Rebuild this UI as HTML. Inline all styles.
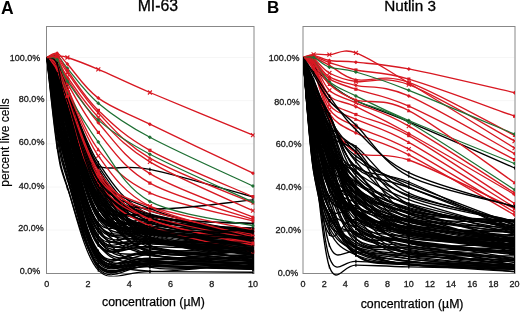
<!DOCTYPE html><html><head><meta charset="utf-8"><style>
html,body{margin:0;padding:0;background:#fff;width:520px;height:312px;overflow:hidden}
svg{display:block}

svg{will-change:transform}
</style></head><body><div class="wrap">
<svg width="520" height="312" viewBox="0 0 520 312" font-family="'Liberation Sans', sans-serif">
<defs><clipPath id="ca"><rect x="46.5" y="26.4" width="208" height="250"/></clipPath>
<clipPath id="cb"><rect x="303" y="26.4" width="212" height="250"/></clipPath></defs>
<rect width="520" height="312" fill="#fff"/>
<path d="M47 230.1H253.5M303.5 230.1H514.5" stroke="#f6f6f6" stroke-width="1"/><path d="M47 187.0H253.5M303.5 187.0H514.5" stroke="#f6f6f6" stroke-width="1"/><path d="M47 143.8H253.5M303.5 143.8H514.5" stroke="#f6f6f6" stroke-width="1"/><path d="M47 100.7H253.5M303.5 100.7H514.5" stroke="#f6f6f6" stroke-width="1"/><path d="M47 57.5H253.5M303.5 57.5H514.5" stroke="#f6f6f6" stroke-width="1"/>
<rect x="46.5" y="26.5" width="207.5" height="247" fill="none" stroke="#888" stroke-width="1"/>
<rect x="303" y="26.5" width="212" height="247" fill="none" stroke="#888" stroke-width="1"/>
<g clip-path="url(#ca)"><path d="M46.8 57.5C48.5 72.5 53.7 125.5 57.1 147.3C60.5 169.0 60.5 168.2 67.4 187.8C74.3 207.3 84.6 251.6 98.3 264.7C112.1 277.8 124.1 265.6 149.9 266.4C175.7 267.2 235.8 268.9 253.0 269.4" stroke="#000" stroke-width="1.35" fill="none"/><path d="M57.1 145.7L57.1 148.9" stroke="#000" stroke-width="1.2"/><path d="M67.4 186.2L67.4 189.4" stroke="#000" stroke-width="1.2"/><path d="M98.3 263.1L98.3 266.3" stroke="#000" stroke-width="1.2"/><path d="M149.9 264.8L149.9 268.0" stroke="#000" stroke-width="1.2"/><path d="M253.0 267.8L253.0 271.0" stroke="#000" stroke-width="1.2"/><path d="M46.8 57.5C48.5 58.7 53.7 59.8 57.1 64.8C60.5 69.9 60.5 70.2 67.4 87.6C74.3 105.0 84.6 145.7 98.3 169.1C112.1 192.5 124.1 215.5 149.9 227.9C175.7 240.4 235.8 241.0 253.0 243.7" stroke="#000" stroke-width="1.35" fill="none"/><path d="M57.1 63.2L57.1 66.4" stroke="#000" stroke-width="1.2"/><path d="M67.4 86.0L67.4 89.2" stroke="#000" stroke-width="1.2"/><path d="M98.3 167.5L98.3 170.7" stroke="#000" stroke-width="1.2"/><path d="M149.9 226.3L149.9 229.5" stroke="#000" stroke-width="1.2"/><path d="M253.0 242.1L253.0 245.3" stroke="#000" stroke-width="1.2"/><path d="M46.8 57.5C48.5 61.5 53.7 70.2 57.1 81.5C60.5 92.8 60.5 103.0 67.4 125.2C74.3 147.3 84.6 196.2 98.3 214.3C112.1 232.5 124.1 230.5 149.9 233.9C175.7 237.4 235.8 234.7 253.0 234.9" stroke="#000" stroke-width="1.35" fill="none"/><path d="M57.1 79.9L57.1 83.1" stroke="#000" stroke-width="1.2"/><path d="M67.4 123.6L67.4 126.8" stroke="#000" stroke-width="1.2"/><path d="M98.3 212.7L98.3 215.9" stroke="#000" stroke-width="1.2"/><path d="M149.9 232.3L149.9 235.5" stroke="#000" stroke-width="1.2"/><path d="M253.0 233.3L253.0 236.5" stroke="#000" stroke-width="1.2"/><path d="M46.8 57.5C48.5 59.1 53.7 60.5 57.1 67.2C60.5 73.9 60.5 78.2 67.4 97.5C74.3 116.7 84.6 160.5 98.3 182.7C112.1 204.9 124.1 220.4 149.9 230.6C175.7 240.9 235.8 242.0 253.0 244.3" stroke="#000" stroke-width="1.35" fill="none"/><path d="M57.1 65.6L57.1 68.8" stroke="#000" stroke-width="1.2"/><path d="M67.4 95.9L67.4 99.1" stroke="#000" stroke-width="1.2"/><path d="M98.3 181.1L98.3 184.3" stroke="#000" stroke-width="1.2"/><path d="M149.9 229.0L149.9 232.2" stroke="#000" stroke-width="1.2"/><path d="M253.0 242.7L253.0 245.9" stroke="#000" stroke-width="1.2"/><path d="M46.8 57.5C48.5 66.0 53.7 91.8 57.1 108.6C60.5 125.4 60.5 134.1 67.4 158.5C74.3 182.9 84.6 239.4 98.3 255.0C112.1 270.7 124.1 252.2 149.9 252.3C175.7 252.5 235.8 255.3 253.0 255.9" stroke="#000" stroke-width="1.35" fill="none"/><path d="M57.1 107.0L57.1 110.2" stroke="#000" stroke-width="1.2"/><path d="M67.4 156.9L67.4 160.1" stroke="#000" stroke-width="1.2"/><path d="M98.3 253.4L98.3 256.6" stroke="#000" stroke-width="1.2"/><path d="M149.9 250.7L149.9 253.9" stroke="#000" stroke-width="1.2"/><path d="M253.0 254.3L253.0 257.5" stroke="#000" stroke-width="1.2"/><path d="M46.8 57.5C48.5 61.7 53.7 74.1 57.1 82.6C60.5 91.2 60.5 88.6 67.4 108.9C74.3 129.2 84.6 184.3 98.3 204.3C112.1 224.4 124.1 221.7 149.9 229.2C175.7 236.8 235.8 246.3 253.0 249.7" stroke="#000" stroke-width="1.35" fill="none"/><path d="M57.1 81.0L57.1 84.2" stroke="#000" stroke-width="1.2"/><path d="M67.4 107.3L67.4 110.5" stroke="#000" stroke-width="1.2"/><path d="M98.3 202.7L98.3 205.9" stroke="#000" stroke-width="1.2"/><path d="M149.9 227.6L149.9 230.8" stroke="#000" stroke-width="1.2"/><path d="M253.0 248.1L253.0 251.3" stroke="#000" stroke-width="1.2"/><path d="M46.8 57.5C48.5 62.7 53.7 77.1 57.1 88.8C60.5 100.4 60.5 104.8 67.4 127.5C74.3 150.1 84.6 206.5 98.3 224.8C112.1 243.1 124.1 232.4 149.9 237.4C175.7 242.4 235.8 252.0 253.0 254.9" stroke="#000" stroke-width="1.35" fill="none"/><path d="M57.1 87.2L57.1 90.4" stroke="#000" stroke-width="1.2"/><path d="M67.4 125.9L67.4 129.1" stroke="#000" stroke-width="1.2"/><path d="M98.3 223.2L98.3 226.4" stroke="#000" stroke-width="1.2"/><path d="M149.9 235.8L149.9 239.0" stroke="#000" stroke-width="1.2"/><path d="M253.0 253.3L253.0 256.5" stroke="#000" stroke-width="1.2"/><path d="M46.8 57.5C48.5 63.0 53.7 76.7 57.1 90.4C60.5 104.0 60.5 114.5 67.4 139.4C74.3 164.3 84.6 220.5 98.3 239.9C112.1 259.2 124.1 252.0 149.9 255.6C175.7 259.2 235.8 260.4 253.0 261.3" stroke="#000" stroke-width="1.35" fill="none"/><path d="M57.1 88.8L57.1 92.0" stroke="#000" stroke-width="1.2"/><path d="M67.4 137.8L67.4 141.0" stroke="#000" stroke-width="1.2"/><path d="M98.3 238.3L98.3 241.5" stroke="#000" stroke-width="1.2"/><path d="M149.9 254.0L149.9 257.2" stroke="#000" stroke-width="1.2"/><path d="M253.0 259.7L253.0 262.9" stroke="#000" stroke-width="1.2"/><path d="M46.8 57.5C48.5 60.8 53.7 68.3 57.1 77.4C60.5 86.5 60.5 88.6 67.4 112.0C74.3 135.5 84.6 199.3 98.3 217.9C112.1 236.4 124.1 218.9 149.9 223.5C175.7 228.0 235.8 241.5 253.0 245.1" stroke="#000" stroke-width="1.35" fill="none"/><path d="M57.1 75.8L57.1 79.0" stroke="#000" stroke-width="1.2"/><path d="M67.4 110.4L67.4 113.6" stroke="#000" stroke-width="1.2"/><path d="M98.3 216.3L98.3 219.5" stroke="#000" stroke-width="1.2"/><path d="M149.9 221.9L149.9 225.1" stroke="#000" stroke-width="1.2"/><path d="M253.0 243.5L253.0 246.7" stroke="#000" stroke-width="1.2"/><path d="M46.8 57.5C48.5 60.3 53.7 67.5 57.1 74.6C60.5 81.7 60.5 80.7 67.4 100.2C74.3 119.7 84.6 166.8 98.3 191.4C112.1 216.0 124.1 237.8 149.9 247.6C175.7 257.4 235.8 249.6 253.0 250.0" stroke="#000" stroke-width="1.35" fill="none"/><path d="M57.1 73.0L57.1 76.2" stroke="#000" stroke-width="1.2"/><path d="M67.4 98.6L67.4 101.8" stroke="#000" stroke-width="1.2"/><path d="M98.3 189.8L98.3 193.0" stroke="#000" stroke-width="1.2"/><path d="M149.9 246.0L149.9 249.2" stroke="#000" stroke-width="1.2"/><path d="M253.0 248.4L253.0 251.6" stroke="#000" stroke-width="1.2"/><path d="M46.8 57.5C48.5 59.0 53.7 58.3 57.1 66.6C60.5 75.0 60.5 87.3 67.4 107.7C74.3 128.1 84.6 167.3 98.3 189.0C112.1 210.7 124.1 226.1 149.9 237.9C175.7 249.7 235.8 256.3 253.0 259.9" stroke="#000" stroke-width="1.35" fill="none"/><path d="M57.1 65.0L57.1 68.2" stroke="#000" stroke-width="1.2"/><path d="M67.4 106.1L67.4 109.3" stroke="#000" stroke-width="1.2"/><path d="M98.3 187.4L98.3 190.6" stroke="#000" stroke-width="1.2"/><path d="M149.9 236.3L149.9 239.5" stroke="#000" stroke-width="1.2"/><path d="M253.0 258.3L253.0 261.5" stroke="#000" stroke-width="1.2"/><path d="M46.8 57.5C48.5 59.9 53.7 64.1 57.1 71.6C60.5 79.2 60.5 83.8 67.4 102.8C74.3 121.8 84.6 161.9 98.3 185.7C112.1 209.5 124.1 235.2 149.9 245.7C175.7 256.2 235.8 248.3 253.0 248.8" stroke="#000" stroke-width="1.35" fill="none"/><path d="M57.1 70.0L57.1 73.2" stroke="#000" stroke-width="1.2"/><path d="M67.4 101.2L67.4 104.4" stroke="#000" stroke-width="1.2"/><path d="M98.3 184.1L98.3 187.3" stroke="#000" stroke-width="1.2"/><path d="M149.9 244.1L149.9 247.3" stroke="#000" stroke-width="1.2"/><path d="M253.0 247.2L253.0 250.4" stroke="#000" stroke-width="1.2"/><path d="M46.8 57.5C48.5 58.4 53.7 56.9 57.1 62.9C60.5 68.8 60.5 75.6 67.4 93.4C74.3 111.3 84.6 145.7 98.3 169.7C112.1 193.7 124.1 223.6 149.9 237.6C175.7 251.6 235.8 251.0 253.0 253.7" stroke="#000" stroke-width="1.35" fill="none"/><path d="M57.1 61.3L57.1 64.5" stroke="#000" stroke-width="1.2"/><path d="M67.4 91.8L67.4 95.0" stroke="#000" stroke-width="1.2"/><path d="M98.3 168.1L98.3 171.3" stroke="#000" stroke-width="1.2"/><path d="M149.9 236.0L149.9 239.2" stroke="#000" stroke-width="1.2"/><path d="M253.0 252.1L253.0 255.3" stroke="#000" stroke-width="1.2"/><path d="M46.8 57.5C48.5 61.2 53.7 70.1 57.1 79.8C60.5 89.5 60.5 93.3 67.4 115.7C74.3 138.0 84.6 194.6 98.3 213.8C112.1 233.1 124.1 225.2 149.9 231.4C175.7 237.5 235.8 247.4 253.0 250.6" stroke="#000" stroke-width="1.35" fill="none"/><path d="M57.1 78.2L57.1 81.4" stroke="#000" stroke-width="1.2"/><path d="M67.4 114.1L67.4 117.3" stroke="#000" stroke-width="1.2"/><path d="M98.3 212.2L98.3 215.4" stroke="#000" stroke-width="1.2"/><path d="M149.9 229.8L149.9 233.0" stroke="#000" stroke-width="1.2"/><path d="M253.0 249.0L253.0 252.2" stroke="#000" stroke-width="1.2"/><path d="M46.8 57.5C48.5 60.2 53.7 66.2 57.1 73.5C60.5 80.7 60.5 80.5 67.4 100.7C74.3 121.0 84.6 175.1 98.3 195.2C112.1 215.2 124.1 215.3 149.9 221.0C175.7 226.7 235.8 227.8 253.0 229.2" stroke="#000" stroke-width="1.35" fill="none"/><path d="M57.1 71.9L57.1 75.1" stroke="#000" stroke-width="1.2"/><path d="M67.4 99.1L67.4 102.3" stroke="#000" stroke-width="1.2"/><path d="M98.3 193.6L98.3 196.8" stroke="#000" stroke-width="1.2"/><path d="M149.9 219.4L149.9 222.6" stroke="#000" stroke-width="1.2"/><path d="M253.0 227.6L253.0 230.8" stroke="#000" stroke-width="1.2"/><path d="M46.8 57.5C48.5 59.2 53.7 61.5 57.1 67.9C60.5 74.3 60.5 76.5 67.4 95.8C74.3 115.2 84.6 163.7 98.3 184.1C112.1 204.6 124.1 211.1 149.9 218.6C175.7 226.0 235.8 226.9 253.0 228.6" stroke="#000" stroke-width="1.35" fill="none"/><path d="M57.1 66.3L57.1 69.5" stroke="#000" stroke-width="1.2"/><path d="M67.4 94.2L67.4 97.4" stroke="#000" stroke-width="1.2"/><path d="M98.3 182.5L98.3 185.7" stroke="#000" stroke-width="1.2"/><path d="M149.9 217.0L149.9 220.2" stroke="#000" stroke-width="1.2"/><path d="M253.0 227.0L253.0 230.2" stroke="#000" stroke-width="1.2"/><path d="M46.8 57.5C48.5 58.8 53.7 57.6 57.1 65.3C60.5 73.0 60.5 83.1 67.4 103.5C74.3 124.0 84.6 168.4 98.3 188.2C112.1 208.1 124.1 214.2 149.9 222.8C175.7 231.3 235.8 236.7 253.0 239.5" stroke="#000" stroke-width="1.35" fill="none"/><path d="M57.1 63.7L57.1 66.9" stroke="#000" stroke-width="1.2"/><path d="M67.4 101.9L67.4 105.1" stroke="#000" stroke-width="1.2"/><path d="M98.3 186.6L98.3 189.8" stroke="#000" stroke-width="1.2"/><path d="M149.9 221.2L149.9 224.4" stroke="#000" stroke-width="1.2"/><path d="M253.0 237.9L253.0 241.1" stroke="#000" stroke-width="1.2"/><path d="M46.8 57.5C48.5 58.4 53.7 57.2 57.1 63.0C60.5 68.8 60.5 72.7 67.4 92.4C74.3 112.1 84.6 159.4 98.3 181.2C112.1 203.0 124.1 214.6 149.9 223.1C175.7 231.6 235.8 230.9 253.0 232.4" stroke="#000" stroke-width="1.35" fill="none"/><path d="M57.1 61.4L57.1 64.6" stroke="#000" stroke-width="1.2"/><path d="M67.4 90.8L67.4 94.0" stroke="#000" stroke-width="1.2"/><path d="M98.3 179.6L98.3 182.8" stroke="#000" stroke-width="1.2"/><path d="M149.9 221.5L149.9 224.7" stroke="#000" stroke-width="1.2"/><path d="M253.0 230.8L253.0 234.0" stroke="#000" stroke-width="1.2"/><path d="M46.8 57.5C48.5 64.3 53.7 84.7 57.1 98.1C60.5 111.5 60.5 114.7 67.4 138.0C74.3 161.3 84.6 221.0 98.3 237.9C112.1 254.9 124.1 236.8 149.9 239.6C175.7 242.5 235.8 252.6 253.0 255.2" stroke="#000" stroke-width="1.35" fill="none"/><path d="M57.1 96.5L57.1 99.7" stroke="#000" stroke-width="1.2"/><path d="M67.4 136.4L67.4 139.6" stroke="#000" stroke-width="1.2"/><path d="M98.3 236.3L98.3 239.5" stroke="#000" stroke-width="1.2"/><path d="M149.9 238.0L149.9 241.2" stroke="#000" stroke-width="1.2"/><path d="M253.0 253.6L253.0 256.8" stroke="#000" stroke-width="1.2"/><path d="M46.8 57.5C48.5 66.6 53.7 96.5 57.1 112.0C60.5 127.6 60.5 126.8 67.4 150.9C74.3 175.1 84.6 240.1 98.3 257.2C112.1 274.4 124.1 256.1 149.9 254.0C175.7 251.9 235.8 246.2 253.0 244.6" stroke="#000" stroke-width="1.35" fill="none"/><path d="M57.1 110.4L57.1 113.6" stroke="#000" stroke-width="1.2"/><path d="M67.4 149.3L67.4 152.5" stroke="#000" stroke-width="1.2"/><path d="M98.3 255.6L98.3 258.8" stroke="#000" stroke-width="1.2"/><path d="M149.9 252.4L149.9 255.6" stroke="#000" stroke-width="1.2"/><path d="M253.0 243.0L253.0 246.2" stroke="#000" stroke-width="1.2"/><path d="M46.8 57.5C48.5 60.1 53.7 64.3 57.1 73.4C60.5 82.4 60.5 91.3 67.4 111.9C74.3 132.5 84.6 173.2 98.3 196.7C112.1 220.2 124.1 243.0 149.9 253.2C175.7 263.4 235.8 257.2 253.0 258.0" stroke="#000" stroke-width="1.35" fill="none"/><path d="M57.1 71.8L57.1 75.0" stroke="#000" stroke-width="1.2"/><path d="M67.4 110.3L67.4 113.5" stroke="#000" stroke-width="1.2"/><path d="M98.3 195.1L98.3 198.3" stroke="#000" stroke-width="1.2"/><path d="M149.9 251.6L149.9 254.8" stroke="#000" stroke-width="1.2"/><path d="M253.0 256.4L253.0 259.6" stroke="#000" stroke-width="1.2"/><path d="M46.8 57.5C48.5 62.1 53.7 73.3 57.1 84.9C60.5 96.4 60.5 105.3 67.4 126.8C74.3 148.4 84.6 197.0 98.3 214.1C112.1 231.1 124.1 225.7 149.9 229.1C175.7 232.5 235.8 233.7 253.0 234.7" stroke="#000" stroke-width="1.35" fill="none"/><path d="M57.1 83.3L57.1 86.5" stroke="#000" stroke-width="1.2"/><path d="M67.4 125.2L67.4 128.4" stroke="#000" stroke-width="1.2"/><path d="M98.3 212.5L98.3 215.7" stroke="#000" stroke-width="1.2"/><path d="M149.9 227.5L149.9 230.7" stroke="#000" stroke-width="1.2"/><path d="M253.0 233.1L253.0 236.3" stroke="#000" stroke-width="1.2"/><path d="M46.8 57.5C48.5 60.1 53.7 64.2 57.1 73.2C60.5 82.2 60.5 89.7 67.4 111.4C74.3 133.1 84.6 180.0 98.3 203.4C112.1 226.7 124.1 243.5 149.9 251.5C175.7 259.5 235.8 251.4 253.0 251.3" stroke="#000" stroke-width="1.35" fill="none"/><path d="M57.1 71.6L57.1 74.8" stroke="#000" stroke-width="1.2"/><path d="M67.4 109.8L67.4 113.0" stroke="#000" stroke-width="1.2"/><path d="M98.3 201.8L98.3 205.0" stroke="#000" stroke-width="1.2"/><path d="M149.9 249.9L149.9 253.1" stroke="#000" stroke-width="1.2"/><path d="M253.0 249.7L253.0 252.9" stroke="#000" stroke-width="1.2"/><path d="M46.8 57.5C48.5 61.2 53.7 71.2 57.1 80.0C60.5 88.8 60.5 90.1 67.4 110.4C74.3 130.7 84.6 178.4 98.3 201.8C112.1 225.2 124.1 242.7 149.9 250.8C175.7 258.9 235.8 250.5 253.0 250.4" stroke="#000" stroke-width="1.35" fill="none"/><path d="M57.1 78.4L57.1 81.6" stroke="#000" stroke-width="1.2"/><path d="M67.4 108.8L67.4 112.0" stroke="#000" stroke-width="1.2"/><path d="M98.3 200.2L98.3 203.4" stroke="#000" stroke-width="1.2"/><path d="M149.9 249.2L149.9 252.4" stroke="#000" stroke-width="1.2"/><path d="M253.0 248.8L253.0 252.0" stroke="#000" stroke-width="1.2"/><path d="M46.8 57.5C48.5 59.1 53.7 60.7 57.1 66.9C60.5 73.1 60.5 74.6 67.4 94.6C74.3 114.6 84.6 166.9 98.3 186.8C112.1 206.7 124.1 206.1 149.9 213.8C175.7 221.5 235.8 229.8 253.0 233.0" stroke="#000" stroke-width="1.35" fill="none"/><path d="M57.1 65.3L57.1 68.5" stroke="#000" stroke-width="1.2"/><path d="M67.4 93.0L67.4 96.2" stroke="#000" stroke-width="1.2"/><path d="M98.3 185.2L98.3 188.4" stroke="#000" stroke-width="1.2"/><path d="M149.9 212.2L149.9 215.4" stroke="#000" stroke-width="1.2"/><path d="M253.0 231.4L253.0 234.6" stroke="#000" stroke-width="1.2"/><path d="M46.8 57.5C48.5 61.9 53.7 72.1 57.1 83.6C60.5 95.2 60.5 102.6 67.4 126.5C74.3 150.5 84.6 209.6 98.3 227.4C112.1 245.1 124.1 230.8 149.9 233.1C175.7 235.5 235.8 240.0 253.0 241.4" stroke="#000" stroke-width="1.35" fill="none"/><path d="M57.1 82.0L57.1 85.2" stroke="#000" stroke-width="1.2"/><path d="M67.4 124.9L67.4 128.1" stroke="#000" stroke-width="1.2"/><path d="M98.3 225.8L98.3 229.0" stroke="#000" stroke-width="1.2"/><path d="M149.9 231.5L149.9 234.7" stroke="#000" stroke-width="1.2"/><path d="M253.0 239.8L253.0 243.0" stroke="#000" stroke-width="1.2"/><path d="M46.8 57.5C48.5 66.1 53.7 90.8 57.1 108.9C60.5 127.1 60.5 141.4 67.4 166.3C74.3 191.2 84.6 242.1 98.3 258.2C112.1 274.3 124.1 262.5 149.9 262.8C175.7 263.1 235.8 260.5 253.0 260.0" stroke="#000" stroke-width="1.35" fill="none"/><path d="M57.1 107.3L57.1 110.5" stroke="#000" stroke-width="1.2"/><path d="M67.4 164.7L67.4 167.9" stroke="#000" stroke-width="1.2"/><path d="M98.3 256.6L98.3 259.8" stroke="#000" stroke-width="1.2"/><path d="M149.9 261.2L149.9 264.4" stroke="#000" stroke-width="1.2"/><path d="M253.0 258.4L253.0 261.6" stroke="#000" stroke-width="1.2"/><path d="M46.8 57.5C48.5 59.2 53.7 62.2 57.1 67.5C60.5 72.7 60.5 71.9 67.4 88.8C74.3 105.6 84.6 146.4 98.3 168.7C112.1 190.9 124.1 210.7 149.9 222.2C175.7 233.6 235.8 234.8 253.0 237.3" stroke="#000" stroke-width="1.35" fill="none"/><path d="M57.1 65.9L57.1 69.1" stroke="#000" stroke-width="1.2"/><path d="M67.4 87.2L67.4 90.4" stroke="#000" stroke-width="1.2"/><path d="M98.3 167.1L98.3 170.3" stroke="#000" stroke-width="1.2"/><path d="M149.9 220.6L149.9 223.8" stroke="#000" stroke-width="1.2"/><path d="M253.0 235.7L253.0 238.9" stroke="#000" stroke-width="1.2"/><path d="M46.8 57.5C48.5 60.0 53.7 62.8 57.1 72.2C60.5 81.6 60.5 93.1 67.4 114.0C74.3 134.9 84.6 178.1 98.3 197.7C112.1 217.4 124.1 226.0 149.9 231.8C175.7 237.7 235.8 232.9 253.0 233.1" stroke="#000" stroke-width="1.35" fill="none"/><path d="M57.1 70.6L57.1 73.8" stroke="#000" stroke-width="1.2"/><path d="M67.4 112.4L67.4 115.6" stroke="#000" stroke-width="1.2"/><path d="M98.3 196.1L98.3 199.3" stroke="#000" stroke-width="1.2"/><path d="M149.9 230.2L149.9 233.4" stroke="#000" stroke-width="1.2"/><path d="M253.0 231.5L253.0 234.7" stroke="#000" stroke-width="1.2"/><path d="M46.8 57.5C48.5 59.3 53.7 61.6 57.1 68.6C60.5 75.5 60.5 79.9 67.4 99.2C74.3 118.6 84.6 165.1 98.3 184.7C112.1 204.2 124.1 210.0 149.9 216.4C175.7 222.9 235.8 222.3 253.0 223.5" stroke="#000" stroke-width="1.35" fill="none"/><path d="M57.1 67.0L57.1 70.2" stroke="#000" stroke-width="1.2"/><path d="M67.4 97.6L67.4 100.8" stroke="#000" stroke-width="1.2"/><path d="M98.3 183.1L98.3 186.3" stroke="#000" stroke-width="1.2"/><path d="M149.9 214.8L149.9 218.0" stroke="#000" stroke-width="1.2"/><path d="M253.0 221.9L253.0 225.1" stroke="#000" stroke-width="1.2"/><path d="M46.8 57.5C48.5 61.3 53.7 69.9 57.1 80.5C60.5 91.1 60.5 98.9 67.4 121.2C74.3 143.6 84.6 192.5 98.3 214.7C112.1 236.9 124.1 247.3 149.9 254.4C175.7 261.5 235.8 256.7 253.0 257.2" stroke="#000" stroke-width="1.35" fill="none"/><path d="M57.1 78.9L57.1 82.1" stroke="#000" stroke-width="1.2"/><path d="M67.4 119.6L67.4 122.8" stroke="#000" stroke-width="1.2"/><path d="M98.3 213.1L98.3 216.3" stroke="#000" stroke-width="1.2"/><path d="M149.9 252.8L149.9 256.0" stroke="#000" stroke-width="1.2"/><path d="M253.0 255.6L253.0 258.8" stroke="#000" stroke-width="1.2"/><path d="M46.8 57.5C48.5 58.9 53.7 59.4 57.1 65.8C60.5 72.2 60.5 76.5 67.4 95.7C74.3 114.9 84.6 159.3 98.3 180.9C112.1 202.5 124.1 215.7 149.9 225.3C175.7 234.8 235.8 236.0 253.0 238.2" stroke="#000" stroke-width="1.35" fill="none"/><path d="M57.1 64.2L57.1 67.4" stroke="#000" stroke-width="1.2"/><path d="M67.4 94.1L67.4 97.3" stroke="#000" stroke-width="1.2"/><path d="M98.3 179.3L98.3 182.5" stroke="#000" stroke-width="1.2"/><path d="M149.9 223.7L149.9 226.9" stroke="#000" stroke-width="1.2"/><path d="M253.0 236.6L253.0 239.8" stroke="#000" stroke-width="1.2"/><path d="M46.8 57.5C48.5 59.8 53.7 65.1 57.1 71.4C60.5 77.8 60.5 77.7 67.4 95.5C74.3 113.3 84.6 155.4 98.3 178.2C112.1 201.1 124.1 221.3 149.9 232.5C175.7 243.7 235.8 243.3 253.0 245.4" stroke="#000" stroke-width="1.35" fill="none"/><path d="M57.1 69.8L57.1 73.0" stroke="#000" stroke-width="1.2"/><path d="M67.4 93.9L67.4 97.1" stroke="#000" stroke-width="1.2"/><path d="M98.3 176.6L98.3 179.8" stroke="#000" stroke-width="1.2"/><path d="M149.9 230.9L149.9 234.1" stroke="#000" stroke-width="1.2"/><path d="M253.0 243.8L253.0 247.0" stroke="#000" stroke-width="1.2"/><path d="M46.8 57.5C48.5 66.0 53.7 92.0 57.1 108.4C60.5 124.8 60.5 131.9 67.4 156.0C74.3 180.0 84.6 235.2 98.3 252.7C112.1 270.1 124.1 261.3 149.9 260.7C175.7 260.1 235.8 251.0 253.0 249.0" stroke="#000" stroke-width="1.35" fill="none"/><path d="M57.1 106.8L57.1 110.0" stroke="#000" stroke-width="1.2"/><path d="M67.4 154.4L67.4 157.6" stroke="#000" stroke-width="1.2"/><path d="M98.3 251.1L98.3 254.3" stroke="#000" stroke-width="1.2"/><path d="M149.9 259.1L149.9 262.3" stroke="#000" stroke-width="1.2"/><path d="M253.0 247.4L253.0 250.6" stroke="#000" stroke-width="1.2"/><path d="M46.8 57.5C48.5 60.0 53.7 64.8 57.1 72.5C60.5 80.2 60.5 83.2 67.4 103.6C74.3 124.0 84.6 174.0 98.3 194.8C112.1 215.6 124.1 222.4 149.9 228.6C175.7 234.9 235.8 231.6 253.0 232.2" stroke="#000" stroke-width="1.35" fill="none"/><path d="M57.1 70.9L57.1 74.1" stroke="#000" stroke-width="1.2"/><path d="M67.4 102.0L67.4 105.2" stroke="#000" stroke-width="1.2"/><path d="M98.3 193.2L98.3 196.4" stroke="#000" stroke-width="1.2"/><path d="M149.9 227.0L149.9 230.2" stroke="#000" stroke-width="1.2"/><path d="M253.0 230.6L253.0 233.8" stroke="#000" stroke-width="1.2"/><path d="M46.8 57.5C48.5 64.0 53.7 82.1 57.1 96.2C60.5 110.3 60.5 117.5 67.4 142.2C74.3 166.9 84.6 223.8 98.3 244.2C112.1 264.7 124.1 260.7 149.9 264.7C175.7 268.8 235.8 267.7 253.0 268.3" stroke="#000" stroke-width="1.35" fill="none"/><path d="M57.1 94.6L57.1 97.8" stroke="#000" stroke-width="1.2"/><path d="M67.4 140.6L67.4 143.8" stroke="#000" stroke-width="1.2"/><path d="M98.3 242.6L98.3 245.8" stroke="#000" stroke-width="1.2"/><path d="M149.9 263.1L149.9 266.3" stroke="#000" stroke-width="1.2"/><path d="M253.0 266.7L253.0 269.9" stroke="#000" stroke-width="1.2"/><path d="M46.8 57.5C48.5 63.0 53.7 76.8 57.1 90.7C60.5 104.5 60.5 118.3 67.4 140.5C74.3 162.7 84.6 204.9 98.3 224.0C112.1 243.0 124.1 249.2 149.9 254.9C175.7 260.6 235.8 257.6 253.0 258.2" stroke="#000" stroke-width="1.35" fill="none"/><path d="M57.1 89.1L57.1 92.3" stroke="#000" stroke-width="1.2"/><path d="M67.4 138.9L67.4 142.1" stroke="#000" stroke-width="1.2"/><path d="M98.3 222.4L98.3 225.6" stroke="#000" stroke-width="1.2"/><path d="M149.9 253.3L149.9 256.5" stroke="#000" stroke-width="1.2"/><path d="M253.0 256.6L253.0 259.8" stroke="#000" stroke-width="1.2"/><path d="M46.8 57.5C48.5 57.5 53.7 52.0 57.1 57.3C60.5 62.7 60.5 71.4 67.4 89.5C74.3 107.6 84.6 144.6 98.3 165.9C112.1 187.3 124.1 207.0 149.9 217.6C175.7 228.3 235.8 227.8 253.0 229.9" stroke="#000" stroke-width="1.35" fill="none"/><path d="M57.1 55.7L57.1 58.9" stroke="#000" stroke-width="1.2"/><path d="M67.4 87.9L67.4 91.1" stroke="#000" stroke-width="1.2"/><path d="M98.3 164.3L98.3 167.5" stroke="#000" stroke-width="1.2"/><path d="M149.9 216.0L149.9 219.2" stroke="#000" stroke-width="1.2"/><path d="M253.0 228.3L253.0 231.5" stroke="#000" stroke-width="1.2"/><path d="M46.8 57.5C48.5 62.5 53.7 75.5 57.1 87.4C60.5 99.3 60.5 106.4 67.4 129.2C74.3 151.9 84.6 205.4 98.3 224.1C112.1 242.8 124.1 236.5 149.9 241.2C175.7 246.0 235.8 250.9 253.0 252.8" stroke="#000" stroke-width="1.35" fill="none"/><path d="M57.1 85.8L57.1 89.0" stroke="#000" stroke-width="1.2"/><path d="M67.4 127.6L67.4 130.8" stroke="#000" stroke-width="1.2"/><path d="M98.3 222.5L98.3 225.7" stroke="#000" stroke-width="1.2"/><path d="M149.9 239.6L149.9 242.8" stroke="#000" stroke-width="1.2"/><path d="M253.0 251.2L253.0 254.4" stroke="#000" stroke-width="1.2"/><path d="M46.8 57.5C48.5 59.7 53.7 63.9 57.1 71.0C60.5 78.0 60.5 79.7 67.4 99.8C74.3 120.0 84.6 170.5 98.3 191.8C112.1 213.0 124.1 218.1 149.9 227.1C175.7 236.1 235.8 242.6 253.0 245.7" stroke="#000" stroke-width="1.35" fill="none"/><path d="M57.1 69.4L57.1 72.6" stroke="#000" stroke-width="1.2"/><path d="M67.4 98.2L67.4 101.4" stroke="#000" stroke-width="1.2"/><path d="M98.3 190.2L98.3 193.4" stroke="#000" stroke-width="1.2"/><path d="M149.9 225.5L149.9 228.7" stroke="#000" stroke-width="1.2"/><path d="M253.0 244.1L253.0 247.3" stroke="#000" stroke-width="1.2"/><path d="M46.8 57.5C48.5 62.1 53.7 74.5 57.1 85.0C60.5 95.5 60.5 98.4 67.4 120.3C74.3 142.2 84.6 197.4 98.3 216.3C112.1 235.2 124.1 229.1 149.9 233.6C175.7 238.1 235.8 241.5 253.0 243.1" stroke="#000" stroke-width="1.35" fill="none"/><path d="M57.1 83.4L57.1 86.6" stroke="#000" stroke-width="1.2"/><path d="M67.4 118.7L67.4 121.9" stroke="#000" stroke-width="1.2"/><path d="M98.3 214.7L98.3 217.9" stroke="#000" stroke-width="1.2"/><path d="M149.9 232.0L149.9 235.2" stroke="#000" stroke-width="1.2"/><path d="M253.0 241.5L253.0 244.7" stroke="#000" stroke-width="1.2"/><path d="M46.8 57.5C48.5 66.7 53.7 94.6 57.1 112.5C60.5 130.4 60.5 140.9 67.4 164.8C74.3 188.8 84.6 239.8 98.3 256.4C112.1 273.1 124.1 262.7 149.9 264.7C175.7 266.7 235.8 268.0 253.0 268.6" stroke="#000" stroke-width="1.35" fill="none"/><path d="M57.1 110.9L57.1 114.1" stroke="#000" stroke-width="1.2"/><path d="M67.4 163.2L67.4 166.4" stroke="#000" stroke-width="1.2"/><path d="M98.3 254.8L98.3 258.0" stroke="#000" stroke-width="1.2"/><path d="M149.9 263.1L149.9 266.3" stroke="#000" stroke-width="1.2"/><path d="M253.0 267.0L253.0 270.2" stroke="#000" stroke-width="1.2"/><path d="M46.8 57.5C48.5 65.2 53.7 89.0 57.1 104.0C60.5 118.9 60.5 123.9 67.4 147.4C74.3 170.8 84.6 228.5 98.3 244.6C112.1 260.6 124.1 241.9 149.9 243.6C175.7 245.3 235.8 253.1 253.0 255.0" stroke="#000" stroke-width="1.35" fill="none"/><path d="M57.1 102.4L57.1 105.6" stroke="#000" stroke-width="1.2"/><path d="M67.4 145.8L67.4 149.0" stroke="#000" stroke-width="1.2"/><path d="M98.3 243.0L98.3 246.2" stroke="#000" stroke-width="1.2"/><path d="M149.9 242.0L149.9 245.2" stroke="#000" stroke-width="1.2"/><path d="M253.0 253.4L253.0 256.6" stroke="#000" stroke-width="1.2"/><path d="M46.8 57.5C48.5 69.3 53.7 109.9 57.1 128.6C60.5 147.3 60.5 146.3 67.4 169.6C74.3 192.9 84.6 252.2 98.3 268.1C112.1 284.0 124.1 266.9 149.9 264.9C175.7 262.9 235.8 257.5 253.0 256.1" stroke="#000" stroke-width="1.35" fill="none"/><path d="M57.1 127.0L57.1 130.2" stroke="#000" stroke-width="1.2"/><path d="M67.4 168.0L67.4 171.2" stroke="#000" stroke-width="1.2"/><path d="M98.3 266.5L98.3 269.7" stroke="#000" stroke-width="1.2"/><path d="M149.9 263.3L149.9 266.5" stroke="#000" stroke-width="1.2"/><path d="M253.0 254.5L253.0 257.7" stroke="#000" stroke-width="1.2"/><path d="M46.8 57.5C48.5 59.3 53.7 57.5 57.1 68.3C60.5 79.1 60.5 97.1 67.4 122.2C74.3 147.4 84.6 200.6 98.3 219.4C112.1 238.1 124.1 231.6 149.9 234.5C175.7 237.3 235.8 236.3 253.0 236.6" stroke="#000" stroke-width="1.35" fill="none"/><path d="M57.1 66.7L57.1 69.9" stroke="#000" stroke-width="1.2"/><path d="M67.4 120.6L67.4 123.8" stroke="#000" stroke-width="1.2"/><path d="M98.3 217.8L98.3 221.0" stroke="#000" stroke-width="1.2"/><path d="M149.9 232.9L149.9 236.1" stroke="#000" stroke-width="1.2"/><path d="M253.0 235.0L253.0 238.2" stroke="#000" stroke-width="1.2"/><path d="M46.8 57.5C48.5 62.8 53.7 75.2 57.1 89.3C60.5 103.4 60.5 117.0 67.4 142.0C74.3 167.0 84.6 222.8 98.3 239.3C112.1 255.9 124.1 241.2 149.9 241.4C175.7 241.6 235.8 240.6 253.0 240.5" stroke="#000" stroke-width="1.35" fill="none"/><path d="M57.1 87.7L57.1 90.9" stroke="#000" stroke-width="1.2"/><path d="M67.4 140.4L67.4 143.6" stroke="#000" stroke-width="1.2"/><path d="M98.3 237.7L98.3 240.9" stroke="#000" stroke-width="1.2"/><path d="M149.9 239.8L149.9 243.0" stroke="#000" stroke-width="1.2"/><path d="M253.0 238.9L253.0 242.1" stroke="#000" stroke-width="1.2"/><path d="M46.8 57.5C48.5 58.6 53.7 59.1 57.1 64.1C60.5 69.0 60.5 68.4 67.4 87.0C74.3 105.6 84.6 153.4 98.3 175.7C112.1 198.1 124.1 211.5 149.9 221.1C175.7 230.8 235.8 231.6 253.0 233.7" stroke="#000" stroke-width="1.35" fill="none"/><path d="M57.1 62.5L57.1 65.7" stroke="#000" stroke-width="1.2"/><path d="M67.4 85.4L67.4 88.6" stroke="#000" stroke-width="1.2"/><path d="M98.3 174.1L98.3 177.3" stroke="#000" stroke-width="1.2"/><path d="M149.9 219.5L149.9 222.7" stroke="#000" stroke-width="1.2"/><path d="M253.0 232.1L253.0 235.3" stroke="#000" stroke-width="1.2"/><path d="M46.8 57.5C48.5 59.1 53.7 60.7 57.1 67.1C60.5 73.6 60.5 78.2 67.4 96.2C74.3 114.3 84.6 154.9 98.3 175.4C112.1 195.9 124.1 209.5 149.9 219.0C175.7 228.6 235.8 230.3 253.0 232.6" stroke="#000" stroke-width="1.35" fill="none"/><path d="M57.1 65.5L57.1 68.7" stroke="#000" stroke-width="1.2"/><path d="M67.4 94.6L67.4 97.8" stroke="#000" stroke-width="1.2"/><path d="M98.3 173.8L98.3 177.0" stroke="#000" stroke-width="1.2"/><path d="M149.9 217.4L149.9 220.6" stroke="#000" stroke-width="1.2"/><path d="M253.0 231.0L253.0 234.2" stroke="#000" stroke-width="1.2"/><path d="M46.8 57.5C48.5 59.7 53.7 64.5 57.1 70.4C60.5 76.4 60.5 75.4 67.4 93.1C74.3 110.8 84.6 152.9 98.3 176.6C112.1 200.2 124.1 224.0 149.9 235.0C175.7 245.9 235.8 241.1 253.0 242.4" stroke="#000" stroke-width="1.35" fill="none"/><path d="M57.1 68.8L57.1 72.0" stroke="#000" stroke-width="1.2"/><path d="M67.4 91.5L67.4 94.7" stroke="#000" stroke-width="1.2"/><path d="M98.3 175.0L98.3 178.2" stroke="#000" stroke-width="1.2"/><path d="M149.9 233.4L149.9 236.6" stroke="#000" stroke-width="1.2"/><path d="M253.0 240.8L253.0 244.0" stroke="#000" stroke-width="1.2"/><path d="M46.8 57.5C48.5 59.0 53.7 60.0 57.1 66.8C60.5 73.5 60.5 79.1 67.4 98.1C74.3 117.1 84.6 162.1 98.3 180.9C112.1 199.7 124.1 202.1 149.9 210.8C175.7 219.4 235.8 229.2 253.0 232.9" stroke="#000" stroke-width="1.35" fill="none"/><path d="M57.1 65.2L57.1 68.4" stroke="#000" stroke-width="1.2"/><path d="M67.4 96.5L67.4 99.7" stroke="#000" stroke-width="1.2"/><path d="M98.3 179.3L98.3 182.5" stroke="#000" stroke-width="1.2"/><path d="M149.9 209.2L149.9 212.4" stroke="#000" stroke-width="1.2"/><path d="M253.0 231.3L253.0 234.5" stroke="#000" stroke-width="1.2"/><path d="M46.8 57.5C48.5 58.6 53.7 56.8 57.1 64.0C60.5 71.2 60.5 78.4 67.4 100.7C74.3 123.0 84.6 178.3 98.3 197.8C112.1 217.2 124.1 212.9 149.9 217.2C175.7 221.5 235.8 222.6 253.0 223.7" stroke="#000" stroke-width="1.35" fill="none"/><path d="M57.1 62.4L57.1 65.6" stroke="#000" stroke-width="1.2"/><path d="M67.4 99.1L67.4 102.3" stroke="#000" stroke-width="1.2"/><path d="M98.3 196.2L98.3 199.4" stroke="#000" stroke-width="1.2"/><path d="M149.9 215.6L149.9 218.8" stroke="#000" stroke-width="1.2"/><path d="M253.0 222.1L253.0 225.3" stroke="#000" stroke-width="1.2"/><path d="M46.8 57.5C48.5 66.2 53.7 94.1 57.1 109.5C60.5 124.8 60.5 125.9 67.4 149.7C74.3 173.5 84.6 234.8 98.3 252.0C112.1 269.3 124.1 251.9 149.9 253.4C175.7 254.9 235.8 259.9 253.0 261.2" stroke="#000" stroke-width="1.35" fill="none"/><path d="M57.1 107.9L57.1 111.1" stroke="#000" stroke-width="1.2"/><path d="M67.4 148.1L67.4 151.3" stroke="#000" stroke-width="1.2"/><path d="M98.3 250.4L98.3 253.6" stroke="#000" stroke-width="1.2"/><path d="M149.9 251.8L149.9 255.0" stroke="#000" stroke-width="1.2"/><path d="M253.0 259.6L253.0 262.8" stroke="#000" stroke-width="1.2"/><path d="M46.8 57.5C48.5 65.2 53.7 89.2 57.1 103.6C60.5 117.9 60.5 120.1 67.4 143.8C74.3 167.4 84.6 229.1 98.3 245.5C112.1 262.0 124.1 242.6 149.9 242.3C175.7 242.0 235.8 243.6 253.0 243.9" stroke="#000" stroke-width="1.35" fill="none"/><path d="M57.1 102.0L57.1 105.2" stroke="#000" stroke-width="1.2"/><path d="M67.4 142.2L67.4 145.4" stroke="#000" stroke-width="1.2"/><path d="M98.3 243.9L98.3 247.1" stroke="#000" stroke-width="1.2"/><path d="M149.9 240.7L149.9 243.9" stroke="#000" stroke-width="1.2"/><path d="M253.0 242.3L253.0 245.5" stroke="#000" stroke-width="1.2"/><path d="M46.8 57.5C48.5 59.0 53.7 60.8 57.1 66.5C60.5 72.2 60.5 73.4 67.4 91.7C74.3 109.9 84.6 156.6 98.3 176.1C112.1 195.6 124.1 198.0 149.9 208.7C175.7 219.4 235.8 235.0 253.0 240.2" stroke="#000" stroke-width="1.35" fill="none"/><path d="M57.1 64.9L57.1 68.1" stroke="#000" stroke-width="1.2"/><path d="M67.4 90.1L67.4 93.3" stroke="#000" stroke-width="1.2"/><path d="M98.3 174.5L98.3 177.7" stroke="#000" stroke-width="1.2"/><path d="M149.9 207.1L149.9 210.3" stroke="#000" stroke-width="1.2"/><path d="M253.0 238.6L253.0 241.8" stroke="#000" stroke-width="1.2"/><path d="M46.8 57.5C48.5 68.7 53.7 106.1 57.1 124.9C60.5 143.7 60.5 146.7 67.4 170.3C74.3 193.9 84.6 251.0 98.3 266.4C112.1 281.9 124.1 264.8 149.9 263.2C175.7 261.6 235.8 257.8 253.0 256.7" stroke="#000" stroke-width="1.35" fill="none"/><path d="M57.1 123.3L57.1 126.5" stroke="#000" stroke-width="1.2"/><path d="M67.4 168.7L67.4 171.9" stroke="#000" stroke-width="1.2"/><path d="M98.3 264.8L98.3 268.0" stroke="#000" stroke-width="1.2"/><path d="M149.9 261.6L149.9 264.8" stroke="#000" stroke-width="1.2"/><path d="M253.0 255.1L253.0 258.3" stroke="#000" stroke-width="1.2"/><path d="M46.8 57.5C48.5 62.9 53.7 78.5 57.1 90.1C60.5 101.7 60.5 105.0 67.4 127.2C74.3 149.3 84.6 207.5 98.3 222.9C112.1 238.3 124.1 217.3 149.9 219.7C175.7 222.1 235.8 234.4 253.0 237.3" stroke="#000" stroke-width="1.35" fill="none"/><path d="M57.1 88.5L57.1 91.7" stroke="#000" stroke-width="1.2"/><path d="M67.4 125.6L67.4 128.8" stroke="#000" stroke-width="1.2"/><path d="M98.3 221.3L98.3 224.5" stroke="#000" stroke-width="1.2"/><path d="M149.9 218.1L149.9 221.3" stroke="#000" stroke-width="1.2"/><path d="M253.0 235.7L253.0 238.9" stroke="#000" stroke-width="1.2"/><path d="M46.8 57.5C48.5 62.1 53.7 73.1 57.1 84.8C60.5 96.6 60.5 104.6 67.4 127.9C74.3 151.1 84.6 206.9 98.3 224.5C112.1 242.0 124.1 229.9 149.9 233.1C175.7 236.4 235.8 242.0 253.0 243.8" stroke="#000" stroke-width="1.35" fill="none"/><path d="M57.1 83.2L57.1 86.4" stroke="#000" stroke-width="1.2"/><path d="M67.4 126.3L67.4 129.5" stroke="#000" stroke-width="1.2"/><path d="M98.3 222.9L98.3 226.1" stroke="#000" stroke-width="1.2"/><path d="M149.9 231.5L149.9 234.7" stroke="#000" stroke-width="1.2"/><path d="M253.0 242.2L253.0 245.4" stroke="#000" stroke-width="1.2"/><path d="M46.8 57.5C48.5 58.5 53.7 58.0 57.1 63.5C60.5 68.9 60.5 73.7 67.4 90.2C74.3 106.7 84.6 141.8 98.3 162.6C112.1 183.3 124.1 202.6 149.9 214.8C175.7 227.1 235.8 232.6 253.0 236.2" stroke="#000" stroke-width="1.35" fill="none"/><path d="M57.1 61.9L57.1 65.1" stroke="#000" stroke-width="1.2"/><path d="M67.4 88.6L67.4 91.8" stroke="#000" stroke-width="1.2"/><path d="M98.3 161.0L98.3 164.2" stroke="#000" stroke-width="1.2"/><path d="M149.9 213.2L149.9 216.4" stroke="#000" stroke-width="1.2"/><path d="M253.0 234.6L253.0 237.8" stroke="#000" stroke-width="1.2"/><path d="M46.8 57.5C48.5 58.9 53.7 58.2 57.1 66.1C60.5 74.0 60.5 81.2 67.4 105.0C74.3 128.7 84.6 188.4 98.3 208.6C112.1 228.7 124.1 222.6 149.9 225.8C175.7 229.1 235.8 227.6 253.0 228.0" stroke="#000" stroke-width="1.35" fill="none"/><path d="M57.1 64.5L57.1 67.7" stroke="#000" stroke-width="1.2"/><path d="M67.4 103.4L67.4 106.6" stroke="#000" stroke-width="1.2"/><path d="M98.3 207.0L98.3 210.2" stroke="#000" stroke-width="1.2"/><path d="M149.9 224.2L149.9 227.4" stroke="#000" stroke-width="1.2"/><path d="M253.0 226.4L253.0 229.6" stroke="#000" stroke-width="1.2"/><path d="M46.8 57.5C48.5 67.1 53.7 97.7 57.1 115.0C60.5 132.4 60.5 137.4 67.4 161.5C74.3 185.6 84.6 243.5 98.3 259.8C112.1 276.1 124.1 260.2 149.9 259.3C175.7 258.4 235.8 255.3 253.0 254.5" stroke="#000" stroke-width="1.35" fill="none"/><path d="M57.1 113.4L57.1 116.6" stroke="#000" stroke-width="1.2"/><path d="M67.4 159.9L67.4 163.1" stroke="#000" stroke-width="1.2"/><path d="M98.3 258.2L98.3 261.4" stroke="#000" stroke-width="1.2"/><path d="M149.9 257.7L149.9 260.9" stroke="#000" stroke-width="1.2"/><path d="M253.0 252.9L253.0 256.1" stroke="#000" stroke-width="1.2"/><path d="M46.8 57.5C48.5 67.4 53.7 98.8 57.1 117.0C60.5 135.3 60.5 143.2 67.4 167.0C74.3 190.7 84.6 243.3 98.3 259.6C112.1 275.9 124.1 263.3 149.9 264.9C175.7 266.5 235.8 268.6 253.0 269.3" stroke="#000" stroke-width="1.35" fill="none"/><path d="M57.1 115.4L57.1 118.6" stroke="#000" stroke-width="1.2"/><path d="M67.4 165.4L67.4 168.6" stroke="#000" stroke-width="1.2"/><path d="M98.3 258.0L98.3 261.2" stroke="#000" stroke-width="1.2"/><path d="M149.9 263.3L149.9 266.5" stroke="#000" stroke-width="1.2"/><path d="M253.0 267.7L253.0 270.9" stroke="#000" stroke-width="1.2"/><path d="M46.8 57.5C48.5 59.5 53.7 60.4 57.1 69.6C60.5 78.8 60.5 90.0 67.4 112.7C74.3 135.4 84.6 186.5 98.3 205.7C112.1 224.9 124.1 220.9 149.9 228.0C175.7 235.0 235.8 244.7 253.0 248.0" stroke="#000" stroke-width="1.35" fill="none"/><path d="M57.1 68.0L57.1 71.2" stroke="#000" stroke-width="1.2"/><path d="M67.4 111.1L67.4 114.3" stroke="#000" stroke-width="1.2"/><path d="M98.3 204.1L98.3 207.3" stroke="#000" stroke-width="1.2"/><path d="M149.9 226.4L149.9 229.6" stroke="#000" stroke-width="1.2"/><path d="M253.0 246.4L253.0 249.6" stroke="#000" stroke-width="1.2"/><path d="M46.8 57.5C48.5 60.2 53.7 65.2 57.1 73.5C60.5 81.8 60.5 84.6 67.4 107.2C74.3 129.7 84.6 186.2 98.3 208.7C112.1 231.1 124.1 235.4 149.9 241.9C175.7 248.4 235.8 246.6 253.0 247.5" stroke="#000" stroke-width="1.35" fill="none"/><path d="M57.1 71.9L57.1 75.1" stroke="#000" stroke-width="1.2"/><path d="M67.4 105.6L67.4 108.8" stroke="#000" stroke-width="1.2"/><path d="M98.3 207.1L98.3 210.3" stroke="#000" stroke-width="1.2"/><path d="M149.9 240.3L149.9 243.5" stroke="#000" stroke-width="1.2"/><path d="M253.0 245.9L253.0 249.1" stroke="#000" stroke-width="1.2"/><path d="M46.8 57.5C48.5 60.5 53.7 67.1 57.1 75.7C60.5 84.3 60.5 87.3 67.4 108.9C74.3 130.5 84.6 183.8 98.3 205.4C112.1 227.1 124.1 232.6 149.9 238.8C175.7 245.1 235.8 242.3 253.0 243.0" stroke="#000" stroke-width="1.35" fill="none"/><path d="M57.1 74.1L57.1 77.3" stroke="#000" stroke-width="1.2"/><path d="M67.4 107.3L67.4 110.5" stroke="#000" stroke-width="1.2"/><path d="M98.3 203.8L98.3 207.0" stroke="#000" stroke-width="1.2"/><path d="M149.9 237.2L149.9 240.4" stroke="#000" stroke-width="1.2"/><path d="M253.0 241.4L253.0 244.6" stroke="#000" stroke-width="1.2"/><path d="M46.8 57.5C48.5 60.5 53.7 67.2 57.1 75.4C60.5 83.5 60.5 86.0 67.4 106.3C74.3 126.7 84.6 175.1 98.3 197.3C112.1 219.4 124.1 230.8 149.9 239.3C175.7 247.7 235.8 246.5 253.0 247.9" stroke="#000" stroke-width="1.35" fill="none"/><path d="M57.1 73.8L57.1 77.0" stroke="#000" stroke-width="1.2"/><path d="M67.4 104.7L67.4 107.9" stroke="#000" stroke-width="1.2"/><path d="M98.3 195.7L98.3 198.9" stroke="#000" stroke-width="1.2"/><path d="M149.9 237.7L149.9 240.9" stroke="#000" stroke-width="1.2"/><path d="M253.0 246.3L253.0 249.5" stroke="#000" stroke-width="1.2"/><path d="M46.8 57.5C48.5 62.3 53.7 73.8 57.1 86.1C60.5 98.3 60.5 106.6 67.4 130.9C74.3 155.2 84.6 213.2 98.3 231.7C112.1 250.2 124.1 238.4 149.9 242.1C175.7 245.7 235.8 251.8 253.0 253.7" stroke="#000" stroke-width="1.35" fill="none"/><path d="M57.1 84.5L57.1 87.7" stroke="#000" stroke-width="1.2"/><path d="M67.4 129.3L67.4 132.5" stroke="#000" stroke-width="1.2"/><path d="M98.3 230.1L98.3 233.3" stroke="#000" stroke-width="1.2"/><path d="M149.9 240.5L149.9 243.7" stroke="#000" stroke-width="1.2"/><path d="M253.0 252.1L253.0 255.3" stroke="#000" stroke-width="1.2"/><path d="M46.8 57.5C48.5 60.5 53.7 67.1 57.1 75.6C60.5 84.2 60.5 87.0 67.4 108.8C74.3 130.5 84.6 185.4 98.3 206.0C112.1 226.6 124.1 226.7 149.9 232.5C175.7 238.2 235.8 239.1 253.0 240.5" stroke="#000" stroke-width="1.35" fill="none"/><path d="M57.1 74.0L57.1 77.2" stroke="#000" stroke-width="1.2"/><path d="M67.4 107.2L67.4 110.4" stroke="#000" stroke-width="1.2"/><path d="M98.3 204.4L98.3 207.6" stroke="#000" stroke-width="1.2"/><path d="M149.9 230.9L149.9 234.1" stroke="#000" stroke-width="1.2"/><path d="M253.0 238.9L253.0 242.1" stroke="#000" stroke-width="1.2"/><path d="M46.8 57.5C48.5 63.7 53.7 81.6 57.1 94.5C60.5 107.4 60.5 111.3 67.4 134.9C74.3 158.5 84.6 219.6 98.3 235.9C112.1 252.3 124.1 232.1 149.9 232.7C175.7 233.4 235.8 238.7 253.0 239.9" stroke="#000" stroke-width="1.35" fill="none"/><path d="M57.1 92.9L57.1 96.1" stroke="#000" stroke-width="1.2"/><path d="M67.4 133.3L67.4 136.5" stroke="#000" stroke-width="1.2"/><path d="M98.3 234.3L98.3 237.5" stroke="#000" stroke-width="1.2"/><path d="M149.9 231.1L149.9 234.3" stroke="#000" stroke-width="1.2"/><path d="M253.0 238.3L253.0 241.5" stroke="#000" stroke-width="1.2"/><path d="M46.8 57.5C48.5 59.5 53.7 62.5 57.1 69.4C60.5 76.2 60.5 80.7 67.4 98.5C74.3 116.3 84.6 158.2 98.3 176.2C112.1 194.2 124.1 197.4 149.9 206.4C175.7 215.4 235.8 226.2 253.0 230.1" stroke="#d81822" stroke-width="1.35" fill="none"/><path d="M55.1 67.4L59.1 71.4M55.1 71.4L59.1 67.4" stroke="#d81822" stroke-width="1.1" fill="none"/><path d="M65.4 96.5L69.4 100.5M65.4 100.5L69.4 96.5" stroke="#d81822" stroke-width="1.1" fill="none"/><path d="M96.3 174.2L100.3 178.2M96.3 178.2L100.3 174.2" stroke="#d81822" stroke-width="1.1" fill="none"/><path d="M147.9 204.4L151.9 208.4M147.9 208.4L151.9 204.4" stroke="#d81822" stroke-width="1.1" fill="none"/><path d="M251.0 228.1L255.0 232.1M251.0 232.1L255.0 228.1" stroke="#d81822" stroke-width="1.1" fill="none"/><path d="M46.8 57.5C48.5 60.5 53.7 65.5 57.1 75.4C60.5 85.3 60.5 95.2 67.4 117.0C74.3 138.9 84.6 189.8 98.3 206.3C112.1 222.9 124.1 211.8 149.9 216.6C175.7 221.3 235.8 231.7 253.0 234.7" stroke="#000" stroke-width="1.35" fill="none"/><path d="M57.1 73.8L57.1 77.0" stroke="#000" stroke-width="1.2"/><path d="M67.4 115.4L67.4 118.6" stroke="#000" stroke-width="1.2"/><path d="M98.3 204.7L98.3 207.9" stroke="#000" stroke-width="1.2"/><path d="M149.9 215.0L149.9 218.2" stroke="#000" stroke-width="1.2"/><path d="M253.0 233.1L253.0 236.3" stroke="#000" stroke-width="1.2"/><path d="M46.8 57.5C48.5 62.9 53.7 76.2 57.1 89.9C60.5 103.5 60.5 126.8 67.4 139.5C74.3 152.2 84.6 161.3 98.3 166.3C112.1 171.2 124.1 164.2 149.9 169.3C175.7 174.4 235.8 192.3 253.0 196.9" stroke="#000" stroke-width="1.35" fill="none"/><path d="M57.1 88.3L57.1 91.5" stroke="#000" stroke-width="1.2"/><path d="M67.4 137.9L67.4 141.1" stroke="#000" stroke-width="1.2"/><path d="M98.3 164.7L98.3 167.9" stroke="#000" stroke-width="1.2"/><path d="M149.9 167.7L149.9 170.9" stroke="#000" stroke-width="1.2"/><path d="M253.0 195.3L253.0 198.5" stroke="#000" stroke-width="1.2"/><path d="M46.8 57.5C48.5 58.1 53.7 55.0 57.1 61.2C60.5 67.3 60.5 75.5 67.4 94.3C74.3 113.1 84.6 153.4 98.3 174.0C112.1 194.7 124.1 208.0 149.9 218.1C175.7 228.3 235.8 232.0 253.0 234.8" stroke="#000" stroke-width="1.35" fill="none"/><path d="M57.1 59.6L57.1 62.8" stroke="#000" stroke-width="1.2"/><path d="M67.4 92.7L67.4 95.9" stroke="#000" stroke-width="1.2"/><path d="M98.3 172.4L98.3 175.6" stroke="#000" stroke-width="1.2"/><path d="M149.9 216.5L149.9 219.7" stroke="#000" stroke-width="1.2"/><path d="M253.0 233.2L253.0 236.4" stroke="#000" stroke-width="1.2"/><path d="M46.8 57.5C48.5 59.9 53.7 63.5 57.1 72.0C60.5 80.6 60.5 88.5 67.4 108.8C74.3 129.1 84.6 176.1 98.3 193.8C112.1 211.5 124.1 208.5 149.9 214.8C175.7 221.1 235.8 228.9 253.0 231.7" stroke="#000" stroke-width="1.35" fill="none"/><path d="M57.1 70.4L57.1 73.6" stroke="#000" stroke-width="1.2"/><path d="M67.4 107.2L67.4 110.4" stroke="#000" stroke-width="1.2"/><path d="M98.3 192.2L98.3 195.4" stroke="#000" stroke-width="1.2"/><path d="M149.9 213.2L149.9 216.4" stroke="#000" stroke-width="1.2"/><path d="M253.0 230.1L253.0 233.3" stroke="#000" stroke-width="1.2"/><path d="M46.8 57.5C48.5 59.3 53.7 61.2 57.1 68.2C60.5 75.1 60.5 78.8 67.4 99.2C74.3 119.6 84.6 168.6 98.3 190.5C112.1 212.4 124.1 222.4 149.9 230.4C175.7 238.4 235.8 237.2 253.0 238.5" stroke="#000" stroke-width="1.35" fill="none"/><path d="M57.1 66.6L57.1 69.8" stroke="#000" stroke-width="1.2"/><path d="M67.4 97.6L67.4 100.8" stroke="#000" stroke-width="1.2"/><path d="M98.3 188.9L98.3 192.1" stroke="#000" stroke-width="1.2"/><path d="M149.9 228.8L149.9 232.0" stroke="#000" stroke-width="1.2"/><path d="M253.0 236.9L253.0 240.1" stroke="#000" stroke-width="1.2"/><path d="M46.8 57.5C48.5 66.9 53.7 97.7 57.1 113.7C60.5 129.6 60.5 129.4 67.4 153.2C74.3 176.9 84.6 238.5 98.3 256.1C112.1 273.7 124.1 257.2 149.9 258.7C175.7 260.1 235.8 263.6 253.0 264.6" stroke="#000" stroke-width="1.35" fill="none"/><path d="M57.1 112.1L57.1 115.3" stroke="#000" stroke-width="1.2"/><path d="M67.4 151.6L67.4 154.8" stroke="#000" stroke-width="1.2"/><path d="M98.3 254.5L98.3 257.7" stroke="#000" stroke-width="1.2"/><path d="M149.9 257.1L149.9 260.3" stroke="#000" stroke-width="1.2"/><path d="M253.0 263.0L253.0 266.2" stroke="#000" stroke-width="1.2"/><path d="M46.8 57.5C48.5 57.1 53.7 53.5 57.1 55.3C60.5 57.1 60.5 60.3 67.4 68.3C74.3 76.3 84.6 91.7 98.3 103.2C112.1 114.8 124.1 123.5 149.9 137.3C175.7 151.2 235.8 178.0 253.0 186.1" stroke="#1f7034" stroke-width="1.25" fill="none"/><path d="M57.1 53.3L59.1 55.3L57.1 57.3L55.1 55.3Z" fill="#1f7034"/><path d="M67.4 66.3L69.4 68.3L67.4 70.3L65.4 68.3Z" fill="#1f7034"/><path d="M98.3 101.2L100.3 103.2L98.3 105.2L96.3 103.2Z" fill="#1f7034"/><path d="M149.9 135.3L151.9 137.3L149.9 139.3L147.9 137.3Z" fill="#1f7034"/><path d="M253.0 184.1L255.0 186.1L253.0 188.1L251.0 186.1Z" fill="#1f7034"/><path d="M46.8 57.5C48.5 65.8 53.7 90.8 57.1 107.5C60.5 124.2 60.5 133.8 67.4 157.8C74.3 181.7 84.6 232.2 98.3 251.1C112.1 270.0 124.1 269.3 149.9 271.2C175.7 273.1 235.8 263.8 253.0 262.4" stroke="#000" stroke-width="1.35" fill="none"/><path d="M57.1 105.9L57.1 109.1" stroke="#000" stroke-width="1.2"/><path d="M67.4 156.2L67.4 159.4" stroke="#000" stroke-width="1.2"/><path d="M98.3 249.5L98.3 252.7" stroke="#000" stroke-width="1.2"/><path d="M149.9 269.6L149.9 272.8" stroke="#000" stroke-width="1.2"/><path d="M253.0 260.8L253.0 264.0" stroke="#000" stroke-width="1.2"/><path d="M46.8 57.5C48.5 62.6 53.7 75.8 57.1 87.9C60.5 100.0 60.5 107.0 67.4 130.3C74.3 153.6 84.6 204.9 98.3 227.7C112.1 250.5 124.1 261.2 149.9 267.1C175.7 272.9 235.8 263.5 253.0 262.8" stroke="#000" stroke-width="1.35" fill="none"/><path d="M57.1 86.3L57.1 89.5" stroke="#000" stroke-width="1.2"/><path d="M67.4 128.7L67.4 131.9" stroke="#000" stroke-width="1.2"/><path d="M98.3 226.1L98.3 229.3" stroke="#000" stroke-width="1.2"/><path d="M149.9 265.5L149.9 268.7" stroke="#000" stroke-width="1.2"/><path d="M253.0 261.2L253.0 264.4" stroke="#000" stroke-width="1.2"/><path d="M46.8 57.5C48.5 62.2 53.7 76.2 57.1 85.9C60.5 95.6 60.5 94.3 67.4 115.6C74.3 136.8 84.6 195.4 98.3 213.4C112.1 231.4 124.1 219.1 149.9 223.7C175.7 228.3 235.8 238.1 253.0 241.0" stroke="#000" stroke-width="1.35" fill="none"/><path d="M57.1 84.3L57.1 87.5" stroke="#000" stroke-width="1.2"/><path d="M67.4 114.0L67.4 117.2" stroke="#000" stroke-width="1.2"/><path d="M98.3 211.8L98.3 215.0" stroke="#000" stroke-width="1.2"/><path d="M149.9 222.1L149.9 225.3" stroke="#000" stroke-width="1.2"/><path d="M253.0 239.4L253.0 242.6" stroke="#000" stroke-width="1.2"/><path d="M46.8 57.5C48.5 60.4 53.7 66.1 57.1 74.8C60.5 83.4 60.5 90.6 67.4 109.3C74.3 128.0 84.6 167.6 98.3 187.0C112.1 206.4 124.1 215.0 149.9 225.8C175.7 236.6 235.8 247.6 253.0 251.9" stroke="#d81822" stroke-width="1.35" fill="none"/><rect x="55.5" y="73.2" width="3.2" height="3.2" fill="#d81822"/><rect x="65.8" y="107.7" width="3.2" height="3.2" fill="#d81822"/><rect x="96.8" y="185.4" width="3.2" height="3.2" fill="#d81822"/><rect x="148.3" y="224.2" width="3.2" height="3.2" fill="#d81822"/><rect x="251.4" y="250.3" width="3.2" height="3.2" fill="#d81822"/><path d="M46.8 57.5C48.5 61.9 53.7 70.7 57.1 83.9C60.5 97.1 60.5 112.1 67.4 136.7C74.3 161.4 84.6 214.1 98.3 231.9C112.1 249.7 124.1 241.6 149.9 243.6C175.7 245.6 235.8 243.8 253.0 243.9" stroke="#000" stroke-width="1.35" fill="none"/><path d="M57.1 82.3L57.1 85.5" stroke="#000" stroke-width="1.2"/><path d="M67.4 135.1L67.4 138.3" stroke="#000" stroke-width="1.2"/><path d="M98.3 230.3L98.3 233.5" stroke="#000" stroke-width="1.2"/><path d="M149.9 242.0L149.9 245.2" stroke="#000" stroke-width="1.2"/><path d="M253.0 242.3L253.0 245.5" stroke="#000" stroke-width="1.2"/><path d="M46.8 57.5C48.5 67.5 53.7 100.4 57.1 117.6C60.5 134.8 60.5 136.9 67.4 160.7C74.3 184.5 84.6 243.6 98.3 260.4C112.1 277.2 124.1 260.6 149.9 261.5C175.7 262.3 235.8 265.0 253.0 265.7" stroke="#000" stroke-width="1.35" fill="none"/><path d="M57.1 116.0L57.1 119.2" stroke="#000" stroke-width="1.2"/><path d="M67.4 159.1L67.4 162.3" stroke="#000" stroke-width="1.2"/><path d="M98.3 258.8L98.3 262.0" stroke="#000" stroke-width="1.2"/><path d="M149.9 259.9L149.9 263.1" stroke="#000" stroke-width="1.2"/><path d="M253.0 264.1L253.0 267.3" stroke="#000" stroke-width="1.2"/><path d="M46.8 57.5C48.5 58.6 53.7 58.9 57.1 64.0C60.5 69.0 60.5 73.4 67.4 87.7C74.3 102.0 84.6 132.1 98.3 149.6C112.1 167.2 124.1 180.9 149.9 192.8C175.7 204.7 235.8 216.2 253.0 220.9" stroke="#d81822" stroke-width="1.35" fill="none"/><path d="M57.1 62.0L59.1 65.6L55.1 65.6Z" fill="#d81822"/><path d="M67.4 85.7L69.4 89.3L65.4 89.3Z" fill="#d81822"/><path d="M98.3 147.6L100.3 151.2L96.3 151.2Z" fill="#d81822"/><path d="M149.9 190.8L151.9 194.4L147.9 194.4Z" fill="#d81822"/><path d="M253.0 218.9L255.0 222.5L251.0 222.5Z" fill="#d81822"/><path d="M46.8 57.5C48.5 58.9 53.7 60.0 57.1 66.1C60.5 72.2 60.5 76.7 67.4 94.2C74.3 111.6 84.6 150.7 98.3 170.8C112.1 190.9 124.1 203.7 149.9 215.0C175.7 226.4 235.8 234.8 253.0 238.8" stroke="#d81822" stroke-width="1.35" fill="none"/><path d="M57.1 64.1L59.1 66.1L57.1 68.1L55.1 66.1Z" fill="#d81822"/><path d="M67.4 92.2L69.4 94.2L67.4 96.2L65.4 94.2Z" fill="#d81822"/><path d="M98.3 168.8L100.3 170.8L98.3 172.8L96.3 170.8Z" fill="#d81822"/><path d="M149.9 213.0L151.9 215.0L149.9 217.0L147.9 215.0Z" fill="#d81822"/><path d="M253.0 236.8L255.0 238.8L253.0 240.8L251.0 238.8Z" fill="#d81822"/><path d="M46.8 57.5C48.5 60.8 53.7 67.8 57.1 77.5C60.5 87.3 60.5 94.1 67.4 116.0C74.3 137.9 84.6 189.1 98.3 208.9C112.1 228.7 124.1 229.9 149.9 234.7C175.7 239.5 235.8 237.2 253.0 237.6" stroke="#000" stroke-width="1.35" fill="none"/><path d="M57.1 75.9L57.1 79.1" stroke="#000" stroke-width="1.2"/><path d="M67.4 114.4L67.4 117.6" stroke="#000" stroke-width="1.2"/><path d="M98.3 207.3L98.3 210.5" stroke="#000" stroke-width="1.2"/><path d="M149.9 233.1L149.9 236.3" stroke="#000" stroke-width="1.2"/><path d="M253.0 236.0L253.0 239.2" stroke="#000" stroke-width="1.2"/><path d="M46.8 57.5C48.5 58.2 53.7 56.4 57.1 61.8C60.5 67.2 60.5 69.0 67.4 89.9C74.3 110.7 84.6 167.2 98.3 187.0C112.1 206.8 124.1 206.4 149.9 208.6C175.7 210.7 235.8 201.4 253.0 199.9" stroke="#000" stroke-width="1.35" fill="none"/><path d="M57.1 60.2L57.1 63.4" stroke="#000" stroke-width="1.2"/><path d="M67.4 88.3L67.4 91.5" stroke="#000" stroke-width="1.2"/><path d="M98.3 185.4L98.3 188.6" stroke="#000" stroke-width="1.2"/><path d="M149.9 207.0L149.9 210.2" stroke="#000" stroke-width="1.2"/><path d="M253.0 198.3L253.0 201.5" stroke="#000" stroke-width="1.2"/><path d="M46.8 57.5C48.5 61.3 53.7 70.1 57.1 80.4C60.5 90.6 60.5 96.7 67.4 119.2C74.3 141.6 84.6 196.1 98.3 215.0C112.1 233.9 124.1 226.6 149.9 232.5C175.7 238.5 235.8 247.8 253.0 250.9" stroke="#000" stroke-width="1.35" fill="none"/><path d="M57.1 78.8L57.1 82.0" stroke="#000" stroke-width="1.2"/><path d="M67.4 117.6L67.4 120.8" stroke="#000" stroke-width="1.2"/><path d="M98.3 213.4L98.3 216.6" stroke="#000" stroke-width="1.2"/><path d="M149.9 230.9L149.9 234.1" stroke="#000" stroke-width="1.2"/><path d="M253.0 249.3L253.0 252.5" stroke="#000" stroke-width="1.2"/><path d="M46.8 57.5C48.5 60.0 53.7 64.7 57.1 72.6C60.5 80.5 60.5 86.6 67.4 105.0C74.3 123.3 84.6 163.6 98.3 182.7C112.1 201.7 124.1 208.9 149.9 219.4C175.7 229.8 235.8 240.9 253.0 245.2" stroke="#d81822" stroke-width="1.35" fill="none"/><path d="M57.1 70.6L59.1 72.6L57.1 74.6L55.1 72.6Z" fill="#d81822"/><path d="M67.4 103.0L69.4 105.0L67.4 107.0L65.4 105.0Z" fill="#d81822"/><path d="M98.3 180.7L100.3 182.7L98.3 184.7L96.3 182.7Z" fill="#d81822"/><path d="M149.9 217.4L151.9 219.4L149.9 221.4L147.9 219.4Z" fill="#d81822"/><path d="M253.0 243.2L255.0 245.2L253.0 247.2L251.0 245.2Z" fill="#d81822"/><path d="M46.8 57.5C48.5 58.2 53.7 57.5 57.1 61.8C60.5 66.1 60.5 71.6 67.4 83.4C74.3 95.2 84.6 115.8 98.3 132.4C112.1 149.0 124.1 168.6 149.9 183.1C175.7 197.6 235.8 213.3 253.0 219.4" stroke="#d81822" stroke-width="1.35" fill="none"/><rect x="55.5" y="60.2" width="3.2" height="3.2" fill="#d81822"/><rect x="65.8" y="81.8" width="3.2" height="3.2" fill="#d81822"/><rect x="96.8" y="130.8" width="3.2" height="3.2" fill="#d81822"/><rect x="148.3" y="181.5" width="3.2" height="3.2" fill="#d81822"/><rect x="251.4" y="217.8" width="3.2" height="3.2" fill="#d81822"/><path d="M46.8 57.5C48.5 65.5 53.7 90.8 57.1 105.5C60.5 120.2 60.5 120.9 67.4 145.7C74.3 170.5 84.6 236.8 98.3 254.3C112.1 271.9 124.1 250.1 149.9 251.1C175.7 252.1 235.8 258.8 253.0 260.3" stroke="#000" stroke-width="1.35" fill="none"/><path d="M57.1 103.9L57.1 107.1" stroke="#000" stroke-width="1.2"/><path d="M67.4 144.1L67.4 147.3" stroke="#000" stroke-width="1.2"/><path d="M98.3 252.7L98.3 255.9" stroke="#000" stroke-width="1.2"/><path d="M149.9 249.5L149.9 252.7" stroke="#000" stroke-width="1.2"/><path d="M253.0 258.7L253.0 261.9" stroke="#000" stroke-width="1.2"/><path d="M46.8 57.5C48.5 70.8 53.7 116.7 57.1 137.0C60.5 157.4 60.5 158.4 67.4 179.7C74.3 201.1 84.6 250.8 98.3 265.3C112.1 279.8 124.1 266.3 149.9 266.7C175.7 267.1 235.8 267.3 253.0 267.4" stroke="#000" stroke-width="1.35" fill="none"/><path d="M57.1 135.4L57.1 138.6" stroke="#000" stroke-width="1.2"/><path d="M67.4 178.1L67.4 181.3" stroke="#000" stroke-width="1.2"/><path d="M98.3 263.7L98.3 266.9" stroke="#000" stroke-width="1.2"/><path d="M149.9 265.1L149.9 268.3" stroke="#000" stroke-width="1.2"/><path d="M253.0 265.8L253.0 269.0" stroke="#000" stroke-width="1.2"/><path d="M46.8 57.5C48.5 60.5 53.7 68.4 57.1 75.7C60.5 83.0 60.5 83.0 67.4 101.4C74.3 119.7 84.6 163.9 98.3 185.9C112.1 208.0 124.1 222.7 149.9 233.5C175.7 244.3 235.8 247.8 253.0 250.7" stroke="#000" stroke-width="1.35" fill="none"/><path d="M57.1 74.1L57.1 77.3" stroke="#000" stroke-width="1.2"/><path d="M67.4 99.8L67.4 103.0" stroke="#000" stroke-width="1.2"/><path d="M98.3 184.3L98.3 187.5" stroke="#000" stroke-width="1.2"/><path d="M149.9 231.9L149.9 235.1" stroke="#000" stroke-width="1.2"/><path d="M253.0 249.1L253.0 252.3" stroke="#000" stroke-width="1.2"/><path d="M46.8 57.5C48.5 59.3 53.7 59.8 57.1 68.1C60.5 76.5 60.5 86.4 67.4 107.8C74.3 129.2 84.6 176.8 98.3 196.6C112.1 216.5 124.1 220.8 149.9 226.9C175.7 233.0 235.8 232.3 253.0 233.3" stroke="#000" stroke-width="1.35" fill="none"/><path d="M57.1 66.5L57.1 69.7" stroke="#000" stroke-width="1.2"/><path d="M67.4 106.2L67.4 109.4" stroke="#000" stroke-width="1.2"/><path d="M98.3 195.0L98.3 198.2" stroke="#000" stroke-width="1.2"/><path d="M149.9 225.3L149.9 228.5" stroke="#000" stroke-width="1.2"/><path d="M253.0 231.7L253.0 234.9" stroke="#000" stroke-width="1.2"/><path d="M46.8 57.5C48.5 59.7 53.7 62.9 57.1 70.4C60.5 78.0 60.5 84.8 67.4 102.8C74.3 120.8 84.6 160.4 98.3 178.3C112.1 196.3 124.1 201.4 149.9 210.7C175.7 220.1 235.8 230.5 253.0 234.5" stroke="#d81822" stroke-width="1.35" fill="none"/><path d="M57.1 68.4L59.1 72.0L55.1 72.0Z" fill="#d81822"/><path d="M67.4 100.8L69.4 104.4L65.4 104.4Z" fill="#d81822"/><path d="M98.3 176.3L100.3 179.9L96.3 179.9Z" fill="#d81822"/><path d="M149.9 208.7L151.9 212.3L147.9 212.3Z" fill="#d81822"/><path d="M253.0 232.5L255.0 236.1L251.0 236.1Z" fill="#d81822"/><path d="M46.8 57.5C48.5 58.1 53.7 55.2 57.1 61.4C60.5 67.5 60.5 74.4 67.4 94.3C74.3 114.2 84.6 157.0 98.3 180.8C112.1 204.6 124.1 226.7 149.9 236.8C175.7 247.0 235.8 241.1 253.0 241.9" stroke="#000" stroke-width="1.35" fill="none"/><path d="M57.1 59.8L57.1 63.0" stroke="#000" stroke-width="1.2"/><path d="M67.4 92.7L67.4 95.9" stroke="#000" stroke-width="1.2"/><path d="M98.3 179.2L98.3 182.4" stroke="#000" stroke-width="1.2"/><path d="M149.9 235.2L149.9 238.4" stroke="#000" stroke-width="1.2"/><path d="M253.0 240.3L253.0 243.5" stroke="#000" stroke-width="1.2"/><path d="M46.8 57.5C48.5 68.4 53.7 104.2 57.1 122.7C60.5 141.1 60.5 145.3 67.4 168.3C74.3 191.3 84.6 245.7 98.3 260.7C112.1 275.7 124.1 257.8 149.9 258.3C175.7 258.7 235.8 262.4 253.0 263.2" stroke="#000" stroke-width="1.35" fill="none"/><path d="M57.1 121.1L57.1 124.3" stroke="#000" stroke-width="1.2"/><path d="M67.4 166.7L67.4 169.9" stroke="#000" stroke-width="1.2"/><path d="M98.3 259.1L98.3 262.3" stroke="#000" stroke-width="1.2"/><path d="M149.9 256.7L149.9 259.9" stroke="#000" stroke-width="1.2"/><path d="M253.0 261.6L253.0 264.8" stroke="#000" stroke-width="1.2"/><path d="M46.8 57.5C48.5 65.1 53.7 89.1 57.1 103.2C60.5 117.3 60.5 118.7 67.4 142.0C74.3 165.4 84.6 223.5 98.3 243.3C112.1 263.1 124.1 256.8 149.9 260.9C175.7 264.9 235.8 266.5 253.0 267.6" stroke="#000" stroke-width="1.35" fill="none"/><path d="M57.1 101.6L57.1 104.8" stroke="#000" stroke-width="1.2"/><path d="M67.4 140.4L67.4 143.6" stroke="#000" stroke-width="1.2"/><path d="M98.3 241.7L98.3 244.9" stroke="#000" stroke-width="1.2"/><path d="M149.9 259.3L149.9 262.5" stroke="#000" stroke-width="1.2"/><path d="M253.0 266.0L253.0 269.2" stroke="#000" stroke-width="1.2"/><path d="M46.8 57.5C48.5 69.1 53.7 108.6 57.1 127.1C60.5 145.6 60.5 145.5 67.4 168.7C74.3 191.9 84.6 250.4 98.3 266.3C112.1 282.1 124.1 264.4 149.9 263.7C175.7 263.1 235.8 262.5 253.0 262.2" stroke="#000" stroke-width="1.35" fill="none"/><path d="M57.1 125.5L57.1 128.7" stroke="#000" stroke-width="1.2"/><path d="M67.4 167.1L67.4 170.3" stroke="#000" stroke-width="1.2"/><path d="M98.3 264.7L98.3 267.9" stroke="#000" stroke-width="1.2"/><path d="M149.9 262.1L149.9 265.3" stroke="#000" stroke-width="1.2"/><path d="M253.0 260.6L253.0 263.8" stroke="#000" stroke-width="1.2"/><path d="M46.8 57.5C48.5 57.5 53.7 55.0 57.1 57.5C60.5 60.0 60.5 63.4 67.4 72.6C74.3 81.8 84.6 98.7 98.3 113.0C112.1 127.2 124.1 143.1 149.9 158.1C175.7 173.1 235.8 195.5 253.0 202.9" stroke="#d81822" stroke-width="1.35" fill="none"/><path d="M57.1 55.5L59.1 59.1L55.1 59.1Z" fill="#d81822"/><path d="M67.4 70.6L69.4 74.2L65.4 74.2Z" fill="#d81822"/><path d="M98.3 111.0L100.3 114.6L96.3 114.6Z" fill="#d81822"/><path d="M149.9 156.1L151.9 159.7L147.9 159.7Z" fill="#d81822"/><path d="M253.0 200.9L255.0 204.5L251.0 204.5Z" fill="#d81822"/><path d="M46.8 57.5C48.5 59.1 53.7 59.9 57.1 66.9C60.5 73.9 60.5 80.6 67.4 99.5C74.3 118.5 84.6 161.2 98.3 180.4C112.1 199.6 124.1 206.1 149.9 214.7C175.7 223.3 235.8 229.1 253.0 231.9" stroke="#000" stroke-width="1.35" fill="none"/><path d="M57.1 65.3L57.1 68.5" stroke="#000" stroke-width="1.2"/><path d="M67.4 97.9L67.4 101.1" stroke="#000" stroke-width="1.2"/><path d="M98.3 178.8L98.3 182.0" stroke="#000" stroke-width="1.2"/><path d="M149.9 213.1L149.9 216.3" stroke="#000" stroke-width="1.2"/><path d="M253.0 230.3L253.0 233.5" stroke="#000" stroke-width="1.2"/><path d="M46.8 57.5C48.5 56.8 53.7 52.1 57.1 53.2C60.5 54.3 60.5 56.5 67.4 64.0C74.3 71.5 84.6 88.0 98.3 98.1C112.1 108.1 124.1 111.7 149.9 124.2C175.7 136.7 235.8 165.0 253.0 173.2" stroke="#d81822" stroke-width="1.35" fill="none"/><path d="M57.1 51.2L59.1 53.2L57.1 55.2L55.1 53.2Z" fill="#d81822"/><path d="M67.4 62.0L69.4 64.0L67.4 66.0L65.4 64.0Z" fill="#d81822"/><path d="M98.3 96.1L100.3 98.1L98.3 100.1L96.3 98.1Z" fill="#d81822"/><path d="M149.9 122.2L151.9 124.2L149.9 126.2L147.9 124.2Z" fill="#d81822"/><path d="M253.0 171.2L255.0 173.2L253.0 175.2L251.0 173.2Z" fill="#d81822"/><path d="M46.8 57.5C48.5 63.1 53.7 77.2 57.1 91.3C60.5 105.3 60.5 116.3 67.4 141.6C74.3 167.0 84.6 226.1 98.3 243.6C112.1 261.1 124.1 245.6 149.9 246.5C175.7 247.5 235.8 248.7 253.0 249.1" stroke="#000" stroke-width="1.35" fill="none"/><path d="M57.1 89.7L57.1 92.9" stroke="#000" stroke-width="1.2"/><path d="M67.4 140.0L67.4 143.2" stroke="#000" stroke-width="1.2"/><path d="M98.3 242.0L98.3 245.2" stroke="#000" stroke-width="1.2"/><path d="M149.9 244.9L149.9 248.1" stroke="#000" stroke-width="1.2"/><path d="M253.0 247.5L253.0 250.7" stroke="#000" stroke-width="1.2"/><path d="M46.8 57.5C48.5 63.2 53.7 80.1 57.1 91.9C60.5 103.7 60.5 104.3 67.4 128.3C74.3 152.3 84.6 215.9 98.3 235.8C112.1 255.7 124.1 243.3 149.9 247.7C175.7 252.0 235.8 259.5 253.0 261.9" stroke="#000" stroke-width="1.35" fill="none"/><path d="M57.1 90.3L57.1 93.5" stroke="#000" stroke-width="1.2"/><path d="M67.4 126.7L67.4 129.9" stroke="#000" stroke-width="1.2"/><path d="M98.3 234.2L98.3 237.4" stroke="#000" stroke-width="1.2"/><path d="M149.9 246.1L149.9 249.3" stroke="#000" stroke-width="1.2"/><path d="M253.0 260.3L253.0 263.5" stroke="#000" stroke-width="1.2"/><path d="M46.8 57.5C48.5 60.8 53.7 67.9 57.1 77.3C60.5 86.6 60.5 92.1 67.4 113.3C74.3 134.5 84.6 187.3 98.3 204.4C112.1 221.5 124.1 211.1 149.9 215.9C175.7 220.7 235.8 230.3 253.0 233.2" stroke="#000" stroke-width="1.35" fill="none"/><path d="M57.1 75.7L57.1 78.9" stroke="#000" stroke-width="1.2"/><path d="M67.4 111.7L67.4 114.9" stroke="#000" stroke-width="1.2"/><path d="M98.3 202.8L98.3 206.0" stroke="#000" stroke-width="1.2"/><path d="M149.9 214.3L149.9 217.5" stroke="#000" stroke-width="1.2"/><path d="M253.0 231.6L253.0 234.8" stroke="#000" stroke-width="1.2"/><path d="M46.8 57.5C48.5 60.6 53.7 67.1 57.1 75.9C60.5 84.8 60.5 88.8 67.4 110.8C74.3 132.8 84.6 186.3 98.3 207.9C112.1 229.5 124.1 234.0 149.9 240.4C175.7 246.8 235.8 245.3 253.0 246.3" stroke="#000" stroke-width="1.35" fill="none"/><path d="M57.1 74.3L57.1 77.5" stroke="#000" stroke-width="1.2"/><path d="M67.4 109.2L67.4 112.4" stroke="#000" stroke-width="1.2"/><path d="M98.3 206.3L98.3 209.5" stroke="#000" stroke-width="1.2"/><path d="M149.9 238.8L149.9 242.0" stroke="#000" stroke-width="1.2"/><path d="M253.0 244.7L253.0 247.9" stroke="#000" stroke-width="1.2"/><path d="M46.8 57.5C48.5 58.9 53.7 60.4 57.1 66.1C60.5 71.9 60.5 79.4 67.4 92.0C74.3 104.7 84.6 123.9 98.3 142.1C112.1 160.3 124.1 187.5 149.9 201.4C175.7 215.4 235.8 221.8 253.0 225.8" stroke="#1f7034" stroke-width="1.25" fill="none"/><path d="M57.1 64.1L59.1 66.1L57.1 68.1L55.1 66.1Z" fill="#1f7034"/><path d="M67.4 90.0L69.4 92.0L67.4 94.0L65.4 92.0Z" fill="#1f7034"/><path d="M98.3 140.1L100.3 142.1L98.3 144.1L96.3 142.1Z" fill="#1f7034"/><path d="M149.9 199.4L151.9 201.4L149.9 203.4L147.9 201.4Z" fill="#1f7034"/><path d="M253.0 223.8L255.0 225.8L253.0 227.8L251.0 225.8Z" fill="#1f7034"/><path d="M46.8 57.5C48.5 64.3 53.7 84.2 57.1 98.4C60.5 112.5 60.5 118.9 67.4 142.5C74.3 166.0 84.6 221.8 98.3 239.6C112.1 257.4 124.1 246.1 149.9 249.1C175.7 252.1 235.8 256.1 253.0 257.5" stroke="#000" stroke-width="1.35" fill="none"/><path d="M57.1 96.8L57.1 100.0" stroke="#000" stroke-width="1.2"/><path d="M67.4 140.9L67.4 144.1" stroke="#000" stroke-width="1.2"/><path d="M98.3 238.0L98.3 241.2" stroke="#000" stroke-width="1.2"/><path d="M149.9 247.5L149.9 250.7" stroke="#000" stroke-width="1.2"/><path d="M253.0 255.9L253.0 259.1" stroke="#000" stroke-width="1.2"/><path d="M46.8 57.5C48.5 64.8 53.7 87.2 57.1 101.3C60.5 115.4 60.5 118.9 67.4 142.0C74.3 165.0 84.6 220.0 98.3 239.7C112.1 259.3 124.1 255.5 149.9 260.0C175.7 264.4 235.8 265.1 253.0 266.1" stroke="#000" stroke-width="1.35" fill="none"/><path d="M57.1 99.7L57.1 102.9" stroke="#000" stroke-width="1.2"/><path d="M67.4 140.4L67.4 143.6" stroke="#000" stroke-width="1.2"/><path d="M98.3 238.1L98.3 241.3" stroke="#000" stroke-width="1.2"/><path d="M149.9 258.4L149.9 261.6" stroke="#000" stroke-width="1.2"/><path d="M253.0 264.5L253.0 267.7" stroke="#000" stroke-width="1.2"/><path d="M46.8 57.5C48.5 59.1 53.7 60.4 57.1 67.3C60.5 74.3 60.5 78.4 67.4 99.0C74.3 119.5 84.6 167.4 98.3 190.8C112.1 214.1 124.1 229.4 149.9 239.1C175.7 248.7 235.8 247.2 253.0 248.8" stroke="#000" stroke-width="1.35" fill="none"/><path d="M57.1 65.7L57.1 68.9" stroke="#000" stroke-width="1.2"/><path d="M67.4 97.4L67.4 100.6" stroke="#000" stroke-width="1.2"/><path d="M98.3 189.2L98.3 192.4" stroke="#000" stroke-width="1.2"/><path d="M149.9 237.5L149.9 240.7" stroke="#000" stroke-width="1.2"/><path d="M253.0 247.2L253.0 250.4" stroke="#000" stroke-width="1.2"/><path d="M46.8 57.5C48.5 59.3 53.7 61.8 57.1 68.3C60.5 74.8 60.5 78.7 67.4 96.3C74.3 114.0 84.6 153.5 98.3 174.0C112.1 194.5 124.1 207.8 149.9 219.4C175.7 230.9 235.8 239.1 253.0 243.1" stroke="#d81822" stroke-width="1.35" fill="none"/><rect x="55.5" y="66.7" width="3.2" height="3.2" fill="#d81822"/><rect x="65.8" y="94.7" width="3.2" height="3.2" fill="#d81822"/><rect x="96.8" y="172.4" width="3.2" height="3.2" fill="#d81822"/><rect x="148.3" y="217.8" width="3.2" height="3.2" fill="#d81822"/><rect x="251.4" y="241.5" width="3.2" height="3.2" fill="#d81822"/><path d="M46.8 57.5C48.5 57.7 53.7 55.3 57.1 58.6C60.5 61.8 60.5 67.1 67.4 76.9C74.3 86.7 84.6 103.1 98.3 117.3C112.1 131.4 124.1 146.4 149.9 161.9C175.7 177.5 235.8 202.6 253.0 210.7" stroke="#d81822" stroke-width="1.35" fill="none"/><path d="M55.1 56.6L59.1 60.6M55.1 60.6L59.1 56.6" stroke="#d81822" stroke-width="1.1" fill="none"/><path d="M65.4 74.9L69.4 78.9M65.4 78.9L69.4 74.9" stroke="#d81822" stroke-width="1.1" fill="none"/><path d="M96.3 115.3L100.3 119.3M96.3 119.3L100.3 115.3" stroke="#d81822" stroke-width="1.1" fill="none"/><path d="M147.9 159.9L151.9 163.9M147.9 163.9L151.9 159.9" stroke="#d81822" stroke-width="1.1" fill="none"/><path d="M251.0 208.7L255.0 212.7M251.0 212.7L255.0 208.7" stroke="#d81822" stroke-width="1.1" fill="none"/><path d="M46.8 57.5C48.5 57.9 53.7 56.1 57.1 59.7C60.5 63.3 60.5 68.6 67.4 79.1C74.3 89.6 84.6 106.9 98.3 122.7C112.1 138.4 124.1 157.8 149.9 173.6C175.7 189.4 235.8 209.9 253.0 217.2" stroke="#d81822" stroke-width="1.35" fill="none"/><path d="M57.1 57.7L59.1 59.7L57.1 61.7L55.1 59.7Z" fill="#d81822"/><path d="M67.4 77.1L69.4 79.1L67.4 81.1L65.4 79.1Z" fill="#d81822"/><path d="M98.3 120.7L100.3 122.7L98.3 124.7L96.3 122.7Z" fill="#d81822"/><path d="M149.9 171.6L151.9 173.6L149.9 175.6L147.9 173.6Z" fill="#d81822"/><path d="M253.0 215.2L255.0 217.2L253.0 219.2L251.0 217.2Z" fill="#d81822"/><path d="M46.8 57.5C48.5 62.9 53.7 78.5 57.1 90.1C60.5 101.7 60.5 103.8 67.4 127.1C74.3 150.5 84.6 211.6 98.3 230.2C112.1 248.9 124.1 233.9 149.9 239.0C175.7 244.1 235.8 257.1 253.0 260.7" stroke="#000" stroke-width="1.35" fill="none"/><path d="M57.1 88.5L57.1 91.7" stroke="#000" stroke-width="1.2"/><path d="M67.4 125.5L67.4 128.7" stroke="#000" stroke-width="1.2"/><path d="M98.3 228.6L98.3 231.8" stroke="#000" stroke-width="1.2"/><path d="M149.9 237.4L149.9 240.6" stroke="#000" stroke-width="1.2"/><path d="M253.0 259.1L253.0 262.3" stroke="#000" stroke-width="1.2"/><path d="M46.8 57.5C48.5 60.8 53.7 69.4 57.1 77.5C60.5 85.6 60.5 85.7 67.4 106.1C74.3 126.6 84.6 177.1 98.3 200.3C112.1 223.5 124.1 233.9 149.9 245.3C175.7 256.6 235.8 264.4 253.0 268.3" stroke="#000" stroke-width="1.35" fill="none"/><path d="M57.1 75.9L57.1 79.1" stroke="#000" stroke-width="1.2"/><path d="M67.4 104.5L67.4 107.7" stroke="#000" stroke-width="1.2"/><path d="M98.3 198.7L98.3 201.9" stroke="#000" stroke-width="1.2"/><path d="M149.9 243.7L149.9 246.9" stroke="#000" stroke-width="1.2"/><path d="M253.0 266.7L253.0 269.9" stroke="#000" stroke-width="1.2"/><path d="M46.8 57.5C48.5 69.8 53.7 111.9 57.1 131.5C60.5 151.1 60.5 152.7 67.4 175.1C74.3 197.5 84.6 251.3 98.3 265.9C112.1 280.5 124.1 263.1 149.9 262.7C175.7 262.3 235.8 263.5 253.0 263.7" stroke="#000" stroke-width="1.35" fill="none"/><path d="M57.1 129.9L57.1 133.1" stroke="#000" stroke-width="1.2"/><path d="M67.4 173.5L67.4 176.7" stroke="#000" stroke-width="1.2"/><path d="M98.3 264.3L98.3 267.5" stroke="#000" stroke-width="1.2"/><path d="M149.9 261.1L149.9 264.3" stroke="#000" stroke-width="1.2"/><path d="M253.0 262.1L253.0 265.3" stroke="#000" stroke-width="1.2"/><path d="M46.8 57.5C48.5 71.9 53.7 122.2 57.1 143.8C60.5 165.4 60.5 165.9 67.4 187.0C74.3 208.0 84.6 256.0 98.3 270.1C112.1 284.2 124.1 271.2 149.9 271.6C175.7 271.9 235.8 272.1 253.0 272.2" stroke="#000" stroke-width="1.35" fill="none"/><path d="M57.1 142.2L57.1 145.4" stroke="#000" stroke-width="1.2"/><path d="M67.4 185.4L67.4 188.6" stroke="#000" stroke-width="1.2"/><path d="M98.3 268.5L98.3 271.7" stroke="#000" stroke-width="1.2"/><path d="M149.9 270.0L149.9 273.2" stroke="#000" stroke-width="1.2"/><path d="M253.0 270.6L253.0 273.8" stroke="#000" stroke-width="1.2"/><path d="M46.8 57.5C48.5 69.8 53.7 111.0 57.1 131.1C60.5 151.3 60.5 156.6 67.4 178.5C74.3 200.4 84.6 248.3 98.3 262.5C112.1 276.7 124.1 262.7 149.9 263.5C175.7 264.2 235.8 266.2 253.0 266.7" stroke="#000" stroke-width="1.35" fill="none"/><path d="M57.1 129.5L57.1 132.7" stroke="#000" stroke-width="1.2"/><path d="M67.4 176.9L67.4 180.1" stroke="#000" stroke-width="1.2"/><path d="M98.3 260.9L98.3 264.1" stroke="#000" stroke-width="1.2"/><path d="M149.9 261.9L149.9 265.1" stroke="#000" stroke-width="1.2"/><path d="M253.0 265.1L253.0 268.3" stroke="#000" stroke-width="1.2"/><path d="M46.8 57.5C48.5 57.1 53.7 53.2 57.1 55.3C60.5 57.5 60.5 61.3 67.4 70.4C74.3 79.6 84.6 97.1 98.3 110.4C112.1 123.7 124.1 135.9 149.9 150.3C175.7 164.7 235.8 189.0 253.0 196.7" stroke="#d81822" stroke-width="1.35" fill="none"/><rect x="55.5" y="53.7" width="3.2" height="3.2" fill="#d81822"/><rect x="65.8" y="68.8" width="3.2" height="3.2" fill="#d81822"/><rect x="96.8" y="108.8" width="3.2" height="3.2" fill="#d81822"/><rect x="148.3" y="148.7" width="3.2" height="3.2" fill="#d81822"/><rect x="251.4" y="195.1" width="3.2" height="3.2" fill="#d81822"/><path d="M46.8 57.5C48.5 58.8 53.7 59.7 57.1 65.1C60.5 70.4 60.5 74.7 67.4 89.9C74.3 105.0 84.6 136.5 98.3 155.9C112.1 175.3 124.1 192.9 149.9 206.4C175.7 219.9 235.8 231.8 253.0 236.8" stroke="#d81822" stroke-width="1.35" fill="none"/><path d="M55.1 63.1L59.1 67.1M55.1 67.1L59.1 63.1" stroke="#d81822" stroke-width="1.1" fill="none"/><path d="M65.4 87.9L69.4 91.9M65.4 91.9L69.4 87.9" stroke="#d81822" stroke-width="1.1" fill="none"/><path d="M96.3 153.9L100.3 157.9M96.3 157.9L100.3 153.9" stroke="#d81822" stroke-width="1.1" fill="none"/><path d="M147.9 204.4L151.9 208.4M147.9 208.4L151.9 204.4" stroke="#d81822" stroke-width="1.1" fill="none"/><path d="M251.0 234.8L255.0 238.8M251.0 238.8L255.0 234.8" stroke="#d81822" stroke-width="1.1" fill="none"/><path d="M46.8 57.5C48.5 61.2 53.7 70.1 57.1 79.8C60.5 89.4 60.5 93.4 67.4 115.6C74.3 137.9 84.6 194.1 98.3 213.2C112.1 232.4 124.1 226.4 149.9 230.5C175.7 234.5 235.8 236.4 253.0 237.5" stroke="#000" stroke-width="1.35" fill="none"/><path d="M57.1 78.2L57.1 81.4" stroke="#000" stroke-width="1.2"/><path d="M67.4 114.0L67.4 117.2" stroke="#000" stroke-width="1.2"/><path d="M98.3 211.6L98.3 214.8" stroke="#000" stroke-width="1.2"/><path d="M149.9 228.9L149.9 232.1" stroke="#000" stroke-width="1.2"/><path d="M253.0 235.9L253.0 239.1" stroke="#000" stroke-width="1.2"/><path d="M46.8 57.5C48.5 60.4 53.7 66.3 57.1 74.7C60.5 83.2 60.5 87.6 67.4 108.2C74.3 128.8 84.6 176.8 98.3 198.2C112.1 219.7 124.1 227.8 149.9 236.7C175.7 245.6 235.8 249.0 253.0 251.5" stroke="#000" stroke-width="1.35" fill="none"/><path d="M57.1 73.1L57.1 76.3" stroke="#000" stroke-width="1.2"/><path d="M67.4 106.6L67.4 109.8" stroke="#000" stroke-width="1.2"/><path d="M98.3 196.6L98.3 199.8" stroke="#000" stroke-width="1.2"/><path d="M149.9 235.1L149.9 238.3" stroke="#000" stroke-width="1.2"/><path d="M253.0 249.9L253.0 253.1" stroke="#000" stroke-width="1.2"/><path d="M46.8 57.5C48.5 60.2 53.7 64.7 57.1 73.7C60.5 82.8 60.5 90.8 67.4 111.9C74.3 133.0 84.6 180.3 98.3 200.1C112.1 219.9 124.1 224.4 149.9 230.8C175.7 237.2 235.8 237.4 253.0 238.7" stroke="#000" stroke-width="1.35" fill="none"/><path d="M57.1 72.1L57.1 75.3" stroke="#000" stroke-width="1.2"/><path d="M67.4 110.3L67.4 113.5" stroke="#000" stroke-width="1.2"/><path d="M98.3 198.5L98.3 201.7" stroke="#000" stroke-width="1.2"/><path d="M149.9 229.2L149.9 232.4" stroke="#000" stroke-width="1.2"/><path d="M253.0 237.1L253.0 240.3" stroke="#000" stroke-width="1.2"/><path d="M46.8 57.5C48.5 58.6 53.7 55.0 57.1 64.0C60.5 73.0 60.5 86.6 67.4 111.5C74.3 136.3 84.6 193.1 98.3 212.9C112.1 232.7 124.1 227.2 149.9 230.1C175.7 233.1 235.8 230.3 253.0 230.4" stroke="#000" stroke-width="1.35" fill="none"/><path d="M57.1 62.4L57.1 65.6" stroke="#000" stroke-width="1.2"/><path d="M67.4 109.9L67.4 113.1" stroke="#000" stroke-width="1.2"/><path d="M98.3 211.3L98.3 214.5" stroke="#000" stroke-width="1.2"/><path d="M149.9 228.5L149.9 231.7" stroke="#000" stroke-width="1.2"/><path d="M253.0 228.8L253.0 232.0" stroke="#000" stroke-width="1.2"/><path d="M46.8 57.5C48.5 57.9 53.7 55.7 57.1 59.7C60.5 63.6 60.5 71.2 67.4 81.2C74.3 91.3 84.6 107.9 98.3 120.1C112.1 132.2 124.1 140.5 149.9 154.2C175.7 167.8 235.8 194.1 253.0 202.1" stroke="#1f7034" stroke-width="1.25" fill="none"/><path d="M57.1 57.7L59.1 59.7L57.1 61.7L55.1 59.7Z" fill="#1f7034"/><path d="M67.4 79.2L69.4 81.2L67.4 83.2L65.4 81.2Z" fill="#1f7034"/><path d="M98.3 118.1L100.3 120.1L98.3 122.1L96.3 120.1Z" fill="#1f7034"/><path d="M149.9 152.2L151.9 154.2L149.9 156.2L147.9 154.2Z" fill="#1f7034"/><path d="M253.0 200.1L255.0 202.1L253.0 204.1L251.0 202.1Z" fill="#1f7034"/><path d="M46.8 57.5C48.5 57.3 53.7 56.4 57.1 56.4C60.5 56.4 60.5 55.3 67.4 57.5C74.3 59.7 84.6 63.5 98.3 69.4C112.1 75.2 124.1 81.5 149.9 92.5C175.7 103.4 235.8 128.1 253.0 135.2" stroke="#d81822" stroke-width="1.35" fill="none"/><path d="M55.1 54.4L59.1 58.4M55.1 58.4L59.1 54.4" stroke="#d81822" stroke-width="1.1" fill="none"/><path d="M65.4 55.5L69.4 59.5M65.4 59.5L69.4 55.5" stroke="#d81822" stroke-width="1.1" fill="none"/><path d="M96.3 67.4L100.3 71.4M96.3 71.4L100.3 67.4" stroke="#d81822" stroke-width="1.1" fill="none"/><path d="M147.9 90.5L151.9 94.5M147.9 94.5L151.9 90.5" stroke="#d81822" stroke-width="1.1" fill="none"/><path d="M251.0 133.2L255.0 137.2M251.0 137.2L255.0 133.2" stroke="#d81822" stroke-width="1.1" fill="none"/></g>
<g clip-path="url(#cb)"><path d="M303.0 57.5C304.8 63.9 309.2 80.8 313.6 95.8C318.0 110.8 322.4 131.4 329.4 147.7C336.5 163.9 342.7 180.4 355.9 193.4C369.1 206.3 382.4 217.8 408.8 225.1C435.2 232.5 497.0 235.5 514.6 237.6" stroke="#000" stroke-width="1.35" fill="none"/><path d="M313.6 94.2L313.6 97.4" stroke="#000" stroke-width="1.2"/><path d="M329.4 146.1L329.4 149.3" stroke="#000" stroke-width="1.2"/><path d="M355.9 191.8L355.9 195.0" stroke="#000" stroke-width="1.2"/><path d="M408.8 223.5L408.8 226.7" stroke="#000" stroke-width="1.2"/><path d="M514.6 236.0L514.6 239.2" stroke="#000" stroke-width="1.2"/><path d="M303.0 57.5C304.8 70.0 309.2 109.0 313.6 132.6C318.0 156.2 322.4 186.3 329.4 199.3C336.5 212.3 342.7 204.9 355.9 210.6C369.1 216.3 382.4 228.1 408.8 233.7C435.2 239.3 497.0 242.5 514.6 244.3" stroke="#000" stroke-width="1.35" fill="none"/><path d="M313.6 131.0L313.6 134.2" stroke="#000" stroke-width="1.2"/><path d="M329.4 197.7L329.4 200.9" stroke="#000" stroke-width="1.2"/><path d="M355.9 209.0L355.9 212.2" stroke="#000" stroke-width="1.2"/><path d="M408.8 232.1L408.8 235.3" stroke="#000" stroke-width="1.2"/><path d="M514.6 242.7L514.6 245.9" stroke="#000" stroke-width="1.2"/><path d="M303.0 57.5C304.8 66.7 309.2 94.9 313.6 112.5C318.0 130.1 322.4 143.8 329.4 163.1C336.5 182.5 342.7 213.5 355.9 228.5C369.1 243.4 382.4 248.3 408.8 252.9C435.2 257.5 497.0 255.4 514.6 255.9" stroke="#000" stroke-width="1.35" fill="none"/><path d="M313.6 110.9L313.6 114.1" stroke="#000" stroke-width="1.2"/><path d="M329.4 161.5L329.4 164.7" stroke="#000" stroke-width="1.2"/><path d="M355.9 226.9L355.9 230.1" stroke="#000" stroke-width="1.2"/><path d="M408.8 251.3L408.8 254.5" stroke="#000" stroke-width="1.2"/><path d="M514.6 254.3L514.6 257.5" stroke="#000" stroke-width="1.2"/><path d="M303.0 57.5C304.8 64.8 309.2 87.3 313.6 101.6C318.0 115.8 322.4 128.2 329.4 142.9C336.5 157.6 342.7 178.2 355.9 189.9C369.1 201.6 382.4 206.2 408.8 213.2C435.2 220.2 497.0 228.7 514.6 231.8" stroke="#000" stroke-width="1.35" fill="none"/><path d="M313.6 100.0L313.6 103.2" stroke="#000" stroke-width="1.2"/><path d="M329.4 141.3L329.4 144.5" stroke="#000" stroke-width="1.2"/><path d="M355.9 188.3L355.9 191.5" stroke="#000" stroke-width="1.2"/><path d="M408.8 211.6L408.8 214.8" stroke="#000" stroke-width="1.2"/><path d="M514.6 230.2L514.6 233.4" stroke="#000" stroke-width="1.2"/><path d="M303.0 57.5C304.8 63.2 309.2 80.1 313.6 91.8C318.0 103.5 322.4 116.8 329.4 127.5C336.5 138.2 342.7 146.2 355.9 156.1C369.1 166.0 382.4 175.0 408.8 186.9C435.2 198.9 497.0 221.0 514.6 227.8" stroke="#000" stroke-width="1.35" fill="none"/><path d="M313.6 90.2L313.6 93.4" stroke="#000" stroke-width="1.2"/><path d="M329.4 125.9L329.4 129.1" stroke="#000" stroke-width="1.2"/><path d="M355.9 154.5L355.9 157.7" stroke="#000" stroke-width="1.2"/><path d="M408.8 185.3L408.8 188.5" stroke="#000" stroke-width="1.2"/><path d="M514.6 226.2L514.6 229.4" stroke="#000" stroke-width="1.2"/><path d="M303.0 57.5C304.8 61.7 309.2 72.9 313.6 82.9C318.0 92.9 322.4 103.7 329.4 117.7C336.5 131.6 342.7 155.9 355.9 166.6C369.1 177.3 382.4 171.1 408.8 182.0C435.2 192.9 497.0 223.7 514.6 232.1" stroke="#000" stroke-width="1.35" fill="none"/><path d="M313.6 81.3L313.6 84.5" stroke="#000" stroke-width="1.2"/><path d="M329.4 116.1L329.4 119.3" stroke="#000" stroke-width="1.2"/><path d="M355.9 165.0L355.9 168.2" stroke="#000" stroke-width="1.2"/><path d="M408.8 180.4L408.8 183.6" stroke="#000" stroke-width="1.2"/><path d="M514.6 230.5L514.6 233.7" stroke="#000" stroke-width="1.2"/><path d="M303.0 57.5C304.8 73.4 309.2 125.0 313.6 152.9C318.0 180.7 322.4 211.4 329.4 224.6C336.5 237.9 342.7 226.8 355.9 232.2C369.1 237.6 382.4 251.4 408.8 256.9C435.2 262.5 497.0 264.0 514.6 265.4" stroke="#000" stroke-width="1.35" fill="none"/><path d="M313.6 151.3L313.6 154.5" stroke="#000" stroke-width="1.2"/><path d="M329.4 223.0L329.4 226.2" stroke="#000" stroke-width="1.2"/><path d="M355.9 230.6L355.9 233.8" stroke="#000" stroke-width="1.2"/><path d="M408.8 255.3L408.8 258.5" stroke="#000" stroke-width="1.2"/><path d="M514.6 263.8L514.6 267.0" stroke="#000" stroke-width="1.2"/><path d="M303.0 57.5C304.8 63.9 309.2 82.2 313.6 95.9C318.0 109.6 322.4 125.7 329.4 139.6C336.5 153.4 342.7 166.7 355.9 179.0C369.1 191.2 382.4 206.2 408.8 213.1C435.2 219.9 497.0 218.8 514.6 219.9" stroke="#000" stroke-width="1.35" fill="none"/><path d="M313.6 94.3L313.6 97.5" stroke="#000" stroke-width="1.2"/><path d="M329.4 138.0L329.4 141.2" stroke="#000" stroke-width="1.2"/><path d="M355.9 177.4L355.9 180.6" stroke="#000" stroke-width="1.2"/><path d="M408.8 211.5L408.8 214.7" stroke="#000" stroke-width="1.2"/><path d="M514.6 218.3L514.6 221.5" stroke="#000" stroke-width="1.2"/><path d="M303.0 57.5C304.8 67.7 309.2 97.6 313.6 118.4C318.0 139.2 322.4 161.8 329.4 182.4C336.5 202.9 342.7 231.0 355.9 241.9C369.1 252.7 382.4 244.2 408.8 247.7C435.2 251.1 497.0 260.0 514.6 262.5" stroke="#000" stroke-width="1.35" fill="none"/><path d="M313.6 116.8L313.6 120.0" stroke="#000" stroke-width="1.2"/><path d="M329.4 180.8L329.4 184.0" stroke="#000" stroke-width="1.2"/><path d="M355.9 240.3L355.9 243.5" stroke="#000" stroke-width="1.2"/><path d="M408.8 246.1L408.8 249.3" stroke="#000" stroke-width="1.2"/><path d="M514.6 260.9L514.6 264.1" stroke="#000" stroke-width="1.2"/><path d="M303.0 57.5C304.8 62.1 309.2 74.7 313.6 85.0C318.0 95.3 322.4 107.9 329.4 119.1C336.5 130.4 342.7 139.5 355.9 152.4C369.1 165.4 382.4 185.1 408.8 196.7C435.2 208.2 497.0 217.6 514.6 221.7" stroke="#000" stroke-width="1.35" fill="none"/><path d="M313.6 83.4L313.6 86.6" stroke="#000" stroke-width="1.2"/><path d="M329.4 117.5L329.4 120.7" stroke="#000" stroke-width="1.2"/><path d="M355.9 150.8L355.9 154.0" stroke="#000" stroke-width="1.2"/><path d="M408.8 195.1L408.8 198.3" stroke="#000" stroke-width="1.2"/><path d="M514.6 220.1L514.6 223.3" stroke="#000" stroke-width="1.2"/><path d="M303.0 57.5C304.8 67.9 309.2 100.0 313.6 120.0C318.0 139.9 322.4 159.3 329.4 177.2C336.5 195.1 342.7 216.6 355.9 227.6C369.1 238.6 382.4 236.9 408.8 243.2C435.2 249.4 497.0 261.4 514.6 265.0" stroke="#000" stroke-width="1.35" fill="none"/><path d="M313.6 118.4L313.6 121.6" stroke="#000" stroke-width="1.2"/><path d="M329.4 175.6L329.4 178.8" stroke="#000" stroke-width="1.2"/><path d="M355.9 226.0L355.9 229.2" stroke="#000" stroke-width="1.2"/><path d="M408.8 241.6L408.8 244.8" stroke="#000" stroke-width="1.2"/><path d="M514.6 263.4L514.6 266.6" stroke="#000" stroke-width="1.2"/><path d="M303.0 57.5C304.8 70.0 309.2 109.2 313.6 132.6C318.0 156.1 322.4 184.9 329.4 198.1C336.5 211.3 342.7 205.9 355.9 211.7C369.1 217.5 382.4 226.7 408.8 232.9C435.2 239.1 497.0 246.2 514.6 248.9" stroke="#000" stroke-width="1.35" fill="none"/><path d="M313.6 131.0L313.6 134.2" stroke="#000" stroke-width="1.2"/><path d="M329.4 196.5L329.4 199.7" stroke="#000" stroke-width="1.2"/><path d="M355.9 210.1L355.9 213.3" stroke="#000" stroke-width="1.2"/><path d="M408.8 231.3L408.8 234.5" stroke="#000" stroke-width="1.2"/><path d="M514.6 247.3L514.6 250.5" stroke="#000" stroke-width="1.2"/><path d="M303.0 57.5C304.8 64.7 309.2 88.2 313.6 100.8C318.0 113.4 322.4 116.9 329.4 133.2C336.5 149.5 342.7 183.3 355.9 198.5C369.1 213.8 382.4 219.3 408.8 225.0C435.2 230.6 497.0 231.2 514.6 232.4" stroke="#000" stroke-width="1.35" fill="none"/><path d="M313.6 99.2L313.6 102.4" stroke="#000" stroke-width="1.2"/><path d="M329.4 131.6L329.4 134.8" stroke="#000" stroke-width="1.2"/><path d="M355.9 196.9L355.9 200.1" stroke="#000" stroke-width="1.2"/><path d="M408.8 223.4L408.8 226.6" stroke="#000" stroke-width="1.2"/><path d="M514.6 230.8L514.6 234.0" stroke="#000" stroke-width="1.2"/><path d="M303.0 57.5C304.8 57.9 309.2 56.4 313.6 59.7C318.0 62.9 322.4 72.6 329.4 76.9C336.5 81.2 342.7 82.2 355.9 85.3C369.1 88.5 382.4 84.5 408.8 95.9C435.2 107.3 497.0 144.1 514.6 153.7" stroke="#d81822" stroke-width="1.35" fill="none"/><path d="M313.6 57.7L315.6 59.7L313.6 61.7L311.6 59.7Z" fill="#d81822"/><path d="M329.4 74.9L331.4 76.9L329.4 78.9L327.4 76.9Z" fill="#d81822"/><path d="M355.9 83.3L357.9 85.3L355.9 87.3L353.9 85.3Z" fill="#d81822"/><path d="M408.8 93.9L410.8 95.9L408.8 97.9L406.8 95.9Z" fill="#d81822"/><path d="M514.6 151.7L516.6 153.7L514.6 155.7L512.6 153.7Z" fill="#d81822"/><path d="M303.0 57.5C304.8 58.8 309.2 57.9 313.6 65.1C318.0 72.2 322.4 92.4 329.4 100.7C336.5 108.9 342.7 108.6 355.9 114.5C369.1 120.3 382.4 120.8 408.8 135.6C435.2 150.5 497.0 192.3 514.6 203.6" stroke="#d81822" stroke-width="1.35" fill="none"/><rect x="312.0" y="63.5" width="3.2" height="3.2" fill="#d81822"/><rect x="327.8" y="99.1" width="3.2" height="3.2" fill="#d81822"/><rect x="354.3" y="112.9" width="3.2" height="3.2" fill="#d81822"/><rect x="407.2" y="134.0" width="3.2" height="3.2" fill="#d81822"/><rect x="513.0" y="202.0" width="3.2" height="3.2" fill="#d81822"/><path d="M303.0 57.5C304.8 65.2 309.2 86.5 313.6 103.6C318.0 120.7 322.4 141.4 329.4 160.3C336.5 179.3 342.7 201.9 355.9 217.2C369.1 232.5 382.4 246.8 408.8 252.3C435.2 257.8 497.0 250.5 514.6 250.1" stroke="#000" stroke-width="1.35" fill="none"/><path d="M313.6 102.0L313.6 105.2" stroke="#000" stroke-width="1.2"/><path d="M329.4 158.7L329.4 161.9" stroke="#000" stroke-width="1.2"/><path d="M355.9 215.6L355.9 218.8" stroke="#000" stroke-width="1.2"/><path d="M408.8 250.7L408.8 253.9" stroke="#000" stroke-width="1.2"/><path d="M514.6 248.5L514.6 251.7" stroke="#000" stroke-width="1.2"/><path d="M303.0 57.5C304.8 70.2 309.2 108.4 313.6 133.7C318.0 158.9 322.4 188.8 329.4 209.0C336.5 229.2 342.7 245.8 355.9 255.0C369.1 264.1 382.4 263.0 408.8 264.0C435.2 265.0 497.0 261.4 514.6 260.9" stroke="#000" stroke-width="1.35" fill="none"/><path d="M313.6 132.1L313.6 135.3" stroke="#000" stroke-width="1.2"/><path d="M329.4 207.4L329.4 210.6" stroke="#000" stroke-width="1.2"/><path d="M355.9 253.4L355.9 256.6" stroke="#000" stroke-width="1.2"/><path d="M408.8 262.4L408.8 265.6" stroke="#000" stroke-width="1.2"/><path d="M514.6 259.3L514.6 262.5" stroke="#000" stroke-width="1.2"/><path d="M303.0 57.5C304.8 75.1 309.2 136.6 313.6 163.0C318.0 189.4 322.4 201.8 329.4 215.8C336.5 229.8 342.7 240.6 355.9 247.3C369.1 254.1 382.4 253.0 408.8 256.3C435.2 259.6 497.0 265.2 514.6 267.0" stroke="#000" stroke-width="1.35" fill="none"/><path d="M313.6 161.4L313.6 164.6" stroke="#000" stroke-width="1.2"/><path d="M329.4 214.2L329.4 217.4" stroke="#000" stroke-width="1.2"/><path d="M355.9 245.7L355.9 248.9" stroke="#000" stroke-width="1.2"/><path d="M408.8 254.7L408.8 257.9" stroke="#000" stroke-width="1.2"/><path d="M514.6 265.4L514.6 268.6" stroke="#000" stroke-width="1.2"/><path d="M303.0 57.5C304.8 62.0 309.2 71.2 313.6 84.4C318.0 97.5 322.4 125.9 329.4 136.3C336.5 146.6 342.7 137.0 355.9 146.5C369.1 155.9 382.4 180.5 408.8 193.1C435.2 205.6 497.0 216.9 514.6 221.6" stroke="#000" stroke-width="1.35" fill="none"/><path d="M313.6 82.8L313.6 86.0" stroke="#000" stroke-width="1.2"/><path d="M329.4 134.7L329.4 137.9" stroke="#000" stroke-width="1.2"/><path d="M355.9 144.9L355.9 148.1" stroke="#000" stroke-width="1.2"/><path d="M408.8 191.5L408.8 194.7" stroke="#000" stroke-width="1.2"/><path d="M514.6 220.0L514.6 223.2" stroke="#000" stroke-width="1.2"/><path d="M303.0 57.5C304.8 62.2 309.2 75.7 313.6 85.8C318.0 96.0 322.4 106.4 329.4 118.6C336.5 130.9 342.7 148.4 355.9 159.2C369.1 170.1 382.4 172.9 408.8 183.8C435.2 194.7 497.0 217.8 514.6 224.6" stroke="#000" stroke-width="1.35" fill="none"/><path d="M313.6 84.2L313.6 87.4" stroke="#000" stroke-width="1.2"/><path d="M329.4 117.0L329.4 120.2" stroke="#000" stroke-width="1.2"/><path d="M355.9 157.6L355.9 160.8" stroke="#000" stroke-width="1.2"/><path d="M408.8 182.2L408.8 185.4" stroke="#000" stroke-width="1.2"/><path d="M514.6 223.0L514.6 226.2" stroke="#000" stroke-width="1.2"/><path d="M303.0 57.5C304.8 57.5 309.2 56.2 313.6 57.5C318.0 58.8 322.4 61.6 329.4 65.3C336.5 69.0 342.7 76.9 355.9 79.7C369.1 82.6 382.4 73.0 408.8 82.3C435.2 91.6 497.0 126.6 514.6 135.4" stroke="#d81822" stroke-width="1.35" fill="none"/><path d="M313.6 55.5L315.6 59.1L311.6 59.1Z" fill="#d81822"/><path d="M329.4 63.3L331.4 66.9L327.4 66.9Z" fill="#d81822"/><path d="M355.9 77.7L357.9 81.3L353.9 81.3Z" fill="#d81822"/><path d="M408.8 80.3L410.8 83.9L406.8 83.9Z" fill="#d81822"/><path d="M514.6 133.4L516.6 137.0L512.6 137.0Z" fill="#d81822"/><path d="M303.0 57.5C304.8 72.9 309.2 123.1 313.6 150.1C318.0 177.1 322.4 203.3 329.4 219.4C336.5 235.5 342.7 240.8 355.9 246.7C369.1 252.5 382.4 251.4 408.8 254.4C435.2 257.3 497.0 262.7 514.6 264.3" stroke="#000" stroke-width="1.35" fill="none"/><path d="M313.6 148.5L313.6 151.7" stroke="#000" stroke-width="1.2"/><path d="M329.4 217.8L329.4 221.0" stroke="#000" stroke-width="1.2"/><path d="M355.9 245.1L355.9 248.3" stroke="#000" stroke-width="1.2"/><path d="M408.8 252.8L408.8 256.0" stroke="#000" stroke-width="1.2"/><path d="M514.6 262.7L514.6 265.9" stroke="#000" stroke-width="1.2"/><path d="M303.0 57.5C304.8 62.6 309.2 73.1 313.6 88.1C318.0 103.1 322.4 132.0 329.4 147.6C336.5 163.2 342.7 172.5 355.9 181.8C369.1 191.1 382.4 195.4 408.8 203.3C435.2 211.2 497.0 224.9 514.6 229.2" stroke="#000" stroke-width="1.35" fill="none"/><path d="M313.6 86.5L313.6 89.7" stroke="#000" stroke-width="1.2"/><path d="M329.4 146.0L329.4 149.2" stroke="#000" stroke-width="1.2"/><path d="M355.9 180.2L355.9 183.4" stroke="#000" stroke-width="1.2"/><path d="M408.8 201.7L408.8 204.9" stroke="#000" stroke-width="1.2"/><path d="M514.6 227.6L514.6 230.8" stroke="#000" stroke-width="1.2"/><path d="M303.0 57.5C304.8 72.9 309.2 124.4 313.6 149.8C318.0 175.2 322.4 194.0 329.4 210.1C336.5 226.2 342.7 237.3 355.9 246.4C369.1 255.5 382.4 261.6 408.8 264.7C435.2 267.7 497.0 264.6 514.6 264.6" stroke="#000" stroke-width="1.35" fill="none"/><path d="M313.6 148.2L313.6 151.4" stroke="#000" stroke-width="1.2"/><path d="M329.4 208.5L329.4 211.7" stroke="#000" stroke-width="1.2"/><path d="M355.9 244.8L355.9 248.0" stroke="#000" stroke-width="1.2"/><path d="M408.8 263.1L408.8 266.3" stroke="#000" stroke-width="1.2"/><path d="M514.6 263.0L514.6 266.2" stroke="#000" stroke-width="1.2"/><path d="M303.0 57.5C304.8 64.7 309.2 84.0 313.6 100.7C318.0 117.3 322.4 136.7 329.4 157.4C336.5 178.0 342.7 210.5 355.9 224.6C369.1 238.8 382.4 237.3 408.8 242.3C435.2 247.3 497.0 252.6 514.6 254.7" stroke="#000" stroke-width="1.35" fill="none"/><path d="M313.6 99.1L313.6 102.3" stroke="#000" stroke-width="1.2"/><path d="M329.4 155.8L329.4 159.0" stroke="#000" stroke-width="1.2"/><path d="M355.9 223.0L355.9 226.2" stroke="#000" stroke-width="1.2"/><path d="M408.8 240.7L408.8 243.9" stroke="#000" stroke-width="1.2"/><path d="M514.6 253.1L514.6 256.3" stroke="#000" stroke-width="1.2"/><path d="M303.0 57.5C304.8 71.9 309.2 110.5 313.6 143.8C318.0 177.2 322.4 237.9 329.4 257.5C336.5 277.1 342.7 260.6 355.9 261.4C369.1 262.3 382.4 262.0 408.8 262.5C435.2 263.0 497.0 264.3 514.6 264.7" stroke="#000" stroke-width="1.35" fill="none"/><path d="M313.6 142.2L313.6 145.4" stroke="#000" stroke-width="1.2"/><path d="M329.4 255.9L329.4 259.1" stroke="#000" stroke-width="1.2"/><path d="M355.9 259.8L355.9 263.0" stroke="#000" stroke-width="1.2"/><path d="M408.8 260.9L408.8 264.1" stroke="#000" stroke-width="1.2"/><path d="M514.6 263.1L514.6 266.3" stroke="#000" stroke-width="1.2"/><path d="M303.0 57.5C304.8 65.2 309.2 87.0 313.6 103.8C318.0 120.6 322.4 144.9 329.4 158.2C336.5 171.6 342.7 175.5 355.9 183.9C369.1 192.3 382.4 200.8 408.8 208.6C435.2 216.4 497.0 226.9 514.6 230.6" stroke="#000" stroke-width="1.35" fill="none"/><path d="M313.6 102.2L313.6 105.4" stroke="#000" stroke-width="1.2"/><path d="M329.4 156.6L329.4 159.8" stroke="#000" stroke-width="1.2"/><path d="M355.9 182.3L355.9 185.5" stroke="#000" stroke-width="1.2"/><path d="M408.8 207.0L408.8 210.2" stroke="#000" stroke-width="1.2"/><path d="M514.6 229.0L514.6 232.2" stroke="#000" stroke-width="1.2"/><path d="M303.0 57.5C304.8 64.4 309.2 86.5 313.6 98.6C318.0 110.7 322.4 115.1 329.4 130.1C336.5 145.1 342.7 174.6 355.9 188.5C369.1 202.5 382.4 204.4 408.8 214.0C435.2 223.6 497.0 240.8 514.6 246.1" stroke="#000" stroke-width="1.35" fill="none"/><path d="M313.6 97.0L313.6 100.2" stroke="#000" stroke-width="1.2"/><path d="M329.4 128.5L329.4 131.7" stroke="#000" stroke-width="1.2"/><path d="M355.9 186.9L355.9 190.1" stroke="#000" stroke-width="1.2"/><path d="M408.8 212.4L408.8 215.6" stroke="#000" stroke-width="1.2"/><path d="M514.6 244.5L514.6 247.7" stroke="#000" stroke-width="1.2"/><path d="M303.0 57.5C304.8 57.9 309.2 55.6 313.6 59.7C318.0 63.7 322.4 75.6 329.4 81.7C336.5 87.7 342.7 89.4 355.9 95.9C369.1 102.4 382.4 109.3 408.8 120.5C435.2 131.8 497.0 156.3 514.6 163.5" stroke="#1f7034" stroke-width="1.25" fill="none"/><path d="M313.6 57.7L315.6 59.7L313.6 61.7L311.6 59.7Z" fill="#1f7034"/><path d="M329.4 79.7L331.4 81.7L329.4 83.7L327.4 81.7Z" fill="#1f7034"/><path d="M355.9 93.9L357.9 95.9L355.9 97.9L353.9 95.9Z" fill="#1f7034"/><path d="M408.8 118.5L410.8 120.5L408.8 122.5L406.8 120.5Z" fill="#1f7034"/><path d="M514.6 161.5L516.6 163.5L514.6 165.5L512.6 163.5Z" fill="#1f7034"/><path d="M303.0 57.5C304.8 65.9 309.2 93.1 313.6 107.9C318.0 122.6 322.4 130.5 329.4 145.9C336.5 161.3 342.7 187.1 355.9 200.3C369.1 213.5 382.4 217.9 408.8 225.0C435.2 232.0 497.0 239.5 514.6 242.4" stroke="#000" stroke-width="1.35" fill="none"/><path d="M313.6 106.3L313.6 109.5" stroke="#000" stroke-width="1.2"/><path d="M329.4 144.3L329.4 147.5" stroke="#000" stroke-width="1.2"/><path d="M355.9 198.7L355.9 201.9" stroke="#000" stroke-width="1.2"/><path d="M408.8 223.4L408.8 226.6" stroke="#000" stroke-width="1.2"/><path d="M514.6 240.8L514.6 244.0" stroke="#000" stroke-width="1.2"/><path d="M303.0 57.5C304.8 69.9 309.2 111.1 313.6 131.6C318.0 152.2 322.4 169.4 329.4 180.6C336.5 191.7 342.7 189.9 355.9 198.6C369.1 207.2 382.4 224.0 408.8 232.5C435.2 241.0 497.0 246.9 514.6 249.8" stroke="#000" stroke-width="1.35" fill="none"/><path d="M313.6 130.0L313.6 133.2" stroke="#000" stroke-width="1.2"/><path d="M329.4 179.0L329.4 182.2" stroke="#000" stroke-width="1.2"/><path d="M355.9 197.0L355.9 200.2" stroke="#000" stroke-width="1.2"/><path d="M408.8 230.9L408.8 234.1" stroke="#000" stroke-width="1.2"/><path d="M514.6 248.2L514.6 251.4" stroke="#000" stroke-width="1.2"/><path d="M303.0 57.5C304.8 68.5 309.2 102.7 313.6 123.2C318.0 143.7 322.4 165.3 329.4 180.5C336.5 195.6 342.7 204.1 355.9 214.2C369.1 224.3 382.4 234.9 408.8 241.1C435.2 247.3 497.0 249.7 514.6 251.4" stroke="#000" stroke-width="1.35" fill="none"/><path d="M313.6 121.6L313.6 124.8" stroke="#000" stroke-width="1.2"/><path d="M329.4 178.9L329.4 182.1" stroke="#000" stroke-width="1.2"/><path d="M355.9 212.6L355.9 215.8" stroke="#000" stroke-width="1.2"/><path d="M408.8 239.5L408.8 242.7" stroke="#000" stroke-width="1.2"/><path d="M514.6 249.8L514.6 253.0" stroke="#000" stroke-width="1.2"/><path d="M303.0 57.5C304.8 58.6 309.2 57.6 313.6 64.0C318.0 70.4 322.4 88.8 329.4 95.9C336.5 103.0 342.7 100.4 355.9 106.7C369.1 113.0 382.4 118.8 408.8 133.5C435.2 148.1 497.0 184.4 514.6 194.5" stroke="#d81822" stroke-width="1.35" fill="none"/><path d="M313.6 62.0L315.6 64.0L313.6 66.0L311.6 64.0Z" fill="#d81822"/><path d="M329.4 93.9L331.4 95.9L329.4 97.9L327.4 95.9Z" fill="#d81822"/><path d="M355.9 104.7L357.9 106.7L355.9 108.7L353.9 106.7Z" fill="#d81822"/><path d="M408.8 131.5L410.8 133.5L408.8 135.5L406.8 133.5Z" fill="#d81822"/><path d="M514.6 192.5L516.6 194.5L514.6 196.5L512.6 194.5Z" fill="#d81822"/><path d="M303.0 57.5C304.8 73.5 309.2 126.5 313.6 153.3C318.0 180.1 322.4 205.1 329.4 218.3C336.5 231.6 342.7 227.1 355.9 232.8C369.1 238.5 382.4 247.0 408.8 252.7C435.2 258.4 497.0 264.7 514.6 267.1" stroke="#000" stroke-width="1.35" fill="none"/><path d="M313.6 151.7L313.6 154.9" stroke="#000" stroke-width="1.2"/><path d="M329.4 216.7L329.4 219.9" stroke="#000" stroke-width="1.2"/><path d="M355.9 231.2L355.9 234.4" stroke="#000" stroke-width="1.2"/><path d="M408.8 251.1L408.8 254.3" stroke="#000" stroke-width="1.2"/><path d="M514.6 265.5L514.6 268.7" stroke="#000" stroke-width="1.2"/><path d="M303.0 57.5C304.8 62.1 309.2 71.7 313.6 85.3C318.0 98.9 322.4 117.9 329.4 139.0C336.5 160.1 342.7 196.3 355.9 212.0C369.1 227.7 382.4 227.5 408.8 233.3C435.2 239.1 497.0 244.7 514.6 247.0" stroke="#000" stroke-width="1.35" fill="none"/><path d="M313.6 83.7L313.6 86.9" stroke="#000" stroke-width="1.2"/><path d="M329.4 137.4L329.4 140.6" stroke="#000" stroke-width="1.2"/><path d="M355.9 210.4L355.9 213.6" stroke="#000" stroke-width="1.2"/><path d="M408.8 231.7L408.8 234.9" stroke="#000" stroke-width="1.2"/><path d="M514.6 245.4L514.6 248.6" stroke="#000" stroke-width="1.2"/><path d="M303.0 57.5C304.8 62.8 309.2 77.9 313.6 89.6C318.0 101.3 322.4 108.6 329.4 127.8C336.5 147.0 342.7 189.6 355.9 204.8C369.1 220.1 382.4 214.4 408.8 219.1C435.2 223.7 497.0 230.5 514.6 232.8" stroke="#000" stroke-width="1.35" fill="none"/><path d="M313.6 88.0L313.6 91.2" stroke="#000" stroke-width="1.2"/><path d="M329.4 126.2L329.4 129.4" stroke="#000" stroke-width="1.2"/><path d="M355.9 203.2L355.9 206.4" stroke="#000" stroke-width="1.2"/><path d="M408.8 217.5L408.8 220.7" stroke="#000" stroke-width="1.2"/><path d="M514.6 231.2L514.6 234.4" stroke="#000" stroke-width="1.2"/><path d="M303.0 57.5C304.8 63.5 309.2 79.8 313.6 93.3C318.0 106.8 322.4 122.8 329.4 138.4C336.5 154.0 342.7 173.4 355.9 187.0C369.1 200.7 382.4 211.6 408.8 220.3C435.2 228.9 497.0 235.7 514.6 238.7" stroke="#000" stroke-width="1.35" fill="none"/><path d="M313.6 91.7L313.6 94.9" stroke="#000" stroke-width="1.2"/><path d="M329.4 136.8L329.4 140.0" stroke="#000" stroke-width="1.2"/><path d="M355.9 185.4L355.9 188.6" stroke="#000" stroke-width="1.2"/><path d="M408.8 218.7L408.8 221.9" stroke="#000" stroke-width="1.2"/><path d="M514.6 237.1L514.6 240.3" stroke="#000" stroke-width="1.2"/><path d="M303.0 57.5C304.8 62.5 309.2 77.5 313.6 87.7C318.0 98.0 322.4 108.2 329.4 119.0C336.5 129.8 342.7 145.6 355.9 152.5C369.1 159.3 382.4 150.7 408.8 160.0C435.2 169.4 497.0 200.5 514.6 208.6" stroke="#d81822" stroke-width="1.35" fill="none"/><rect x="312.0" y="86.1" width="3.2" height="3.2" fill="#d81822"/><rect x="327.8" y="117.4" width="3.2" height="3.2" fill="#d81822"/><rect x="354.3" y="150.9" width="3.2" height="3.2" fill="#d81822"/><rect x="407.2" y="158.4" width="3.2" height="3.2" fill="#d81822"/><rect x="513.0" y="207.0" width="3.2" height="3.2" fill="#d81822"/><path d="M303.0 57.5C304.8 66.2 309.2 93.9 313.6 109.5C318.0 125.1 322.4 137.2 329.4 151.1C336.5 165.1 342.7 182.5 355.9 193.3C369.1 204.2 382.4 209.7 408.8 216.3C435.2 223.0 497.0 230.2 514.6 233.0" stroke="#000" stroke-width="1.35" fill="none"/><path d="M313.6 107.9L313.6 111.1" stroke="#000" stroke-width="1.2"/><path d="M329.4 149.5L329.4 152.7" stroke="#000" stroke-width="1.2"/><path d="M355.9 191.7L355.9 194.9" stroke="#000" stroke-width="1.2"/><path d="M408.8 214.7L408.8 217.9" stroke="#000" stroke-width="1.2"/><path d="M514.6 231.4L514.6 234.6" stroke="#000" stroke-width="1.2"/><path d="M303.0 57.5C304.8 58.9 309.2 61.8 313.6 66.1C318.0 70.4 322.4 77.6 329.4 83.4C336.5 89.2 342.7 94.3 355.9 100.7C369.1 107.1 382.4 110.6 408.8 121.8C435.2 133.0 497.0 160.3 514.6 168.0" stroke="#000" stroke-width="1.35" fill="none"/><path d="M313.6 64.5L313.6 67.7" stroke="#000" stroke-width="1.2"/><path d="M329.4 81.8L329.4 85.0" stroke="#000" stroke-width="1.2"/><path d="M355.9 99.1L355.9 102.3" stroke="#000" stroke-width="1.2"/><path d="M408.8 120.2L408.8 123.4" stroke="#000" stroke-width="1.2"/><path d="M514.6 166.4L514.6 169.6" stroke="#000" stroke-width="1.2"/><path d="M303.0 57.5C304.8 72.6 309.2 123.8 313.6 148.1C318.0 172.3 322.4 186.2 329.4 202.9C336.5 219.5 342.7 238.2 355.9 247.9C369.1 257.6 382.4 258.1 408.8 261.3C435.2 264.4 497.0 265.9 514.6 266.8" stroke="#000" stroke-width="1.35" fill="none"/><path d="M313.6 146.5L313.6 149.7" stroke="#000" stroke-width="1.2"/><path d="M329.4 201.3L329.4 204.5" stroke="#000" stroke-width="1.2"/><path d="M355.9 246.3L355.9 249.5" stroke="#000" stroke-width="1.2"/><path d="M408.8 259.7L408.8 262.9" stroke="#000" stroke-width="1.2"/><path d="M514.6 265.2L514.6 268.4" stroke="#000" stroke-width="1.2"/><path d="M303.0 57.5C304.8 65.8 309.2 91.6 313.6 107.4C318.0 123.2 322.4 137.1 329.4 152.2C336.5 167.3 342.7 186.6 355.9 197.8C369.1 209.1 382.4 212.5 408.8 219.7C435.2 227.0 497.0 237.9 514.6 241.5" stroke="#000" stroke-width="1.35" fill="none"/><path d="M313.6 105.8L313.6 109.0" stroke="#000" stroke-width="1.2"/><path d="M329.4 150.6L329.4 153.8" stroke="#000" stroke-width="1.2"/><path d="M355.9 196.2L355.9 199.4" stroke="#000" stroke-width="1.2"/><path d="M408.8 218.1L408.8 221.3" stroke="#000" stroke-width="1.2"/><path d="M514.6 239.9L514.6 243.1" stroke="#000" stroke-width="1.2"/><path d="M303.0 57.5C304.8 59.3 309.2 59.7 313.6 68.3C318.0 76.9 322.4 99.6 329.4 109.3C336.5 119.0 342.7 119.9 355.9 126.6C369.1 133.2 382.4 134.9 408.8 149.2C435.2 163.5 497.0 201.7 514.6 212.2" stroke="#d81822" stroke-width="1.35" fill="none"/><path d="M311.6 66.3L315.6 70.3M311.6 70.3L315.6 66.3" stroke="#d81822" stroke-width="1.1" fill="none"/><path d="M327.4 107.3L331.4 111.3M327.4 111.3L331.4 107.3" stroke="#d81822" stroke-width="1.1" fill="none"/><path d="M353.9 124.6L357.9 128.6M353.9 128.6L357.9 124.6" stroke="#d81822" stroke-width="1.1" fill="none"/><path d="M406.8 147.2L410.8 151.2M406.8 151.2L410.8 147.2" stroke="#d81822" stroke-width="1.1" fill="none"/><path d="M512.6 210.2L516.6 214.2M512.6 214.2L516.6 210.2" stroke="#d81822" stroke-width="1.1" fill="none"/><path d="M303.0 57.5C304.8 63.0 309.2 78.0 313.6 90.4C318.0 102.7 322.4 111.1 329.4 131.6C336.5 152.0 342.7 196.0 355.9 213.1C369.1 230.2 382.4 229.6 408.8 234.3C435.2 239.0 497.0 240.2 514.6 241.4" stroke="#000" stroke-width="1.35" fill="none"/><path d="M313.6 88.8L313.6 92.0" stroke="#000" stroke-width="1.2"/><path d="M329.4 130.0L329.4 133.2" stroke="#000" stroke-width="1.2"/><path d="M355.9 211.5L355.9 214.7" stroke="#000" stroke-width="1.2"/><path d="M408.8 232.7L408.8 235.9" stroke="#000" stroke-width="1.2"/><path d="M514.6 239.8L514.6 243.0" stroke="#000" stroke-width="1.2"/><path d="M303.0 57.5C304.8 61.4 309.2 71.2 313.6 80.9C318.0 90.7 322.4 102.8 329.4 116.2C336.5 129.7 342.7 146.9 355.9 161.8C369.1 176.7 382.4 194.8 408.8 205.6C435.2 216.4 497.0 222.9 514.6 226.3" stroke="#000" stroke-width="1.35" fill="none"/><path d="M313.6 79.3L313.6 82.5" stroke="#000" stroke-width="1.2"/><path d="M329.4 114.6L329.4 117.8" stroke="#000" stroke-width="1.2"/><path d="M355.9 160.2L355.9 163.4" stroke="#000" stroke-width="1.2"/><path d="M408.8 204.0L408.8 207.2" stroke="#000" stroke-width="1.2"/><path d="M514.6 224.7L514.6 227.9" stroke="#000" stroke-width="1.2"/><path d="M303.0 57.5C304.8 75.5 309.2 135.8 313.6 165.3C318.0 194.8 322.4 225.4 329.4 234.4C336.5 243.5 342.7 218.2 355.9 219.6C369.1 220.9 382.4 237.0 408.8 242.6C435.2 248.1 497.0 251.1 514.6 252.8" stroke="#000" stroke-width="1.35" fill="none"/><path d="M313.6 163.7L313.6 166.9" stroke="#000" stroke-width="1.2"/><path d="M329.4 232.8L329.4 236.0" stroke="#000" stroke-width="1.2"/><path d="M355.9 218.0L355.9 221.2" stroke="#000" stroke-width="1.2"/><path d="M408.8 241.0L408.8 244.2" stroke="#000" stroke-width="1.2"/><path d="M514.6 251.2L514.6 254.4" stroke="#000" stroke-width="1.2"/><path d="M303.0 57.5C304.8 57.0 309.2 54.7 313.6 54.3C318.0 53.8 322.4 54.9 329.4 54.7C336.5 54.4 342.7 48.0 355.9 52.8C369.1 57.5 382.4 67.1 408.8 83.0C435.2 98.9 497.0 137.3 514.6 148.1" stroke="#d81822" stroke-width="1.35" fill="none"/><path d="M311.6 52.3L315.6 56.3M311.6 56.3L315.6 52.3" stroke="#d81822" stroke-width="1.1" fill="none"/><path d="M327.4 52.7L331.4 56.7M327.4 56.7L331.4 52.7" stroke="#d81822" stroke-width="1.1" fill="none"/><path d="M353.9 50.8L357.9 54.8M353.9 54.8L357.9 50.8" stroke="#d81822" stroke-width="1.1" fill="none"/><path d="M406.8 81.0L410.8 85.0M406.8 85.0L410.8 81.0" stroke="#d81822" stroke-width="1.1" fill="none"/><path d="M512.6 146.1L516.6 150.1M512.6 150.1L516.6 146.1" stroke="#d81822" stroke-width="1.1" fill="none"/><path d="M303.0 57.5C304.8 68.2 309.2 101.8 313.6 121.8C318.0 141.7 322.4 162.1 329.4 177.1C336.5 192.2 342.7 202.2 355.9 212.0C369.1 221.8 382.4 229.7 408.8 235.9C435.2 242.2 497.0 247.3 514.6 249.6" stroke="#000" stroke-width="1.35" fill="none"/><path d="M313.6 120.2L313.6 123.4" stroke="#000" stroke-width="1.2"/><path d="M329.4 175.5L329.4 178.7" stroke="#000" stroke-width="1.2"/><path d="M355.9 210.4L355.9 213.6" stroke="#000" stroke-width="1.2"/><path d="M408.8 234.3L408.8 237.5" stroke="#000" stroke-width="1.2"/><path d="M514.6 248.0L514.6 251.2" stroke="#000" stroke-width="1.2"/><path d="M303.0 57.5C304.8 61.1 309.2 68.8 313.6 79.4C318.0 90.0 322.4 104.4 329.4 121.3C336.5 138.1 342.7 166.1 355.9 180.5C369.1 194.9 382.4 200.1 408.8 207.7C435.2 215.2 497.0 222.9 514.6 225.9" stroke="#000" stroke-width="1.35" fill="none"/><path d="M313.6 77.8L313.6 81.0" stroke="#000" stroke-width="1.2"/><path d="M329.4 119.7L329.4 122.9" stroke="#000" stroke-width="1.2"/><path d="M355.9 178.9L355.9 182.1" stroke="#000" stroke-width="1.2"/><path d="M408.8 206.1L408.8 209.3" stroke="#000" stroke-width="1.2"/><path d="M514.6 224.3L514.6 227.5" stroke="#000" stroke-width="1.2"/><path d="M303.0 57.5C304.8 64.0 309.2 82.6 313.6 96.3C318.0 110.1 322.4 127.2 329.4 139.9C336.5 152.6 342.7 160.8 355.9 172.5C369.1 184.1 382.4 201.6 408.8 209.9C435.2 218.2 497.0 220.2 514.6 222.3" stroke="#000" stroke-width="1.35" fill="none"/><path d="M313.6 94.7L313.6 97.9" stroke="#000" stroke-width="1.2"/><path d="M329.4 138.3L329.4 141.5" stroke="#000" stroke-width="1.2"/><path d="M355.9 170.9L355.9 174.1" stroke="#000" stroke-width="1.2"/><path d="M408.8 208.3L408.8 211.5" stroke="#000" stroke-width="1.2"/><path d="M514.6 220.7L514.6 223.9" stroke="#000" stroke-width="1.2"/><path d="M303.0 57.5C304.8 72.8 309.2 124.2 313.6 149.4C318.0 174.6 322.4 195.6 329.4 208.7C336.5 221.8 342.7 220.4 355.9 227.9C369.1 235.5 382.4 248.5 408.8 253.9C435.2 259.4 497.0 259.3 514.6 260.4" stroke="#000" stroke-width="1.35" fill="none"/><path d="M313.6 147.8L313.6 151.0" stroke="#000" stroke-width="1.2"/><path d="M329.4 207.1L329.4 210.3" stroke="#000" stroke-width="1.2"/><path d="M355.9 226.3L355.9 229.5" stroke="#000" stroke-width="1.2"/><path d="M408.8 252.3L408.8 255.5" stroke="#000" stroke-width="1.2"/><path d="M514.6 258.8L514.6 262.0" stroke="#000" stroke-width="1.2"/><path d="M303.0 57.5C304.8 64.0 309.2 83.5 313.6 96.6C318.0 109.6 322.4 126.5 329.4 135.6C336.5 144.8 342.7 138.7 355.9 151.7C369.1 164.7 382.4 202.1 408.8 213.7C435.2 225.3 497.0 220.1 514.6 221.4" stroke="#000" stroke-width="1.35" fill="none"/><path d="M313.6 95.0L313.6 98.2" stroke="#000" stroke-width="1.2"/><path d="M329.4 134.0L329.4 137.2" stroke="#000" stroke-width="1.2"/><path d="M355.9 150.1L355.9 153.3" stroke="#000" stroke-width="1.2"/><path d="M408.8 212.1L408.8 215.3" stroke="#000" stroke-width="1.2"/><path d="M514.6 219.8L514.6 223.0" stroke="#000" stroke-width="1.2"/><path d="M303.0 57.5C304.8 70.5 309.2 113.7 313.6 135.6C318.0 157.5 322.4 176.5 329.4 188.9C336.5 201.3 342.7 202.6 355.9 209.8C369.1 217.0 382.4 226.1 408.8 232.2C435.2 238.2 497.0 243.6 514.6 245.8" stroke="#000" stroke-width="1.35" fill="none"/><path d="M313.6 134.0L313.6 137.2" stroke="#000" stroke-width="1.2"/><path d="M329.4 187.3L329.4 190.5" stroke="#000" stroke-width="1.2"/><path d="M355.9 208.2L355.9 211.4" stroke="#000" stroke-width="1.2"/><path d="M408.8 230.6L408.8 233.8" stroke="#000" stroke-width="1.2"/><path d="M514.6 244.2L514.6 247.4" stroke="#000" stroke-width="1.2"/><path d="M303.0 57.5C304.8 68.6 309.2 105.4 313.6 123.9C318.0 142.4 322.4 150.3 329.4 168.5C336.5 186.6 342.7 220.7 355.9 232.9C369.1 245.0 382.4 238.1 408.8 241.4C435.2 244.7 497.0 250.8 514.6 252.7" stroke="#000" stroke-width="1.35" fill="none"/><path d="M313.6 122.3L313.6 125.5" stroke="#000" stroke-width="1.2"/><path d="M329.4 166.9L329.4 170.1" stroke="#000" stroke-width="1.2"/><path d="M355.9 231.3L355.9 234.5" stroke="#000" stroke-width="1.2"/><path d="M408.8 239.8L408.8 243.0" stroke="#000" stroke-width="1.2"/><path d="M514.6 251.1L514.6 254.3" stroke="#000" stroke-width="1.2"/><path d="M303.0 57.5C304.8 62.9 309.2 72.5 313.6 90.1C318.0 107.8 322.4 149.9 329.4 163.3C336.5 176.8 342.7 160.3 355.9 170.8C369.1 181.2 382.4 216.2 408.8 225.9C435.2 235.7 497.0 228.7 514.6 229.2" stroke="#000" stroke-width="1.35" fill="none"/><path d="M313.6 88.5L313.6 91.7" stroke="#000" stroke-width="1.2"/><path d="M329.4 161.7L329.4 164.9" stroke="#000" stroke-width="1.2"/><path d="M355.9 169.2L355.9 172.4" stroke="#000" stroke-width="1.2"/><path d="M408.8 224.3L408.8 227.5" stroke="#000" stroke-width="1.2"/><path d="M514.6 227.6L514.6 230.8" stroke="#000" stroke-width="1.2"/><path d="M303.0 57.5C304.8 75.5 309.2 136.7 313.6 165.6C318.0 194.5 322.4 215.9 329.4 230.8C336.5 245.7 342.7 249.3 355.9 255.0C369.1 260.6 382.4 262.3 408.8 264.7C435.2 267.1 497.0 268.6 514.6 269.3" stroke="#000" stroke-width="1.35" fill="none"/><path d="M313.6 164.0L313.6 167.2" stroke="#000" stroke-width="1.2"/><path d="M329.4 229.2L329.4 232.4" stroke="#000" stroke-width="1.2"/><path d="M355.9 253.4L355.9 256.6" stroke="#000" stroke-width="1.2"/><path d="M408.8 263.1L408.8 266.3" stroke="#000" stroke-width="1.2"/><path d="M514.6 267.7L514.6 270.9" stroke="#000" stroke-width="1.2"/><path d="M303.0 57.5C304.8 75.8 309.2 139.7 313.6 167.2C318.0 194.7 322.4 208.5 329.4 222.7C336.5 236.9 342.7 245.4 355.9 252.3C369.1 259.3 382.4 261.0 408.8 264.2C435.2 267.4 497.0 270.3 514.6 271.5" stroke="#000" stroke-width="1.35" fill="none"/><path d="M313.6 165.6L313.6 168.8" stroke="#000" stroke-width="1.2"/><path d="M329.4 221.1L329.4 224.3" stroke="#000" stroke-width="1.2"/><path d="M355.9 250.7L355.9 253.9" stroke="#000" stroke-width="1.2"/><path d="M408.8 262.6L408.8 265.8" stroke="#000" stroke-width="1.2"/><path d="M514.6 269.9L514.6 273.1" stroke="#000" stroke-width="1.2"/><path d="M303.0 57.5C304.8 75.2 309.2 137.0 313.6 163.6C318.0 190.1 322.4 203.5 329.4 216.6C336.5 229.7 342.7 235.0 355.9 242.0C369.1 249.0 382.4 254.7 408.8 258.8C435.2 262.9 497.0 265.3 514.6 266.6" stroke="#000" stroke-width="1.35" fill="none"/><path d="M313.6 162.0L313.6 165.2" stroke="#000" stroke-width="1.2"/><path d="M329.4 215.0L329.4 218.2" stroke="#000" stroke-width="1.2"/><path d="M355.9 240.4L355.9 243.6" stroke="#000" stroke-width="1.2"/><path d="M408.8 257.2L408.8 260.4" stroke="#000" stroke-width="1.2"/><path d="M514.6 265.0L514.6 268.2" stroke="#000" stroke-width="1.2"/><path d="M303.0 57.5C304.8 67.1 309.2 93.1 313.6 115.0C318.0 136.8 322.4 170.3 329.4 188.6C336.5 206.8 342.7 214.7 355.9 224.3C369.1 233.9 382.4 241.6 408.8 246.1C435.2 250.6 497.0 250.3 514.6 251.1" stroke="#000" stroke-width="1.35" fill="none"/><path d="M313.6 113.4L313.6 116.6" stroke="#000" stroke-width="1.2"/><path d="M329.4 187.0L329.4 190.2" stroke="#000" stroke-width="1.2"/><path d="M355.9 222.7L355.9 225.9" stroke="#000" stroke-width="1.2"/><path d="M408.8 244.5L408.8 247.7" stroke="#000" stroke-width="1.2"/><path d="M514.6 249.5L514.6 252.7" stroke="#000" stroke-width="1.2"/><path d="M303.0 57.5C304.8 63.1 309.2 80.6 313.6 91.3C318.0 102.1 322.4 105.6 329.4 122.1C336.5 138.5 342.7 171.9 355.9 189.9C369.1 207.8 382.4 221.3 408.8 229.8C435.2 238.3 497.0 239.0 514.6 240.8" stroke="#000" stroke-width="1.35" fill="none"/><path d="M313.6 89.7L313.6 92.9" stroke="#000" stroke-width="1.2"/><path d="M329.4 120.5L329.4 123.7" stroke="#000" stroke-width="1.2"/><path d="M355.9 188.3L355.9 191.5" stroke="#000" stroke-width="1.2"/><path d="M408.8 228.2L408.8 231.4" stroke="#000" stroke-width="1.2"/><path d="M514.6 239.2L514.6 242.4" stroke="#000" stroke-width="1.2"/><path d="M303.0 57.5C304.8 64.3 309.2 83.7 313.6 98.1C318.0 112.6 322.4 125.3 329.4 144.0C336.5 162.7 342.7 196.6 355.9 210.4C369.1 224.2 382.4 220.4 408.8 227.0C435.2 233.5 497.0 245.8 514.6 249.6" stroke="#000" stroke-width="1.35" fill="none"/><path d="M313.6 96.5L313.6 99.7" stroke="#000" stroke-width="1.2"/><path d="M329.4 142.4L329.4 145.6" stroke="#000" stroke-width="1.2"/><path d="M355.9 208.8L355.9 212.0" stroke="#000" stroke-width="1.2"/><path d="M408.8 225.4L408.8 228.6" stroke="#000" stroke-width="1.2"/><path d="M514.6 248.0L514.6 251.2" stroke="#000" stroke-width="1.2"/><path d="M303.0 57.5C304.8 68.5 309.2 107.2 313.6 123.7C318.0 140.2 322.4 142.1 329.4 156.3C336.5 170.6 342.7 196.5 355.9 209.1C369.1 221.7 382.4 226.2 408.8 232.1C435.2 238.1 497.0 242.7 514.6 244.8" stroke="#000" stroke-width="1.35" fill="none"/><path d="M313.6 122.1L313.6 125.3" stroke="#000" stroke-width="1.2"/><path d="M329.4 154.7L329.4 157.9" stroke="#000" stroke-width="1.2"/><path d="M355.9 207.5L355.9 210.7" stroke="#000" stroke-width="1.2"/><path d="M408.8 230.5L408.8 233.7" stroke="#000" stroke-width="1.2"/><path d="M514.6 243.2L514.6 246.4" stroke="#000" stroke-width="1.2"/><path d="M303.0 57.5C304.8 68.7 309.2 104.7 313.6 124.7C318.0 144.7 322.4 159.3 329.4 177.6C336.5 195.9 342.7 223.0 355.9 234.5C369.1 245.9 382.4 242.2 408.8 246.4C435.2 250.5 497.0 257.3 514.6 259.5" stroke="#000" stroke-width="1.35" fill="none"/><path d="M313.6 123.1L313.6 126.3" stroke="#000" stroke-width="1.2"/><path d="M329.4 176.0L329.4 179.2" stroke="#000" stroke-width="1.2"/><path d="M355.9 232.9L355.9 236.1" stroke="#000" stroke-width="1.2"/><path d="M408.8 244.8L408.8 248.0" stroke="#000" stroke-width="1.2"/><path d="M514.6 257.9L514.6 261.1" stroke="#000" stroke-width="1.2"/><path d="M303.0 57.5C304.8 58.0 309.2 57.2 313.6 60.7C318.0 64.3 322.4 74.1 329.4 78.9C336.5 83.6 342.7 84.7 355.9 89.2C369.1 93.8 382.4 94.3 408.8 106.1C435.2 117.8 497.0 150.7 514.6 159.6" stroke="#d81822" stroke-width="1.35" fill="none"/><rect x="312.0" y="59.1" width="3.2" height="3.2" fill="#d81822"/><rect x="327.8" y="77.3" width="3.2" height="3.2" fill="#d81822"/><rect x="354.3" y="87.6" width="3.2" height="3.2" fill="#d81822"/><rect x="407.2" y="104.5" width="3.2" height="3.2" fill="#d81822"/><rect x="513.0" y="158.0" width="3.2" height="3.2" fill="#d81822"/><path d="M303.0 57.5C304.8 67.9 309.2 102.8 313.6 120.0C318.0 137.3 322.4 141.3 329.4 161.0C336.5 180.8 342.7 224.0 355.9 238.5C369.1 253.0 382.4 244.4 408.8 248.0C435.2 251.7 497.0 258.1 514.6 260.1" stroke="#000" stroke-width="1.35" fill="none"/><path d="M313.6 118.4L313.6 121.6" stroke="#000" stroke-width="1.2"/><path d="M329.4 159.4L329.4 162.6" stroke="#000" stroke-width="1.2"/><path d="M355.9 236.9L355.9 240.1" stroke="#000" stroke-width="1.2"/><path d="M408.8 246.4L408.8 249.6" stroke="#000" stroke-width="1.2"/><path d="M514.6 258.5L514.6 261.7" stroke="#000" stroke-width="1.2"/><path d="M303.0 57.5C304.8 67.4 309.2 95.7 313.6 116.8C318.0 138.0 322.4 169.9 329.4 184.2C336.5 198.5 342.7 196.1 355.9 202.5C369.1 208.8 382.4 215.6 408.8 222.4C435.2 229.1 497.0 239.4 514.6 242.8" stroke="#000" stroke-width="1.35" fill="none"/><path d="M313.6 115.2L313.6 118.4" stroke="#000" stroke-width="1.2"/><path d="M329.4 182.6L329.4 185.8" stroke="#000" stroke-width="1.2"/><path d="M355.9 200.9L355.9 204.1" stroke="#000" stroke-width="1.2"/><path d="M408.8 220.8L408.8 224.0" stroke="#000" stroke-width="1.2"/><path d="M514.6 241.2L514.6 244.4" stroke="#000" stroke-width="1.2"/><path d="M303.0 57.5C304.8 66.6 309.2 93.4 313.6 112.4C318.0 131.4 322.4 157.3 329.4 171.4C336.5 185.5 342.7 188.0 355.9 196.8C369.1 205.6 382.4 217.0 408.8 224.4C435.2 231.7 497.0 238.1 514.6 240.9" stroke="#000" stroke-width="1.35" fill="none"/><path d="M313.6 110.8L313.6 114.0" stroke="#000" stroke-width="1.2"/><path d="M329.4 169.8L329.4 173.0" stroke="#000" stroke-width="1.2"/><path d="M355.9 195.2L355.9 198.4" stroke="#000" stroke-width="1.2"/><path d="M408.8 222.8L408.8 226.0" stroke="#000" stroke-width="1.2"/><path d="M514.6 239.3L514.6 242.5" stroke="#000" stroke-width="1.2"/><path d="M303.0 57.5C304.8 58.2 309.2 57.5 313.6 61.8C318.0 66.1 322.4 76.9 329.4 83.4C336.5 89.9 342.7 94.2 355.9 100.7C369.1 107.1 382.4 107.4 408.8 122.2C435.2 137.1 497.0 178.5 514.6 189.8" stroke="#1f7034" stroke-width="1.25" fill="none"/><path d="M313.6 59.8L315.6 61.8L313.6 63.8L311.6 61.8Z" fill="#1f7034"/><path d="M329.4 81.4L331.4 83.4L329.4 85.4L327.4 83.4Z" fill="#1f7034"/><path d="M355.9 98.7L357.9 100.7L355.9 102.7L353.9 100.7Z" fill="#1f7034"/><path d="M408.8 120.2L410.8 122.2L408.8 124.2L406.8 122.2Z" fill="#1f7034"/><path d="M514.6 187.8L516.6 189.8L514.6 191.8L512.6 189.8Z" fill="#1f7034"/><path d="M303.0 57.5C304.8 64.0 309.2 82.1 313.6 96.3C318.0 110.5 322.4 127.3 329.4 142.6C336.5 157.9 342.7 176.9 355.9 188.1C369.1 199.4 382.4 201.5 408.8 210.2C435.2 218.9 497.0 235.3 514.6 240.4" stroke="#000" stroke-width="1.35" fill="none"/><path d="M313.6 94.7L313.6 97.9" stroke="#000" stroke-width="1.2"/><path d="M329.4 141.0L329.4 144.2" stroke="#000" stroke-width="1.2"/><path d="M355.9 186.5L355.9 189.7" stroke="#000" stroke-width="1.2"/><path d="M408.8 208.6L408.8 211.8" stroke="#000" stroke-width="1.2"/><path d="M514.6 238.8L514.6 242.0" stroke="#000" stroke-width="1.2"/><path d="M303.0 57.5C304.8 62.6 309.2 78.4 313.6 87.9C318.0 97.4 322.4 101.3 329.4 114.5C336.5 127.8 342.7 155.4 355.9 167.6C369.1 179.7 382.4 177.9 408.8 187.5C435.2 197.2 497.0 219.1 514.6 225.4" stroke="#000" stroke-width="1.35" fill="none"/><path d="M313.6 86.3L313.6 89.5" stroke="#000" stroke-width="1.2"/><path d="M329.4 112.9L329.4 116.1" stroke="#000" stroke-width="1.2"/><path d="M355.9 166.0L355.9 169.2" stroke="#000" stroke-width="1.2"/><path d="M408.8 185.9L408.8 189.1" stroke="#000" stroke-width="1.2"/><path d="M514.6 223.8L514.6 227.0" stroke="#000" stroke-width="1.2"/><path d="M303.0 57.5C304.8 67.0 309.2 98.0 313.6 114.3C318.0 130.5 322.4 141.6 329.4 155.1C336.5 168.6 342.7 182.0 355.9 195.2C369.1 208.5 382.4 227.9 408.8 234.5C435.2 241.1 497.0 234.6 514.6 234.6" stroke="#000" stroke-width="1.35" fill="none"/><path d="M313.6 112.7L313.6 115.9" stroke="#000" stroke-width="1.2"/><path d="M329.4 153.5L329.4 156.7" stroke="#000" stroke-width="1.2"/><path d="M355.9 193.6L355.9 196.8" stroke="#000" stroke-width="1.2"/><path d="M408.8 232.9L408.8 236.1" stroke="#000" stroke-width="1.2"/><path d="M514.6 233.0L514.6 236.2" stroke="#000" stroke-width="1.2"/><path d="M303.0 57.5C304.8 65.6 309.2 88.1 313.6 106.2C318.0 124.2 322.4 146.9 329.4 165.7C336.5 184.5 342.7 209.0 355.9 219.2C369.1 229.4 382.4 222.6 408.8 226.9C435.2 231.3 497.0 242.3 514.6 245.3" stroke="#000" stroke-width="1.35" fill="none"/><path d="M313.6 104.6L313.6 107.8" stroke="#000" stroke-width="1.2"/><path d="M329.4 164.1L329.4 167.3" stroke="#000" stroke-width="1.2"/><path d="M355.9 217.6L355.9 220.8" stroke="#000" stroke-width="1.2"/><path d="M408.8 225.3L408.8 228.5" stroke="#000" stroke-width="1.2"/><path d="M514.6 243.7L514.6 246.9" stroke="#000" stroke-width="1.2"/><path d="M303.0 57.5C304.8 58.2 309.2 57.3 313.6 61.8C318.0 66.3 322.4 78.1 329.4 84.5C336.5 90.8 342.7 95.4 355.9 99.8C369.1 104.1 382.4 96.8 408.8 110.6C435.2 124.4 497.0 170.7 514.6 182.7" stroke="#d81822" stroke-width="1.35" fill="none"/><path d="M313.6 59.8L315.6 63.4L311.6 63.4Z" fill="#d81822"/><path d="M329.4 82.5L331.4 86.1L327.4 86.1Z" fill="#d81822"/><path d="M355.9 97.8L357.9 101.4L353.9 101.4Z" fill="#d81822"/><path d="M408.8 108.6L410.8 112.2L406.8 112.2Z" fill="#d81822"/><path d="M514.6 180.7L516.6 184.3L512.6 184.3Z" fill="#d81822"/><path d="M303.0 57.5C304.8 74.5 309.2 134.4 313.6 159.7C318.0 185.0 322.4 195.3 329.4 209.4C336.5 223.5 342.7 237.3 355.9 244.4C369.1 251.4 382.4 248.1 408.8 251.5C435.2 254.9 497.0 262.7 514.6 264.9" stroke="#000" stroke-width="1.35" fill="none"/><path d="M313.6 158.1L313.6 161.3" stroke="#000" stroke-width="1.2"/><path d="M329.4 207.8L329.4 211.0" stroke="#000" stroke-width="1.2"/><path d="M355.9 242.8L355.9 246.0" stroke="#000" stroke-width="1.2"/><path d="M408.8 249.9L408.8 253.1" stroke="#000" stroke-width="1.2"/><path d="M514.6 263.3L514.6 266.5" stroke="#000" stroke-width="1.2"/><path d="M303.0 57.5C304.8 59.7 309.2 61.1 313.6 70.4C318.0 79.8 322.4 103.2 329.4 113.6C336.5 124.0 342.7 126.2 355.9 133.0C369.1 139.9 382.4 141.2 408.8 154.8C435.2 168.5 497.0 205.0 514.6 215.0" stroke="#d81822" stroke-width="1.35" fill="none"/><path d="M313.6 68.4L315.6 70.4L313.6 72.4L311.6 70.4Z" fill="#d81822"/><path d="M329.4 111.6L331.4 113.6L329.4 115.6L327.4 113.6Z" fill="#d81822"/><path d="M355.9 131.0L357.9 133.0L355.9 135.0L353.9 133.0Z" fill="#d81822"/><path d="M408.8 152.8L410.8 154.8L408.8 156.8L406.8 154.8Z" fill="#d81822"/><path d="M514.6 213.0L516.6 215.0L514.6 217.0L512.6 215.0Z" fill="#d81822"/><path d="M303.0 57.5C304.8 72.7 309.2 124.1 313.6 148.4C318.0 172.8 322.4 185.7 329.4 203.4C336.5 221.1 342.7 244.5 355.9 254.7C369.1 264.9 382.4 262.5 408.8 264.7C435.2 266.8 497.0 267.2 514.6 267.7" stroke="#000" stroke-width="1.35" fill="none"/><path d="M313.6 146.8L313.6 150.0" stroke="#000" stroke-width="1.2"/><path d="M329.4 201.8L329.4 205.0" stroke="#000" stroke-width="1.2"/><path d="M355.9 253.1L355.9 256.3" stroke="#000" stroke-width="1.2"/><path d="M408.8 263.1L408.8 266.3" stroke="#000" stroke-width="1.2"/><path d="M514.6 266.1L514.6 269.3" stroke="#000" stroke-width="1.2"/><path d="M303.0 57.5C304.8 57.7 309.2 56.0 313.6 58.6C318.0 61.2 322.4 69.2 329.4 73.0C336.5 76.9 342.7 79.5 355.9 81.5C369.1 83.4 382.4 74.8 408.8 84.7C435.2 94.6 497.0 131.6 514.6 141.0" stroke="#d81822" stroke-width="1.35" fill="none"/><path d="M311.6 56.6L315.6 60.6M311.6 60.6L315.6 56.6" stroke="#d81822" stroke-width="1.1" fill="none"/><path d="M327.4 71.0L331.4 75.0M327.4 75.0L331.4 71.0" stroke="#d81822" stroke-width="1.1" fill="none"/><path d="M353.9 79.5L357.9 83.5M353.9 83.5L357.9 79.5" stroke="#d81822" stroke-width="1.1" fill="none"/><path d="M406.8 82.7L410.8 86.7M406.8 86.7L410.8 82.7" stroke="#d81822" stroke-width="1.1" fill="none"/><path d="M512.6 139.0L516.6 143.0M512.6 143.0L516.6 139.0" stroke="#d81822" stroke-width="1.1" fill="none"/><path d="M303.0 57.5C304.8 66.5 309.2 92.1 313.6 111.3C318.0 130.6 322.4 155.7 329.4 173.0C336.5 190.3 342.7 205.7 355.9 214.9C369.1 224.1 382.4 222.3 408.8 228.1C435.2 233.8 497.0 245.9 514.6 249.5" stroke="#000" stroke-width="1.35" fill="none"/><path d="M313.6 109.7L313.6 112.9" stroke="#000" stroke-width="1.2"/><path d="M329.4 171.4L329.4 174.6" stroke="#000" stroke-width="1.2"/><path d="M355.9 213.3L355.9 216.5" stroke="#000" stroke-width="1.2"/><path d="M408.8 226.5L408.8 229.7" stroke="#000" stroke-width="1.2"/><path d="M514.6 247.9L514.6 251.1" stroke="#000" stroke-width="1.2"/><path d="M303.0 57.5C304.8 68.7 309.2 105.9 313.6 124.7C318.0 143.5 322.4 160.8 329.4 170.3C336.5 179.9 342.7 174.2 355.9 182.0C369.1 189.9 382.4 207.5 408.8 217.3C435.2 227.1 497.0 237.0 514.6 240.9" stroke="#000" stroke-width="1.35" fill="none"/><path d="M313.6 123.1L313.6 126.3" stroke="#000" stroke-width="1.2"/><path d="M329.4 168.7L329.4 171.9" stroke="#000" stroke-width="1.2"/><path d="M355.9 180.4L355.9 183.6" stroke="#000" stroke-width="1.2"/><path d="M408.8 215.7L408.8 218.9" stroke="#000" stroke-width="1.2"/><path d="M514.6 239.3L514.6 242.5" stroke="#000" stroke-width="1.2"/><path d="M303.0 57.5C304.8 66.5 309.2 91.8 313.6 111.7C318.0 131.6 322.4 160.2 329.4 176.8C336.5 193.3 342.7 198.9 355.9 211.1C369.1 223.4 382.4 244.4 408.8 250.3C435.2 256.2 497.0 247.0 514.6 246.3" stroke="#000" stroke-width="1.35" fill="none"/><path d="M313.6 110.1L313.6 113.3" stroke="#000" stroke-width="1.2"/><path d="M329.4 175.2L329.4 178.4" stroke="#000" stroke-width="1.2"/><path d="M355.9 209.5L355.9 212.7" stroke="#000" stroke-width="1.2"/><path d="M408.8 248.7L408.8 251.9" stroke="#000" stroke-width="1.2"/><path d="M514.6 244.7L514.6 247.9" stroke="#000" stroke-width="1.2"/><path d="M303.0 57.5C304.8 57.3 309.2 55.6 313.6 56.4C318.0 57.2 322.4 60.2 329.4 62.5C336.5 64.7 342.7 67.2 355.9 70.0C369.1 72.8 382.4 71.4 408.8 79.1C435.2 86.8 497.0 110.0 514.6 116.2" stroke="#d81822" stroke-width="1.35" fill="none"/><rect x="312.0" y="54.8" width="3.2" height="3.2" fill="#d81822"/><rect x="327.8" y="60.9" width="3.2" height="3.2" fill="#d81822"/><rect x="354.3" y="68.4" width="3.2" height="3.2" fill="#d81822"/><rect x="407.2" y="77.5" width="3.2" height="3.2" fill="#d81822"/><rect x="513.0" y="114.6" width="3.2" height="3.2" fill="#d81822"/><path d="M303.0 57.5C304.8 76.5 309.2 145.3 313.6 171.5C318.0 197.7 322.4 201.5 329.4 214.7C336.5 228.0 342.7 243.4 355.9 251.1C369.1 258.8 382.4 257.5 408.8 260.9C435.2 264.3 497.0 269.8 514.6 271.6" stroke="#000" stroke-width="1.35" fill="none"/><path d="M313.6 169.9L313.6 173.1" stroke="#000" stroke-width="1.2"/><path d="M329.4 213.1L329.4 216.3" stroke="#000" stroke-width="1.2"/><path d="M355.9 249.5L355.9 252.7" stroke="#000" stroke-width="1.2"/><path d="M408.8 259.3L408.8 262.5" stroke="#000" stroke-width="1.2"/><path d="M514.6 270.0L514.6 273.2" stroke="#000" stroke-width="1.2"/><path d="M303.0 57.5C304.8 69.3 309.2 107.3 313.6 128.4C318.0 149.4 322.4 172.0 329.4 183.7C336.5 195.3 342.7 192.1 355.9 198.3C369.1 204.6 382.4 214.3 408.8 220.9C435.2 227.6 497.0 235.3 514.6 238.2" stroke="#000" stroke-width="1.35" fill="none"/><path d="M313.6 126.8L313.6 130.0" stroke="#000" stroke-width="1.2"/><path d="M329.4 182.1L329.4 185.3" stroke="#000" stroke-width="1.2"/><path d="M355.9 196.7L355.9 199.9" stroke="#000" stroke-width="1.2"/><path d="M408.8 219.3L408.8 222.5" stroke="#000" stroke-width="1.2"/><path d="M514.6 236.6L514.6 239.8" stroke="#000" stroke-width="1.2"/><path d="M303.0 57.5C304.8 58.9 309.2 58.2 313.6 66.1C318.0 74.0 322.4 96.1 329.4 105.0C336.5 113.8 342.7 113.0 355.9 119.2C369.1 125.4 382.4 127.6 408.8 142.3C435.2 157.0 497.0 196.6 514.6 207.5" stroke="#d81822" stroke-width="1.35" fill="none"/><path d="M313.6 64.1L315.6 67.7L311.6 67.7Z" fill="#d81822"/><path d="M329.4 103.0L331.4 106.6L327.4 106.6Z" fill="#d81822"/><path d="M355.9 117.2L357.9 120.8L353.9 120.8Z" fill="#d81822"/><path d="M408.8 140.3L410.8 143.9L406.8 143.9Z" fill="#d81822"/><path d="M514.6 205.5L516.6 209.1L512.6 209.1Z" fill="#d81822"/><path d="M303.0 57.5C304.8 66.0 309.2 92.0 313.6 108.6C318.0 125.3 322.4 144.0 329.4 157.5C336.5 170.9 342.7 177.3 355.9 189.3C369.1 201.3 382.4 220.5 408.8 229.2C435.2 237.9 497.0 239.5 514.6 241.5" stroke="#000" stroke-width="1.35" fill="none"/><path d="M313.6 107.0L313.6 110.2" stroke="#000" stroke-width="1.2"/><path d="M329.4 155.9L329.4 159.1" stroke="#000" stroke-width="1.2"/><path d="M355.9 187.7L355.9 190.9" stroke="#000" stroke-width="1.2"/><path d="M408.8 227.6L408.8 230.8" stroke="#000" stroke-width="1.2"/><path d="M514.6 239.9L514.6 243.1" stroke="#000" stroke-width="1.2"/><path d="M303.0 57.5C304.8 66.8 309.2 92.9 313.6 113.4C318.0 133.9 322.4 163.8 329.4 180.4C336.5 197.0 342.7 204.9 355.9 213.1C369.1 221.3 382.4 223.6 408.8 229.6C435.2 235.6 497.0 245.8 514.6 249.0" stroke="#000" stroke-width="1.35" fill="none"/><path d="M313.6 111.8L313.6 115.0" stroke="#000" stroke-width="1.2"/><path d="M329.4 178.8L329.4 182.0" stroke="#000" stroke-width="1.2"/><path d="M355.9 211.5L355.9 214.7" stroke="#000" stroke-width="1.2"/><path d="M408.8 228.0L408.8 231.2" stroke="#000" stroke-width="1.2"/><path d="M514.6 247.4L514.6 250.6" stroke="#000" stroke-width="1.2"/><path d="M303.0 57.5C304.8 63.7 309.2 79.7 313.6 94.8C318.0 109.8 322.4 134.8 329.4 147.7C336.5 160.7 342.7 163.9 355.9 172.5C369.1 181.1 382.4 189.9 408.8 199.6C435.2 209.2 497.0 225.2 514.6 230.4" stroke="#000" stroke-width="1.35" fill="none"/><path d="M313.6 93.2L313.6 96.4" stroke="#000" stroke-width="1.2"/><path d="M329.4 146.1L329.4 149.3" stroke="#000" stroke-width="1.2"/><path d="M355.9 170.9L355.9 174.1" stroke="#000" stroke-width="1.2"/><path d="M408.8 198.0L408.8 201.2" stroke="#000" stroke-width="1.2"/><path d="M514.6 228.8L514.6 232.0" stroke="#000" stroke-width="1.2"/><path d="M303.0 57.5C304.8 69.4 309.2 107.9 313.6 128.6C318.0 149.3 322.4 165.2 329.4 181.7C336.5 198.2 342.7 216.9 355.9 227.6C369.1 238.2 382.4 240.5 408.8 245.6C435.2 250.8 497.0 256.2 514.6 258.3" stroke="#000" stroke-width="1.35" fill="none"/><path d="M313.6 127.0L313.6 130.2" stroke="#000" stroke-width="1.2"/><path d="M329.4 180.1L329.4 183.3" stroke="#000" stroke-width="1.2"/><path d="M355.9 226.0L355.9 229.2" stroke="#000" stroke-width="1.2"/><path d="M408.8 244.0L408.8 247.2" stroke="#000" stroke-width="1.2"/><path d="M514.6 256.7L514.6 259.9" stroke="#000" stroke-width="1.2"/><path d="M303.0 57.5C304.8 63.6 309.2 82.7 313.6 94.1C318.0 105.5 322.4 110.6 329.4 126.0C336.5 141.4 342.7 172.0 355.9 186.3C369.1 200.5 382.4 205.9 408.8 211.6C435.2 217.4 497.0 219.3 514.6 220.9" stroke="#000" stroke-width="1.35" fill="none"/><path d="M313.6 92.5L313.6 95.7" stroke="#000" stroke-width="1.2"/><path d="M329.4 124.4L329.4 127.6" stroke="#000" stroke-width="1.2"/><path d="M355.9 184.7L355.9 187.9" stroke="#000" stroke-width="1.2"/><path d="M408.8 210.0L408.8 213.2" stroke="#000" stroke-width="1.2"/><path d="M514.6 219.3L514.6 222.5" stroke="#000" stroke-width="1.2"/><path d="M303.0 57.5C304.8 73.3 309.2 129.2 313.6 152.6C318.0 175.9 322.4 180.4 329.4 197.5C336.5 214.5 342.7 243.8 355.9 255.0C369.1 266.2 382.4 262.4 408.8 264.7C435.2 267.0 497.0 268.1 514.6 268.7" stroke="#000" stroke-width="1.35" fill="none"/><path d="M313.6 151.0L313.6 154.2" stroke="#000" stroke-width="1.2"/><path d="M329.4 195.9L329.4 199.1" stroke="#000" stroke-width="1.2"/><path d="M355.9 253.4L355.9 256.6" stroke="#000" stroke-width="1.2"/><path d="M408.8 263.1L408.8 266.3" stroke="#000" stroke-width="1.2"/><path d="M514.6 267.1L514.6 270.3" stroke="#000" stroke-width="1.2"/><path d="M303.0 57.5C304.8 68.0 309.2 99.8 313.6 120.7C318.0 141.7 322.4 168.4 329.4 183.5C336.5 198.5 342.7 201.9 355.9 211.0C369.1 220.1 382.4 233.5 408.8 238.2C435.2 242.9 497.0 239.1 514.6 239.3" stroke="#000" stroke-width="1.35" fill="none"/><path d="M313.6 119.1L313.6 122.3" stroke="#000" stroke-width="1.2"/><path d="M329.4 181.9L329.4 185.1" stroke="#000" stroke-width="1.2"/><path d="M355.9 209.4L355.9 212.6" stroke="#000" stroke-width="1.2"/><path d="M408.8 236.6L408.8 239.8" stroke="#000" stroke-width="1.2"/><path d="M514.6 237.7L514.6 240.9" stroke="#000" stroke-width="1.2"/><path d="M303.0 57.5C304.8 57.1 309.2 54.8 313.6 55.3C318.0 55.8 322.4 59.4 329.4 60.5C336.5 61.7 342.7 60.8 355.9 62.2C369.1 63.7 382.4 63.9 408.8 68.9C435.2 74.0 497.0 88.7 514.6 92.7" stroke="#d81822" stroke-width="1.35" fill="none"/><path d="M313.6 53.3L315.6 55.3L313.6 57.3L311.6 55.3Z" fill="#d81822"/><path d="M329.4 58.5L331.4 60.5L329.4 62.5L327.4 60.5Z" fill="#d81822"/><path d="M355.9 60.2L357.9 62.2L355.9 64.2L353.9 62.2Z" fill="#d81822"/><path d="M408.8 66.9L410.8 68.9L408.8 70.9L406.8 68.9Z" fill="#d81822"/><path d="M514.6 90.7L516.6 92.7L514.6 94.7L512.6 92.7Z" fill="#d81822"/><path d="M303.0 57.5C304.8 57.5 309.2 55.9 313.6 57.5C318.0 59.1 322.4 64.8 329.4 67.2C336.5 69.6 342.7 68.1 355.9 72.0C369.1 75.8 382.4 79.9 408.8 90.3C435.2 100.7 497.0 126.8 514.6 134.1" stroke="#1f7034" stroke-width="1.25" fill="none"/><path d="M313.6 55.5L315.6 57.5L313.6 59.5L311.6 57.5Z" fill="#1f7034"/><path d="M329.4 65.2L331.4 67.2L329.4 69.2L327.4 67.2Z" fill="#1f7034"/><path d="M355.9 70.0L357.9 72.0L355.9 74.0L353.9 72.0Z" fill="#1f7034"/><path d="M408.8 88.3L410.8 90.3L408.8 92.3L406.8 90.3Z" fill="#1f7034"/><path d="M514.6 132.1L516.6 134.1L514.6 136.1L512.6 134.1Z" fill="#1f7034"/><path d="M303.0 57.5C304.8 60.4 309.2 67.6 313.6 74.8C318.0 82.0 322.4 92.3 329.4 100.7C336.5 109.0 342.7 112.5 355.9 125.0C369.1 137.6 382.4 162.6 408.8 176.2C435.2 189.7 497.0 201.4 514.6 206.4" stroke="#000" stroke-width="1.35" fill="none"/><path d="M313.6 73.2L313.6 76.4" stroke="#000" stroke-width="1.2"/><path d="M329.4 99.1L329.4 102.3" stroke="#000" stroke-width="1.2"/><path d="M355.9 123.4L355.9 126.6" stroke="#000" stroke-width="1.2"/><path d="M408.8 174.6L408.8 177.8" stroke="#000" stroke-width="1.2"/><path d="M514.6 204.8L514.6 208.0" stroke="#000" stroke-width="1.2"/><path d="M303.0 57.5C304.8 65.3 309.2 87.0 313.6 104.4C318.0 121.9 322.4 152.1 329.4 162.4C336.5 172.7 342.7 160.9 355.9 166.3C369.1 171.8 382.4 186.1 408.8 195.3C435.2 204.4 497.0 217.0 514.6 221.3" stroke="#000" stroke-width="1.35" fill="none"/><path d="M313.6 102.8L313.6 106.0" stroke="#000" stroke-width="1.2"/><path d="M329.4 160.8L329.4 164.0" stroke="#000" stroke-width="1.2"/><path d="M355.9 164.7L355.9 167.9" stroke="#000" stroke-width="1.2"/><path d="M408.8 193.7L408.8 196.9" stroke="#000" stroke-width="1.2"/><path d="M514.6 219.7L514.6 222.9" stroke="#000" stroke-width="1.2"/><path d="M303.0 57.5C304.8 76.1 309.2 142.2 313.6 168.8C318.0 195.5 322.4 204.2 329.4 217.3C336.5 230.4 342.7 240.1 355.9 247.5C369.1 254.9 382.4 258.3 408.8 261.7C435.2 265.1 497.0 267.0 514.6 268.0" stroke="#000" stroke-width="1.35" fill="none"/><path d="M313.6 167.2L313.6 170.4" stroke="#000" stroke-width="1.2"/><path d="M329.4 215.7L329.4 218.9" stroke="#000" stroke-width="1.2"/><path d="M355.9 245.9L355.9 249.1" stroke="#000" stroke-width="1.2"/><path d="M408.8 260.1L408.8 263.3" stroke="#000" stroke-width="1.2"/><path d="M514.6 266.4L514.6 269.6" stroke="#000" stroke-width="1.2"/><path d="M303.0 57.5C304.8 61.6 309.2 71.0 313.6 82.3C318.0 93.6 322.4 114.3 329.4 125.4C336.5 136.4 342.7 135.5 355.9 148.6C369.1 161.8 382.4 191.2 408.8 204.3C435.2 217.5 497.0 223.8 514.6 227.7" stroke="#000" stroke-width="1.35" fill="none"/><path d="M313.6 80.7L313.6 83.9" stroke="#000" stroke-width="1.2"/><path d="M329.4 123.8L329.4 127.0" stroke="#000" stroke-width="1.2"/><path d="M355.9 147.0L355.9 150.2" stroke="#000" stroke-width="1.2"/><path d="M408.8 202.7L408.8 205.9" stroke="#000" stroke-width="1.2"/><path d="M514.6 226.1L514.6 229.3" stroke="#000" stroke-width="1.2"/><path d="M303.0 57.5C304.8 68.3 309.2 100.5 313.6 122.1C318.0 143.8 322.4 168.5 329.4 187.4C336.5 206.4 342.7 226.8 355.9 235.6C369.1 244.4 382.4 237.5 408.8 240.5C435.2 243.4 497.0 251.1 514.6 253.2" stroke="#000" stroke-width="1.35" fill="none"/><path d="M313.6 120.5L313.6 123.7" stroke="#000" stroke-width="1.2"/><path d="M329.4 185.8L329.4 189.0" stroke="#000" stroke-width="1.2"/><path d="M355.9 234.0L355.9 237.2" stroke="#000" stroke-width="1.2"/><path d="M408.8 238.9L408.8 242.1" stroke="#000" stroke-width="1.2"/><path d="M514.6 251.6L514.6 254.8" stroke="#000" stroke-width="1.2"/><path d="M303.0 57.5C304.8 65.3 309.2 89.6 313.6 104.3C318.0 119.1 322.4 128.5 329.4 146.1C336.5 163.7 342.7 196.3 355.9 209.9C369.1 223.5 382.4 221.7 408.8 227.8C435.2 233.9 497.0 243.5 514.6 246.7" stroke="#000" stroke-width="1.35" fill="none"/><path d="M313.6 102.7L313.6 105.9" stroke="#000" stroke-width="1.2"/><path d="M329.4 144.5L329.4 147.7" stroke="#000" stroke-width="1.2"/><path d="M355.9 208.3L355.9 211.5" stroke="#000" stroke-width="1.2"/><path d="M408.8 226.2L408.8 229.4" stroke="#000" stroke-width="1.2"/><path d="M514.6 245.1L514.6 248.3" stroke="#000" stroke-width="1.2"/><path d="M303.0 57.5C304.8 68.8 309.2 103.0 313.6 125.4C318.0 147.7 322.4 172.7 329.4 191.7C336.5 210.7 342.7 229.5 355.9 239.1C369.1 248.7 382.4 245.0 408.8 249.4C435.2 253.8 497.0 262.8 514.6 265.5" stroke="#000" stroke-width="1.35" fill="none"/><path d="M313.6 123.8L313.6 127.0" stroke="#000" stroke-width="1.2"/><path d="M329.4 190.1L329.4 193.3" stroke="#000" stroke-width="1.2"/><path d="M355.9 237.5L355.9 240.7" stroke="#000" stroke-width="1.2"/><path d="M408.8 247.8L408.8 251.0" stroke="#000" stroke-width="1.2"/><path d="M514.6 263.9L514.6 267.1" stroke="#000" stroke-width="1.2"/><path d="M303.0 57.5C304.8 63.6 309.2 82.7 313.6 94.4C318.0 106.0 322.4 107.1 329.4 127.4C336.5 147.7 342.7 200.6 355.9 216.0C369.1 231.5 382.4 215.7 408.8 220.1C435.2 224.4 497.0 238.6 514.6 242.3" stroke="#000" stroke-width="1.35" fill="none"/><path d="M313.6 92.8L313.6 96.0" stroke="#000" stroke-width="1.2"/><path d="M329.4 125.8L329.4 129.0" stroke="#000" stroke-width="1.2"/><path d="M355.9 214.4L355.9 217.6" stroke="#000" stroke-width="1.2"/><path d="M408.8 218.5L408.8 221.7" stroke="#000" stroke-width="1.2"/><path d="M514.6 240.7L514.6 243.9" stroke="#000" stroke-width="1.2"/><path d="M303.0 57.5C304.8 72.6 309.2 113.2 313.6 148.1C318.0 183.0 322.4 247.3 329.4 266.8C336.5 286.3 342.7 265.1 355.9 265.1C369.1 265.1 382.4 266.2 408.8 266.8C435.2 267.5 497.0 268.6 514.6 269.0" stroke="#000" stroke-width="1.35" fill="none"/><path d="M313.6 146.5L313.6 149.7" stroke="#000" stroke-width="1.2"/><path d="M329.4 265.2L329.4 268.4" stroke="#000" stroke-width="1.2"/><path d="M355.9 263.5L355.9 266.7" stroke="#000" stroke-width="1.2"/><path d="M408.8 265.2L408.8 268.4" stroke="#000" stroke-width="1.2"/><path d="M514.6 267.4L514.6 270.6" stroke="#000" stroke-width="1.2"/><path d="M303.0 57.5C304.8 68.3 309.2 100.3 313.6 122.1C318.0 143.9 322.4 171.6 329.4 188.2C336.5 204.9 342.7 214.7 355.9 221.9C369.1 229.1 382.4 226.6 408.8 231.6C435.2 236.5 497.0 248.3 514.6 251.6" stroke="#000" stroke-width="1.35" fill="none"/><path d="M313.6 120.5L313.6 123.7" stroke="#000" stroke-width="1.2"/><path d="M329.4 186.6L329.4 189.8" stroke="#000" stroke-width="1.2"/><path d="M355.9 220.3L355.9 223.5" stroke="#000" stroke-width="1.2"/><path d="M408.8 230.0L408.8 233.2" stroke="#000" stroke-width="1.2"/><path d="M514.6 250.0L514.6 253.2" stroke="#000" stroke-width="1.2"/><path d="M303.0 57.5C304.8 75.1 309.2 137.0 313.6 163.3C318.0 189.6 322.4 201.1 329.4 215.3C336.5 229.5 342.7 241.5 355.9 248.7C369.1 256.0 382.4 255.4 408.8 258.8C435.2 262.2 497.0 267.4 514.6 269.1" stroke="#000" stroke-width="1.35" fill="none"/><path d="M313.6 161.7L313.6 164.9" stroke="#000" stroke-width="1.2"/><path d="M329.4 213.7L329.4 216.9" stroke="#000" stroke-width="1.2"/><path d="M355.9 247.1L355.9 250.3" stroke="#000" stroke-width="1.2"/><path d="M408.8 257.2L408.8 260.4" stroke="#000" stroke-width="1.2"/><path d="M514.6 267.5L514.6 270.7" stroke="#000" stroke-width="1.2"/><path d="M303.0 57.5C304.8 65.5 309.2 90.6 313.6 105.6C318.0 120.7 322.4 131.6 329.4 147.8C336.5 164.1 342.7 187.0 355.9 202.9C369.1 218.8 382.4 235.6 408.8 243.2C435.2 250.7 497.0 247.3 514.6 248.1" stroke="#000" stroke-width="1.35" fill="none"/><path d="M313.6 104.0L313.6 107.2" stroke="#000" stroke-width="1.2"/><path d="M329.4 146.2L329.4 149.4" stroke="#000" stroke-width="1.2"/><path d="M355.9 201.3L355.9 204.5" stroke="#000" stroke-width="1.2"/><path d="M408.8 241.6L408.8 244.8" stroke="#000" stroke-width="1.2"/><path d="M514.6 246.5L514.6 249.7" stroke="#000" stroke-width="1.2"/><path d="M303.0 57.5C304.8 62.5 309.2 74.4 313.6 87.4C318.0 100.4 322.4 118.0 329.4 135.5C336.5 153.0 342.7 179.7 355.9 192.5C369.1 205.3 382.4 204.4 408.8 212.3C435.2 220.2 497.0 235.3 514.6 239.9" stroke="#000" stroke-width="1.35" fill="none"/><path d="M313.6 85.8L313.6 89.0" stroke="#000" stroke-width="1.2"/><path d="M329.4 133.9L329.4 137.1" stroke="#000" stroke-width="1.2"/><path d="M355.9 190.9L355.9 194.1" stroke="#000" stroke-width="1.2"/><path d="M408.8 210.7L408.8 213.9" stroke="#000" stroke-width="1.2"/><path d="M514.6 238.3L514.6 241.5" stroke="#000" stroke-width="1.2"/><path d="M303.0 57.5C304.8 68.4 309.2 101.8 313.6 122.9C318.0 144.1 322.4 172.9 329.4 184.5C336.5 196.1 342.7 186.5 355.9 192.7C369.1 199.0 382.4 214.7 408.8 221.9C435.2 229.1 497.0 233.7 514.6 236.0" stroke="#000" stroke-width="1.35" fill="none"/><path d="M313.6 121.3L313.6 124.5" stroke="#000" stroke-width="1.2"/><path d="M329.4 182.9L329.4 186.1" stroke="#000" stroke-width="1.2"/><path d="M355.9 191.1L355.9 194.3" stroke="#000" stroke-width="1.2"/><path d="M408.8 220.3L408.8 223.5" stroke="#000" stroke-width="1.2"/><path d="M514.6 234.4L514.6 237.6" stroke="#000" stroke-width="1.2"/><path d="M303.0 57.5C304.8 60.0 309.2 66.1 313.6 72.6C318.0 79.1 322.4 86.8 329.4 96.3C336.5 105.9 342.7 117.1 355.9 129.8C369.1 142.5 382.4 159.9 408.8 172.7C435.2 185.6 497.0 201.3 514.6 207.0" stroke="#000" stroke-width="1.35" fill="none"/><path d="M313.6 71.0L313.6 74.2" stroke="#000" stroke-width="1.2"/><path d="M329.4 94.7L329.4 97.9" stroke="#000" stroke-width="1.2"/><path d="M355.9 128.2L355.9 131.4" stroke="#000" stroke-width="1.2"/><path d="M408.8 171.1L408.8 174.3" stroke="#000" stroke-width="1.2"/><path d="M514.6 205.4L514.6 208.6" stroke="#000" stroke-width="1.2"/><path d="M303.0 57.5C304.8 66.2 309.2 93.4 313.6 109.5C318.0 125.6 322.4 134.4 329.4 154.2C336.5 174.0 342.7 213.9 355.9 228.3C369.1 242.6 382.4 235.2 408.8 240.2C435.2 245.2 497.0 255.4 514.6 258.4" stroke="#000" stroke-width="1.35" fill="none"/><path d="M313.6 107.9L313.6 111.1" stroke="#000" stroke-width="1.2"/><path d="M329.4 152.6L329.4 155.8" stroke="#000" stroke-width="1.2"/><path d="M355.9 226.7L355.9 229.9" stroke="#000" stroke-width="1.2"/><path d="M408.8 238.6L408.8 241.8" stroke="#000" stroke-width="1.2"/><path d="M514.6 256.8L514.6 260.0" stroke="#000" stroke-width="1.2"/><path d="M303.0 57.5C304.8 65.5 309.2 86.2 313.6 105.3C318.0 124.4 322.4 151.9 329.4 171.9C336.5 191.9 342.7 214.3 355.9 225.1C369.1 235.8 382.4 232.7 408.8 236.6C435.2 240.4 497.0 246.2 514.6 248.1" stroke="#000" stroke-width="1.35" fill="none"/><path d="M313.6 103.7L313.6 106.9" stroke="#000" stroke-width="1.2"/><path d="M329.4 170.3L329.4 173.5" stroke="#000" stroke-width="1.2"/><path d="M355.9 223.5L355.9 226.7" stroke="#000" stroke-width="1.2"/><path d="M408.8 235.0L408.8 238.2" stroke="#000" stroke-width="1.2"/><path d="M514.6 246.5L514.6 249.7" stroke="#000" stroke-width="1.2"/><path d="M303.0 57.5C304.8 71.0 309.2 116.3 313.6 138.2C318.0 160.1 322.4 174.8 329.4 188.9C336.5 203.0 342.7 214.1 355.9 223.0C369.1 232.0 382.4 237.5 408.8 242.6C435.2 247.8 497.0 252.0 514.6 253.9" stroke="#000" stroke-width="1.35" fill="none"/><path d="M313.6 136.6L313.6 139.8" stroke="#000" stroke-width="1.2"/><path d="M329.4 187.3L329.4 190.5" stroke="#000" stroke-width="1.2"/><path d="M355.9 221.4L355.9 224.6" stroke="#000" stroke-width="1.2"/><path d="M408.8 241.0L408.8 244.2" stroke="#000" stroke-width="1.2"/><path d="M514.6 252.3L514.6 255.5" stroke="#000" stroke-width="1.2"/><path d="M303.0 57.5C304.8 71.4 309.2 116.0 313.6 141.1C318.0 166.2 322.4 196.5 329.4 208.3C336.5 220.0 342.7 207.1 355.9 211.5C369.1 215.9 382.4 229.1 408.8 234.9C435.2 240.7 497.0 244.4 514.6 246.3" stroke="#000" stroke-width="1.35" fill="none"/><path d="M313.6 139.5L313.6 142.7" stroke="#000" stroke-width="1.2"/><path d="M329.4 206.7L329.4 209.9" stroke="#000" stroke-width="1.2"/><path d="M355.9 209.9L355.9 213.1" stroke="#000" stroke-width="1.2"/><path d="M408.8 233.3L408.8 236.5" stroke="#000" stroke-width="1.2"/><path d="M514.6 244.7L514.6 247.9" stroke="#000" stroke-width="1.2"/><path d="M303.0 57.5C304.8 65.0 309.2 86.9 313.6 102.5C318.0 118.1 322.4 134.2 329.4 151.2C336.5 168.3 342.7 189.4 355.9 204.7C369.1 220.1 382.4 236.8 408.8 243.2C435.2 249.7 497.0 243.4 514.6 243.4" stroke="#000" stroke-width="1.35" fill="none"/><path d="M313.6 100.9L313.6 104.1" stroke="#000" stroke-width="1.2"/><path d="M329.4 149.6L329.4 152.8" stroke="#000" stroke-width="1.2"/><path d="M355.9 203.1L355.9 206.3" stroke="#000" stroke-width="1.2"/><path d="M408.8 241.6L408.8 244.8" stroke="#000" stroke-width="1.2"/><path d="M514.6 241.8L514.6 245.0" stroke="#000" stroke-width="1.2"/><path d="M303.0 57.5C304.8 63.1 309.2 81.8 313.6 91.2C318.0 100.7 322.4 101.1 329.4 114.3C336.5 127.5 342.7 154.6 355.9 170.6C369.1 186.5 382.4 201.5 408.8 210.0C435.2 218.6 497.0 220.1 514.6 222.1" stroke="#000" stroke-width="1.35" fill="none"/><path d="M313.6 89.6L313.6 92.8" stroke="#000" stroke-width="1.2"/><path d="M329.4 112.7L329.4 115.9" stroke="#000" stroke-width="1.2"/><path d="M355.9 169.0L355.9 172.2" stroke="#000" stroke-width="1.2"/><path d="M408.8 208.4L408.8 211.6" stroke="#000" stroke-width="1.2"/><path d="M514.6 220.5L514.6 223.7" stroke="#000" stroke-width="1.2"/><path d="M303.0 57.5C304.8 63.2 309.2 78.4 313.6 91.8C318.0 105.2 322.4 121.5 329.4 137.9C336.5 154.3 342.7 174.7 355.9 190.2C369.1 205.8 382.4 223.0 408.8 231.2C435.2 239.3 497.0 237.6 514.6 238.9" stroke="#000" stroke-width="1.35" fill="none"/><path d="M313.6 90.2L313.6 93.4" stroke="#000" stroke-width="1.2"/><path d="M329.4 136.3L329.4 139.5" stroke="#000" stroke-width="1.2"/><path d="M355.9 188.6L355.9 191.8" stroke="#000" stroke-width="1.2"/><path d="M408.8 229.6L408.8 232.8" stroke="#000" stroke-width="1.2"/><path d="M514.6 237.3L514.6 240.5" stroke="#000" stroke-width="1.2"/><path d="M303.0 57.5C304.8 69.0 309.2 107.9 313.6 126.5C318.0 145.0 322.4 154.6 329.4 169.0C336.5 183.4 342.7 202.3 355.9 212.9C369.1 223.4 382.4 227.4 408.8 232.3C435.2 237.2 497.0 240.5 514.6 242.1" stroke="#000" stroke-width="1.35" fill="none"/><path d="M313.6 124.9L313.6 128.1" stroke="#000" stroke-width="1.2"/><path d="M329.4 167.4L329.4 170.6" stroke="#000" stroke-width="1.2"/><path d="M355.9 211.3L355.9 214.5" stroke="#000" stroke-width="1.2"/><path d="M408.8 230.7L408.8 233.9" stroke="#000" stroke-width="1.2"/><path d="M514.6 240.5L514.6 243.7" stroke="#000" stroke-width="1.2"/><path d="M303.0 57.5C304.8 61.9 309.2 74.6 313.6 84.2C318.0 93.8 322.4 99.7 329.4 114.9C336.5 130.1 342.7 160.6 355.9 175.5C369.1 190.4 382.4 194.4 408.8 204.2C435.2 214.0 497.0 229.3 514.6 234.3" stroke="#000" stroke-width="1.35" fill="none"/><path d="M313.6 82.6L313.6 85.8" stroke="#000" stroke-width="1.2"/><path d="M329.4 113.3L329.4 116.5" stroke="#000" stroke-width="1.2"/><path d="M355.9 173.9L355.9 177.1" stroke="#000" stroke-width="1.2"/><path d="M408.8 202.6L408.8 205.8" stroke="#000" stroke-width="1.2"/><path d="M514.6 232.7L514.6 235.9" stroke="#000" stroke-width="1.2"/><path d="M303.0 57.5C304.8 76.4 309.2 142.7 313.6 171.1C318.0 199.5 322.4 214.4 329.4 227.8C336.5 241.1 342.7 244.9 355.9 251.0C369.1 257.2 382.4 261.6 408.8 264.7C435.2 267.7 497.0 268.5 514.6 269.3" stroke="#000" stroke-width="1.35" fill="none"/><path d="M313.6 169.5L313.6 172.7" stroke="#000" stroke-width="1.2"/><path d="M329.4 226.2L329.4 229.4" stroke="#000" stroke-width="1.2"/><path d="M355.9 249.4L355.9 252.6" stroke="#000" stroke-width="1.2"/><path d="M408.8 263.1L408.8 266.3" stroke="#000" stroke-width="1.2"/><path d="M514.6 267.7L514.6 270.9" stroke="#000" stroke-width="1.2"/><path d="M303.0 57.5C304.8 58.4 309.2 57.4 313.6 62.9C318.0 68.4 322.4 83.6 329.4 90.3C336.5 97.0 342.7 96.8 355.9 102.8C369.1 108.8 382.4 111.1 408.8 126.1C435.2 141.2 497.0 181.9 514.6 193.0" stroke="#d81822" stroke-width="1.35" fill="none"/><path d="M311.6 60.9L315.6 64.9M311.6 64.9L315.6 60.9" stroke="#d81822" stroke-width="1.1" fill="none"/><path d="M327.4 88.3L331.4 92.3M327.4 92.3L331.4 88.3" stroke="#d81822" stroke-width="1.1" fill="none"/><path d="M353.9 100.8L357.9 104.8M353.9 104.8L357.9 100.8" stroke="#d81822" stroke-width="1.1" fill="none"/><path d="M406.8 124.1L410.8 128.1M406.8 128.1L410.8 124.1" stroke="#d81822" stroke-width="1.1" fill="none"/><path d="M512.6 191.0L516.6 195.0M512.6 195.0L516.6 191.0" stroke="#d81822" stroke-width="1.1" fill="none"/><path d="M303.0 57.5C304.8 66.7 309.2 91.1 313.6 112.9C318.0 134.8 322.4 172.7 329.4 188.5C336.5 204.4 342.7 202.8 355.9 208.0C369.1 213.3 382.4 214.1 408.8 220.0C435.2 225.9 497.0 239.5 514.6 243.4" stroke="#000" stroke-width="1.35" fill="none"/><path d="M313.6 111.3L313.6 114.5" stroke="#000" stroke-width="1.2"/><path d="M329.4 186.9L329.4 190.1" stroke="#000" stroke-width="1.2"/><path d="M355.9 206.4L355.9 209.6" stroke="#000" stroke-width="1.2"/><path d="M408.8 218.4L408.8 221.6" stroke="#000" stroke-width="1.2"/><path d="M514.6 241.8L514.6 245.0" stroke="#000" stroke-width="1.2"/><path d="M303.0 57.5C304.8 71.2 309.2 108.2 313.6 139.5C318.0 170.8 322.4 226.5 329.4 245.2C336.5 263.9 342.7 249.9 355.9 251.7C369.1 253.5 382.4 254.6 408.8 256.0C435.2 257.5 497.0 259.6 514.6 260.4" stroke="#000" stroke-width="1.35" fill="none"/><path d="M313.6 137.9L313.6 141.1" stroke="#000" stroke-width="1.2"/><path d="M329.4 243.6L329.4 246.8" stroke="#000" stroke-width="1.2"/><path d="M355.9 250.1L355.9 253.3" stroke="#000" stroke-width="1.2"/><path d="M408.8 254.4L408.8 257.6" stroke="#000" stroke-width="1.2"/><path d="M514.6 258.8L514.6 262.0" stroke="#000" stroke-width="1.2"/><path d="M303.0 57.5C304.8 66.8 309.2 96.2 313.6 113.2C318.0 130.2 322.4 142.3 329.4 159.5C336.5 176.8 342.7 203.5 355.9 216.7C369.1 229.8 382.4 233.8 408.8 238.4C435.2 243.0 497.0 243.2 514.6 244.2" stroke="#000" stroke-width="1.35" fill="none"/><path d="M313.6 111.6L313.6 114.8" stroke="#000" stroke-width="1.2"/><path d="M329.4 157.9L329.4 161.1" stroke="#000" stroke-width="1.2"/><path d="M355.9 215.1L355.9 218.3" stroke="#000" stroke-width="1.2"/><path d="M408.8 236.8L408.8 240.0" stroke="#000" stroke-width="1.2"/><path d="M514.6 242.6L514.6 245.8" stroke="#000" stroke-width="1.2"/><path d="M303.0 57.5C304.8 65.1 309.2 88.4 313.6 103.3C318.0 118.1 322.4 134.0 329.4 146.7C336.5 159.4 342.7 167.4 355.9 179.2C369.1 191.1 382.4 209.9 408.8 218.0C435.2 226.1 497.0 226.1 514.6 227.7" stroke="#000" stroke-width="1.35" fill="none"/><path d="M313.6 101.7L313.6 104.9" stroke="#000" stroke-width="1.2"/><path d="M329.4 145.1L329.4 148.3" stroke="#000" stroke-width="1.2"/><path d="M355.9 177.6L355.9 180.8" stroke="#000" stroke-width="1.2"/><path d="M408.8 216.4L408.8 219.6" stroke="#000" stroke-width="1.2"/><path d="M514.6 226.1L514.6 229.3" stroke="#000" stroke-width="1.2"/><path d="M303.0 57.5C304.8 71.7 309.2 119.6 313.6 142.7C318.0 165.9 322.4 186.0 329.4 196.6C336.5 207.1 342.7 200.3 355.9 206.1C369.1 211.9 382.4 224.4 408.8 231.6C435.2 238.7 497.0 246.0 514.6 248.9" stroke="#000" stroke-width="1.35" fill="none"/><path d="M313.6 141.1L313.6 144.3" stroke="#000" stroke-width="1.2"/><path d="M329.4 195.0L329.4 198.2" stroke="#000" stroke-width="1.2"/><path d="M355.9 204.5L355.9 207.7" stroke="#000" stroke-width="1.2"/><path d="M408.8 230.0L408.8 233.2" stroke="#000" stroke-width="1.2"/><path d="M514.6 247.3L514.6 250.5" stroke="#000" stroke-width="1.2"/></g>
<text x="1" y="14.4" font-size="17.5" font-weight="bold" fill="#000">A</text>
<text x="267" y="12.7" font-size="17" font-weight="bold" fill="#000">B</text>
<text x="157.9" y="11.2" text-anchor="middle" font-size="15.8" fill="#000" stroke="#000" stroke-width="0.3">MI-63</text>
<text x="410.1" y="11.2" text-anchor="middle" font-size="15.3" fill="#000" stroke="#000" stroke-width="0.3">Nutlin 3</text>
<text transform="translate(8.6,142.5) rotate(-90)" text-anchor="middle" font-size="11.95" fill="#000" stroke="#000" stroke-width="0.15">percent live cells</text>
<text x="153.5" y="305.9" text-anchor="middle" font-size="12.3" fill="#000" stroke="#000" stroke-width="0.25">concentration (µM)</text>
<text x="412.1" y="308.3" text-anchor="middle" font-size="12.3" fill="#000" stroke="#000" stroke-width="0.25">concentration (µM)</text>
<text x="40.2" y="60.7" text-anchor="end" font-size="9" fill="#1a1a1a" stroke="#1a1a1a" stroke-width="0.3">100.0%</text><text x="44.4" y="101.8" text-anchor="end" font-size="9" fill="#1a1a1a" stroke="#1a1a1a" stroke-width="0.3">80.0%</text><text x="44.4" y="144.6" text-anchor="end" font-size="9" fill="#1a1a1a" stroke="#1a1a1a" stroke-width="0.3">60.0%</text><text x="44.4" y="188.7" text-anchor="end" font-size="9" fill="#1a1a1a" stroke="#1a1a1a" stroke-width="0.3">40.0%</text><text x="43.7" y="231.0" text-anchor="end" font-size="9" fill="#1a1a1a" stroke="#1a1a1a" stroke-width="0.3">20.0%</text><text x="40.2" y="274.2" text-anchor="end" font-size="9" fill="#1a1a1a" stroke="#1a1a1a" stroke-width="0.3">0.0%</text><text x="299.4" y="60.6" text-anchor="end" font-size="9" fill="#1a1a1a" stroke="#1a1a1a" stroke-width="0.3">100.0%</text><text x="299.8" y="104.5" text-anchor="end" font-size="9" fill="#1a1a1a" stroke="#1a1a1a" stroke-width="0.3">80.0%</text><text x="301.4" y="146.5" text-anchor="end" font-size="9" fill="#1a1a1a" stroke="#1a1a1a" stroke-width="0.3">60.0%</text><text x="301.4" y="189.5" text-anchor="end" font-size="9" fill="#1a1a1a" stroke="#1a1a1a" stroke-width="0.3">40.0%</text><text x="301.0" y="232.6" text-anchor="end" font-size="9" fill="#1a1a1a" stroke="#1a1a1a" stroke-width="0.3">20.0%</text><text x="298.3" y="275.8" text-anchor="end" font-size="9" fill="#1a1a1a" stroke="#1a1a1a" stroke-width="0.3">0.0%</text><text x="46.8" y="286.5" text-anchor="middle" font-size="9" fill="#1a1a1a" stroke="#1a1a1a" stroke-width="0.3">0</text><text x="88.0" y="286.5" text-anchor="middle" font-size="9" fill="#1a1a1a" stroke="#1a1a1a" stroke-width="0.3">2</text><text x="129.3" y="286.5" text-anchor="middle" font-size="9" fill="#1a1a1a" stroke="#1a1a1a" stroke-width="0.3">4</text><text x="170.5" y="286.5" text-anchor="middle" font-size="9" fill="#1a1a1a" stroke="#1a1a1a" stroke-width="0.3">6</text><text x="211.8" y="286.5" text-anchor="middle" font-size="9" fill="#1a1a1a" stroke="#1a1a1a" stroke-width="0.3">8</text><text x="253.0" y="286.5" text-anchor="middle" font-size="9" fill="#1a1a1a" stroke="#1a1a1a" stroke-width="0.3">10</text><text x="303.0" y="286.5" text-anchor="middle" font-size="9" fill="#1a1a1a" stroke="#1a1a1a" stroke-width="0.3">0</text><text x="324.2" y="286.5" text-anchor="middle" font-size="9" fill="#1a1a1a" stroke="#1a1a1a" stroke-width="0.3">2</text><text x="345.3" y="286.5" text-anchor="middle" font-size="9" fill="#1a1a1a" stroke="#1a1a1a" stroke-width="0.3">4</text><text x="366.5" y="286.5" text-anchor="middle" font-size="9" fill="#1a1a1a" stroke="#1a1a1a" stroke-width="0.3">6</text><text x="387.6" y="286.5" text-anchor="middle" font-size="9" fill="#1a1a1a" stroke="#1a1a1a" stroke-width="0.3">8</text><text x="408.8" y="286.5" text-anchor="middle" font-size="9" fill="#1a1a1a" stroke="#1a1a1a" stroke-width="0.3">10</text><text x="430.0" y="286.5" text-anchor="middle" font-size="9" fill="#1a1a1a" stroke="#1a1a1a" stroke-width="0.3">12</text><text x="451.1" y="286.5" text-anchor="middle" font-size="9" fill="#1a1a1a" stroke="#1a1a1a" stroke-width="0.3">14</text><text x="472.3" y="286.5" text-anchor="middle" font-size="9" fill="#1a1a1a" stroke="#1a1a1a" stroke-width="0.3">16</text><text x="493.4" y="286.5" text-anchor="middle" font-size="9" fill="#1a1a1a" stroke="#1a1a1a" stroke-width="0.3">18</text><text x="514.6" y="286.5" text-anchor="middle" font-size="9" fill="#1a1a1a" stroke="#1a1a1a" stroke-width="0.3">20</text>
</svg></div></body></html>
